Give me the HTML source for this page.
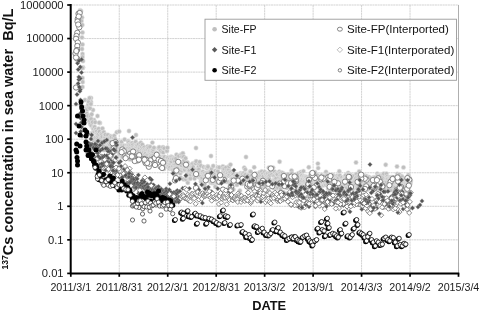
<!DOCTYPE html>
<html><head><meta charset="utf-8"><title>137Cs concentration in sea water</title>
<style>
html,body{margin:0;padding:0;background:#fff;}
svg{display:block;font-family:"Liberation Sans",sans-serif;}
</style></head><body>
<svg width="480" height="312" viewBox="0 0 480 312">
<rect width="480" height="312" fill="#fff"/>
<g stroke="#cbcbcb" stroke-width="0.85" stroke-dasharray="2.1 0.5" fill="none">
<line x1="70.8" y1="5.00" x2="458.5" y2="5.00"/>
<line x1="70.8" y1="38.55" x2="458.5" y2="38.55"/>
<line x1="70.8" y1="72.10" x2="458.5" y2="72.10"/>
<line x1="70.8" y1="105.65" x2="458.5" y2="105.65"/>
<line x1="70.8" y1="139.20" x2="458.5" y2="139.20"/>
<line x1="70.8" y1="172.75" x2="458.5" y2="172.75"/>
<line x1="70.8" y1="206.30" x2="458.5" y2="206.30"/>
<line x1="70.8" y1="239.85" x2="458.5" y2="239.85"/>
<line x1="119.26" y1="5.0" x2="119.26" y2="273.4"/>
<line x1="167.72" y1="5.0" x2="167.72" y2="273.4"/>
<line x1="216.19" y1="5.0" x2="216.19" y2="273.4"/>
<line x1="264.65" y1="5.0" x2="264.65" y2="273.4"/>
<line x1="313.11" y1="5.0" x2="313.11" y2="273.4"/>
<line x1="361.57" y1="5.0" x2="361.57" y2="273.4"/>
<line x1="410.04" y1="5.0" x2="410.04" y2="273.4"/>
</g>
<path d="M458.5 5.0V273.4" fill="none" stroke="#a6a6a6" stroke-width="0.9"/>
<g>
<circle cx="80.0" cy="10.4" r="2.2" fill="#bfbfbf" stroke="#e6e6e6" stroke-width="0.6"/>
<circle cx="81.0" cy="11.0" r="2.2" fill="#bfbfbf" stroke="#e6e6e6" stroke-width="0.6"/>
<circle cx="82.0" cy="17.5" r="2.2" fill="#bfbfbf" stroke="#e6e6e6" stroke-width="0.6"/>
<circle cx="81.5" cy="21.0" r="2.2" fill="#bfbfbf" stroke="#e6e6e6" stroke-width="0.6"/>
<circle cx="82.3" cy="25.0" r="2.2" fill="#bfbfbf" stroke="#e6e6e6" stroke-width="0.6"/>
<circle cx="82.5" cy="32.5" r="2.2" fill="#bfbfbf" stroke="#e6e6e6" stroke-width="0.6"/>
<circle cx="82.0" cy="37.5" r="2.2" fill="#bfbfbf" stroke="#e6e6e6" stroke-width="0.6"/>
<circle cx="82.5" cy="44.5" r="2.2" fill="#bfbfbf" stroke="#e6e6e6" stroke-width="0.6"/>
<circle cx="82.0" cy="49.0" r="2.2" fill="#bfbfbf" stroke="#e6e6e6" stroke-width="0.6"/>
<circle cx="82.5" cy="54.0" r="2.2" fill="#bfbfbf" stroke="#e6e6e6" stroke-width="0.6"/>
<circle cx="82.5" cy="57.0" r="2.2" fill="#bfbfbf" stroke="#e6e6e6" stroke-width="0.6"/>
<circle cx="83.0" cy="67.5" r="2.2" fill="#bfbfbf" stroke="#e6e6e6" stroke-width="0.6"/>
<circle cx="82.5" cy="68.0" r="2.2" fill="#bfbfbf" stroke="#e6e6e6" stroke-width="0.6"/>
<circle cx="82.5" cy="78.0" r="2.2" fill="#bfbfbf" stroke="#e6e6e6" stroke-width="0.6"/>
<circle cx="82.7" cy="82.0" r="2.2" fill="#bfbfbf" stroke="#e6e6e6" stroke-width="0.6"/>
<circle cx="82.5" cy="87.0" r="2.2" fill="#bfbfbf" stroke="#e6e6e6" stroke-width="0.6"/>
<circle cx="83.0" cy="61.0" r="2.2" fill="#bfbfbf" stroke="#e6e6e6" stroke-width="0.6"/>
<circle cx="91.0" cy="98.0" r="2.2" fill="#bfbfbf" stroke="#e6e6e6" stroke-width="0.6"/>
<circle cx="85.0" cy="100.0" r="2.2" fill="#bfbfbf" stroke="#e6e6e6" stroke-width="0.6"/>
<circle cx="91.0" cy="102.0" r="2.2" fill="#bfbfbf" stroke="#e6e6e6" stroke-width="0.6"/>
<circle cx="93.0" cy="110.0" r="2.2" fill="#bfbfbf" stroke="#e6e6e6" stroke-width="0.6"/>
<circle cx="97.5" cy="116.0" r="2.2" fill="#bfbfbf" stroke="#e6e6e6" stroke-width="0.6"/>
<circle cx="89.0" cy="116.0" r="2.2" fill="#bfbfbf" stroke="#e6e6e6" stroke-width="0.6"/>
<circle cx="90.0" cy="122.0" r="2.2" fill="#bfbfbf" stroke="#e6e6e6" stroke-width="0.6"/>
<circle cx="94.0" cy="120.0" r="2.2" fill="#bfbfbf" stroke="#e6e6e6" stroke-width="0.6"/>
<circle cx="100.0" cy="123.0" r="2.2" fill="#bfbfbf" stroke="#e6e6e6" stroke-width="0.6"/>
<circle cx="86.0" cy="110.8" r="2.2" fill="#bfbfbf" stroke="#e6e6e6" stroke-width="0.6"/>
<circle cx="86.3" cy="109.1" r="2.2" fill="#bfbfbf" stroke="#e6e6e6" stroke-width="0.6"/>
<circle cx="86.5" cy="108.2" r="2.2" fill="#bfbfbf" stroke="#e6e6e6" stroke-width="0.6"/>
<circle cx="86.8" cy="113.6" r="2.2" fill="#bfbfbf" stroke="#e6e6e6" stroke-width="0.6"/>
<circle cx="87.1" cy="109.4" r="2.2" fill="#bfbfbf" stroke="#e6e6e6" stroke-width="0.6"/>
<circle cx="87.3" cy="119.0" r="2.2" fill="#bfbfbf" stroke="#e6e6e6" stroke-width="0.6"/>
<circle cx="87.6" cy="116.3" r="2.2" fill="#bfbfbf" stroke="#e6e6e6" stroke-width="0.6"/>
<circle cx="87.9" cy="115.8" r="2.2" fill="#bfbfbf" stroke="#e6e6e6" stroke-width="0.6"/>
<circle cx="88.2" cy="104.8" r="2.2" fill="#bfbfbf" stroke="#e6e6e6" stroke-width="0.6"/>
<circle cx="88.4" cy="100.5" r="2.2" fill="#bfbfbf" stroke="#e6e6e6" stroke-width="0.6"/>
<circle cx="88.7" cy="101.8" r="2.2" fill="#bfbfbf" stroke="#e6e6e6" stroke-width="0.6"/>
<circle cx="89.0" cy="107.7" r="2.2" fill="#bfbfbf" stroke="#e6e6e6" stroke-width="0.6"/>
<circle cx="89.2" cy="121.3" r="2.2" fill="#bfbfbf" stroke="#e6e6e6" stroke-width="0.6"/>
<circle cx="89.5" cy="98.0" r="2.2" fill="#bfbfbf" stroke="#e6e6e6" stroke-width="0.6"/>
<circle cx="89.8" cy="120.9" r="2.2" fill="#bfbfbf" stroke="#e6e6e6" stroke-width="0.6"/>
<circle cx="90.0" cy="108.3" r="2.2" fill="#bfbfbf" stroke="#e6e6e6" stroke-width="0.6"/>
<circle cx="90.3" cy="124.0" r="2.2" fill="#bfbfbf" stroke="#e6e6e6" stroke-width="0.6"/>
<circle cx="90.6" cy="115.9" r="2.2" fill="#bfbfbf" stroke="#e6e6e6" stroke-width="0.6"/>
<circle cx="90.9" cy="104.0" r="2.2" fill="#bfbfbf" stroke="#e6e6e6" stroke-width="0.6"/>
<circle cx="91.1" cy="119.0" r="2.2" fill="#bfbfbf" stroke="#e6e6e6" stroke-width="0.6"/>
<circle cx="91.4" cy="125.8" r="2.2" fill="#bfbfbf" stroke="#e6e6e6" stroke-width="0.6"/>
<circle cx="91.7" cy="114.3" r="2.2" fill="#bfbfbf" stroke="#e6e6e6" stroke-width="0.6"/>
<circle cx="91.9" cy="138.1" r="2.2" fill="#bfbfbf" stroke="#e6e6e6" stroke-width="0.6"/>
<circle cx="92.2" cy="132.9" r="2.2" fill="#bfbfbf" stroke="#e6e6e6" stroke-width="0.6"/>
<circle cx="92.5" cy="122.1" r="2.2" fill="#bfbfbf" stroke="#e6e6e6" stroke-width="0.6"/>
<circle cx="92.7" cy="133.2" r="2.2" fill="#bfbfbf" stroke="#e6e6e6" stroke-width="0.6"/>
<circle cx="93.0" cy="128.6" r="2.2" fill="#bfbfbf" stroke="#e6e6e6" stroke-width="0.6"/>
<circle cx="93.3" cy="127.2" r="2.2" fill="#bfbfbf" stroke="#e6e6e6" stroke-width="0.6"/>
<circle cx="93.6" cy="128.6" r="2.2" fill="#bfbfbf" stroke="#e6e6e6" stroke-width="0.6"/>
<circle cx="93.8" cy="140.4" r="2.2" fill="#bfbfbf" stroke="#e6e6e6" stroke-width="0.6"/>
<circle cx="94.1" cy="131.7" r="2.2" fill="#bfbfbf" stroke="#e6e6e6" stroke-width="0.6"/>
<circle cx="94.4" cy="131.7" r="2.2" fill="#bfbfbf" stroke="#e6e6e6" stroke-width="0.6"/>
<circle cx="94.6" cy="126.9" r="2.2" fill="#bfbfbf" stroke="#e6e6e6" stroke-width="0.6"/>
<circle cx="94.9" cy="138.6" r="2.2" fill="#bfbfbf" stroke="#e6e6e6" stroke-width="0.6"/>
<circle cx="95.2" cy="122.3" r="2.2" fill="#bfbfbf" stroke="#e6e6e6" stroke-width="0.6"/>
<circle cx="95.4" cy="137.5" r="2.2" fill="#bfbfbf" stroke="#e6e6e6" stroke-width="0.6"/>
<circle cx="95.7" cy="129.5" r="2.2" fill="#bfbfbf" stroke="#e6e6e6" stroke-width="0.6"/>
<circle cx="96.0" cy="142.8" r="2.2" fill="#bfbfbf" stroke="#e6e6e6" stroke-width="0.6"/>
<circle cx="96.3" cy="131.3" r="2.2" fill="#bfbfbf" stroke="#e6e6e6" stroke-width="0.6"/>
<circle cx="96.5" cy="132.3" r="2.2" fill="#bfbfbf" stroke="#e6e6e6" stroke-width="0.6"/>
<circle cx="96.8" cy="131.3" r="2.2" fill="#bfbfbf" stroke="#e6e6e6" stroke-width="0.6"/>
<circle cx="97.1" cy="137.5" r="2.2" fill="#bfbfbf" stroke="#e6e6e6" stroke-width="0.6"/>
<circle cx="97.3" cy="133.8" r="2.2" fill="#bfbfbf" stroke="#e6e6e6" stroke-width="0.6"/>
<circle cx="97.6" cy="135.6" r="2.2" fill="#bfbfbf" stroke="#e6e6e6" stroke-width="0.6"/>
<circle cx="97.9" cy="144.8" r="2.2" fill="#bfbfbf" stroke="#e6e6e6" stroke-width="0.6"/>
<circle cx="98.1" cy="136.2" r="2.2" fill="#bfbfbf" stroke="#e6e6e6" stroke-width="0.6"/>
<circle cx="98.4" cy="134.2" r="2.2" fill="#bfbfbf" stroke="#e6e6e6" stroke-width="0.6"/>
<circle cx="98.7" cy="128.8" r="2.2" fill="#bfbfbf" stroke="#e6e6e6" stroke-width="0.6"/>
<circle cx="99.0" cy="140.1" r="2.2" fill="#bfbfbf" stroke="#e6e6e6" stroke-width="0.6"/>
<circle cx="99.2" cy="122.7" r="2.2" fill="#bfbfbf" stroke="#e6e6e6" stroke-width="0.6"/>
<circle cx="99.5" cy="131.6" r="2.2" fill="#bfbfbf" stroke="#e6e6e6" stroke-width="0.6"/>
<circle cx="99.8" cy="155.5" r="2.2" fill="#bfbfbf" stroke="#e6e6e6" stroke-width="0.6"/>
<circle cx="100.0" cy="135.3" r="2.2" fill="#bfbfbf" stroke="#e6e6e6" stroke-width="0.6"/>
<circle cx="100.3" cy="142.1" r="2.2" fill="#bfbfbf" stroke="#e6e6e6" stroke-width="0.6"/>
<circle cx="100.6" cy="138.1" r="2.2" fill="#bfbfbf" stroke="#e6e6e6" stroke-width="0.6"/>
<circle cx="100.8" cy="142.6" r="2.2" fill="#bfbfbf" stroke="#e6e6e6" stroke-width="0.6"/>
<circle cx="101.1" cy="139.2" r="2.2" fill="#bfbfbf" stroke="#e6e6e6" stroke-width="0.6"/>
<circle cx="101.4" cy="133.5" r="2.2" fill="#bfbfbf" stroke="#e6e6e6" stroke-width="0.6"/>
<circle cx="101.7" cy="134.8" r="2.2" fill="#bfbfbf" stroke="#e6e6e6" stroke-width="0.6"/>
<circle cx="101.9" cy="141.3" r="2.2" fill="#bfbfbf" stroke="#e6e6e6" stroke-width="0.6"/>
<circle cx="102.2" cy="136.8" r="2.2" fill="#bfbfbf" stroke="#e6e6e6" stroke-width="0.6"/>
<circle cx="102.5" cy="128.5" r="2.2" fill="#bfbfbf" stroke="#e6e6e6" stroke-width="0.6"/>
<circle cx="102.7" cy="142.8" r="2.2" fill="#bfbfbf" stroke="#e6e6e6" stroke-width="0.6"/>
<circle cx="103.0" cy="145.9" r="2.2" fill="#bfbfbf" stroke="#e6e6e6" stroke-width="0.6"/>
<circle cx="103.3" cy="145.5" r="2.2" fill="#bfbfbf" stroke="#e6e6e6" stroke-width="0.6"/>
<circle cx="103.5" cy="145.8" r="2.2" fill="#bfbfbf" stroke="#e6e6e6" stroke-width="0.6"/>
<circle cx="103.8" cy="132.1" r="2.2" fill="#bfbfbf" stroke="#e6e6e6" stroke-width="0.6"/>
<circle cx="104.1" cy="150.1" r="2.2" fill="#bfbfbf" stroke="#e6e6e6" stroke-width="0.6"/>
<circle cx="104.4" cy="140.0" r="2.2" fill="#bfbfbf" stroke="#e6e6e6" stroke-width="0.6"/>
<circle cx="104.6" cy="135.9" r="2.2" fill="#bfbfbf" stroke="#e6e6e6" stroke-width="0.6"/>
<circle cx="104.9" cy="138.7" r="2.2" fill="#bfbfbf" stroke="#e6e6e6" stroke-width="0.6"/>
<circle cx="105.2" cy="137.3" r="2.2" fill="#bfbfbf" stroke="#e6e6e6" stroke-width="0.6"/>
<circle cx="105.4" cy="134.6" r="2.2" fill="#bfbfbf" stroke="#e6e6e6" stroke-width="0.6"/>
<circle cx="105.7" cy="141.5" r="2.2" fill="#bfbfbf" stroke="#e6e6e6" stroke-width="0.6"/>
<circle cx="106.0" cy="142.7" r="2.2" fill="#bfbfbf" stroke="#e6e6e6" stroke-width="0.6"/>
<circle cx="106.2" cy="140.8" r="2.2" fill="#bfbfbf" stroke="#e6e6e6" stroke-width="0.6"/>
<circle cx="106.5" cy="143.0" r="2.2" fill="#bfbfbf" stroke="#e6e6e6" stroke-width="0.6"/>
<circle cx="106.8" cy="141.3" r="2.2" fill="#bfbfbf" stroke="#e6e6e6" stroke-width="0.6"/>
<circle cx="107.1" cy="138.4" r="2.2" fill="#bfbfbf" stroke="#e6e6e6" stroke-width="0.6"/>
<circle cx="107.3" cy="139.4" r="2.2" fill="#bfbfbf" stroke="#e6e6e6" stroke-width="0.6"/>
<circle cx="107.6" cy="145.6" r="2.2" fill="#bfbfbf" stroke="#e6e6e6" stroke-width="0.6"/>
<circle cx="107.9" cy="135.0" r="2.2" fill="#bfbfbf" stroke="#e6e6e6" stroke-width="0.6"/>
<circle cx="108.1" cy="140.1" r="2.2" fill="#bfbfbf" stroke="#e6e6e6" stroke-width="0.6"/>
<circle cx="108.4" cy="148.5" r="2.2" fill="#bfbfbf" stroke="#e6e6e6" stroke-width="0.6"/>
<circle cx="108.7" cy="144.6" r="2.2" fill="#bfbfbf" stroke="#e6e6e6" stroke-width="0.6"/>
<circle cx="108.9" cy="147.1" r="2.2" fill="#bfbfbf" stroke="#e6e6e6" stroke-width="0.6"/>
<circle cx="109.2" cy="143.7" r="2.2" fill="#bfbfbf" stroke="#e6e6e6" stroke-width="0.6"/>
<circle cx="109.5" cy="137.4" r="2.2" fill="#bfbfbf" stroke="#e6e6e6" stroke-width="0.6"/>
<circle cx="109.8" cy="141.8" r="2.2" fill="#bfbfbf" stroke="#e6e6e6" stroke-width="0.6"/>
<circle cx="110.0" cy="144.8" r="2.2" fill="#bfbfbf" stroke="#e6e6e6" stroke-width="0.6"/>
<circle cx="110.3" cy="142.0" r="2.2" fill="#bfbfbf" stroke="#e6e6e6" stroke-width="0.6"/>
<circle cx="110.6" cy="136.1" r="2.2" fill="#bfbfbf" stroke="#e6e6e6" stroke-width="0.6"/>
<circle cx="110.8" cy="152.3" r="2.2" fill="#bfbfbf" stroke="#e6e6e6" stroke-width="0.6"/>
<circle cx="111.1" cy="147.6" r="2.2" fill="#bfbfbf" stroke="#e6e6e6" stroke-width="0.6"/>
<circle cx="111.4" cy="137.1" r="2.2" fill="#bfbfbf" stroke="#e6e6e6" stroke-width="0.6"/>
<circle cx="111.6" cy="143.5" r="2.2" fill="#bfbfbf" stroke="#e6e6e6" stroke-width="0.6"/>
<circle cx="111.9" cy="150.3" r="2.2" fill="#bfbfbf" stroke="#e6e6e6" stroke-width="0.6"/>
<circle cx="112.2" cy="150.3" r="2.2" fill="#bfbfbf" stroke="#e6e6e6" stroke-width="0.6"/>
<circle cx="112.5" cy="153.3" r="2.2" fill="#bfbfbf" stroke="#e6e6e6" stroke-width="0.6"/>
<circle cx="112.7" cy="150.1" r="2.2" fill="#bfbfbf" stroke="#e6e6e6" stroke-width="0.6"/>
<circle cx="113.0" cy="150.3" r="2.2" fill="#bfbfbf" stroke="#e6e6e6" stroke-width="0.6"/>
<circle cx="113.3" cy="153.4" r="2.2" fill="#bfbfbf" stroke="#e6e6e6" stroke-width="0.6"/>
<circle cx="113.5" cy="137.6" r="2.2" fill="#bfbfbf" stroke="#e6e6e6" stroke-width="0.6"/>
<circle cx="113.8" cy="141.1" r="2.2" fill="#bfbfbf" stroke="#e6e6e6" stroke-width="0.6"/>
<circle cx="114.1" cy="150.4" r="2.2" fill="#bfbfbf" stroke="#e6e6e6" stroke-width="0.6"/>
<circle cx="114.3" cy="135.8" r="2.2" fill="#bfbfbf" stroke="#e6e6e6" stroke-width="0.6"/>
<circle cx="114.6" cy="146.6" r="2.2" fill="#bfbfbf" stroke="#e6e6e6" stroke-width="0.6"/>
<circle cx="114.9" cy="146.7" r="2.2" fill="#bfbfbf" stroke="#e6e6e6" stroke-width="0.6"/>
<circle cx="115.2" cy="139.0" r="2.2" fill="#bfbfbf" stroke="#e6e6e6" stroke-width="0.6"/>
<circle cx="115.4" cy="141.8" r="2.2" fill="#bfbfbf" stroke="#e6e6e6" stroke-width="0.6"/>
<circle cx="115.7" cy="149.2" r="2.2" fill="#bfbfbf" stroke="#e6e6e6" stroke-width="0.6"/>
<circle cx="116.0" cy="148.8" r="2.2" fill="#bfbfbf" stroke="#e6e6e6" stroke-width="0.6"/>
<circle cx="116.2" cy="143.6" r="2.2" fill="#bfbfbf" stroke="#e6e6e6" stroke-width="0.6"/>
<circle cx="116.5" cy="142.5" r="2.2" fill="#bfbfbf" stroke="#e6e6e6" stroke-width="0.6"/>
<circle cx="116.8" cy="132.3" r="2.2" fill="#bfbfbf" stroke="#e6e6e6" stroke-width="0.6"/>
<circle cx="117.0" cy="157.2" r="2.2" fill="#bfbfbf" stroke="#e6e6e6" stroke-width="0.6"/>
<circle cx="117.3" cy="151.6" r="2.2" fill="#bfbfbf" stroke="#e6e6e6" stroke-width="0.6"/>
<circle cx="117.6" cy="147.2" r="2.2" fill="#bfbfbf" stroke="#e6e6e6" stroke-width="0.6"/>
<circle cx="117.9" cy="145.1" r="2.2" fill="#bfbfbf" stroke="#e6e6e6" stroke-width="0.6"/>
<circle cx="118.1" cy="147.0" r="2.2" fill="#bfbfbf" stroke="#e6e6e6" stroke-width="0.6"/>
<circle cx="118.4" cy="146.1" r="2.2" fill="#bfbfbf" stroke="#e6e6e6" stroke-width="0.6"/>
<circle cx="118.7" cy="147.5" r="2.2" fill="#bfbfbf" stroke="#e6e6e6" stroke-width="0.6"/>
<circle cx="118.9" cy="144.2" r="2.2" fill="#bfbfbf" stroke="#e6e6e6" stroke-width="0.6"/>
<circle cx="119.2" cy="131.5" r="2.2" fill="#bfbfbf" stroke="#e6e6e6" stroke-width="0.6"/>
<circle cx="119.5" cy="154.5" r="2.2" fill="#bfbfbf" stroke="#e6e6e6" stroke-width="0.6"/>
<circle cx="119.7" cy="142.1" r="2.2" fill="#bfbfbf" stroke="#e6e6e6" stroke-width="0.6"/>
<circle cx="120.0" cy="153.7" r="2.2" fill="#bfbfbf" stroke="#e6e6e6" stroke-width="0.6"/>
<circle cx="120.3" cy="148.3" r="2.2" fill="#bfbfbf" stroke="#e6e6e6" stroke-width="0.6"/>
<circle cx="120.6" cy="148.3" r="2.2" fill="#bfbfbf" stroke="#e6e6e6" stroke-width="0.6"/>
<circle cx="120.8" cy="150.9" r="2.2" fill="#bfbfbf" stroke="#e6e6e6" stroke-width="0.6"/>
<circle cx="121.1" cy="142.9" r="2.2" fill="#bfbfbf" stroke="#e6e6e6" stroke-width="0.6"/>
<circle cx="121.4" cy="144.8" r="2.2" fill="#bfbfbf" stroke="#e6e6e6" stroke-width="0.6"/>
<circle cx="121.6" cy="141.9" r="2.2" fill="#bfbfbf" stroke="#e6e6e6" stroke-width="0.6"/>
<circle cx="121.9" cy="148.2" r="2.2" fill="#bfbfbf" stroke="#e6e6e6" stroke-width="0.6"/>
<circle cx="122.2" cy="156.9" r="2.2" fill="#bfbfbf" stroke="#e6e6e6" stroke-width="0.6"/>
<circle cx="122.4" cy="146.0" r="2.2" fill="#bfbfbf" stroke="#e6e6e6" stroke-width="0.6"/>
<circle cx="122.7" cy="150.3" r="2.2" fill="#bfbfbf" stroke="#e6e6e6" stroke-width="0.6"/>
<circle cx="123.0" cy="149.7" r="2.2" fill="#bfbfbf" stroke="#e6e6e6" stroke-width="0.6"/>
<circle cx="123.3" cy="148.9" r="2.2" fill="#bfbfbf" stroke="#e6e6e6" stroke-width="0.6"/>
<circle cx="123.5" cy="147.1" r="2.2" fill="#bfbfbf" stroke="#e6e6e6" stroke-width="0.6"/>
<circle cx="123.8" cy="154.4" r="2.2" fill="#bfbfbf" stroke="#e6e6e6" stroke-width="0.6"/>
<circle cx="124.1" cy="148.5" r="2.2" fill="#bfbfbf" stroke="#e6e6e6" stroke-width="0.6"/>
<circle cx="124.3" cy="145.8" r="2.2" fill="#bfbfbf" stroke="#e6e6e6" stroke-width="0.6"/>
<circle cx="124.6" cy="139.5" r="2.2" fill="#bfbfbf" stroke="#e6e6e6" stroke-width="0.6"/>
<circle cx="124.9" cy="153.5" r="2.2" fill="#bfbfbf" stroke="#e6e6e6" stroke-width="0.6"/>
<circle cx="125.1" cy="152.0" r="2.2" fill="#bfbfbf" stroke="#e6e6e6" stroke-width="0.6"/>
<circle cx="125.4" cy="149.8" r="2.2" fill="#bfbfbf" stroke="#e6e6e6" stroke-width="0.6"/>
<circle cx="125.7" cy="147.7" r="2.2" fill="#bfbfbf" stroke="#e6e6e6" stroke-width="0.6"/>
<circle cx="126.0" cy="156.4" r="2.2" fill="#bfbfbf" stroke="#e6e6e6" stroke-width="0.6"/>
<circle cx="126.2" cy="148.5" r="2.2" fill="#bfbfbf" stroke="#e6e6e6" stroke-width="0.6"/>
<circle cx="126.5" cy="145.7" r="2.2" fill="#bfbfbf" stroke="#e6e6e6" stroke-width="0.6"/>
<circle cx="126.8" cy="151.4" r="2.2" fill="#bfbfbf" stroke="#e6e6e6" stroke-width="0.6"/>
<circle cx="127.0" cy="147.2" r="2.2" fill="#bfbfbf" stroke="#e6e6e6" stroke-width="0.6"/>
<circle cx="127.3" cy="148.6" r="2.2" fill="#bfbfbf" stroke="#e6e6e6" stroke-width="0.6"/>
<circle cx="127.6" cy="147.0" r="2.2" fill="#bfbfbf" stroke="#e6e6e6" stroke-width="0.6"/>
<circle cx="127.8" cy="147.9" r="2.2" fill="#bfbfbf" stroke="#e6e6e6" stroke-width="0.6"/>
<circle cx="128.1" cy="141.1" r="2.2" fill="#bfbfbf" stroke="#e6e6e6" stroke-width="0.6"/>
<circle cx="128.4" cy="144.8" r="2.2" fill="#bfbfbf" stroke="#e6e6e6" stroke-width="0.6"/>
<circle cx="128.7" cy="145.3" r="2.2" fill="#bfbfbf" stroke="#e6e6e6" stroke-width="0.6"/>
<circle cx="128.9" cy="142.3" r="2.2" fill="#bfbfbf" stroke="#e6e6e6" stroke-width="0.6"/>
<circle cx="129.2" cy="147.7" r="2.2" fill="#bfbfbf" stroke="#e6e6e6" stroke-width="0.6"/>
<circle cx="129.5" cy="150.2" r="2.2" fill="#bfbfbf" stroke="#e6e6e6" stroke-width="0.6"/>
<circle cx="129.7" cy="144.3" r="2.2" fill="#bfbfbf" stroke="#e6e6e6" stroke-width="0.6"/>
<circle cx="130.0" cy="159.4" r="2.2" fill="#bfbfbf" stroke="#e6e6e6" stroke-width="0.6"/>
<circle cx="130.3" cy="148.4" r="2.2" fill="#bfbfbf" stroke="#e6e6e6" stroke-width="0.6"/>
<circle cx="130.5" cy="151.0" r="2.2" fill="#bfbfbf" stroke="#e6e6e6" stroke-width="0.6"/>
<circle cx="130.8" cy="143.9" r="2.2" fill="#bfbfbf" stroke="#e6e6e6" stroke-width="0.6"/>
<circle cx="131.1" cy="145.0" r="2.2" fill="#bfbfbf" stroke="#e6e6e6" stroke-width="0.6"/>
<circle cx="131.4" cy="157.1" r="2.2" fill="#bfbfbf" stroke="#e6e6e6" stroke-width="0.6"/>
<circle cx="131.6" cy="152.3" r="2.2" fill="#bfbfbf" stroke="#e6e6e6" stroke-width="0.6"/>
<circle cx="131.9" cy="148.6" r="2.2" fill="#bfbfbf" stroke="#e6e6e6" stroke-width="0.6"/>
<circle cx="132.2" cy="142.9" r="2.2" fill="#bfbfbf" stroke="#e6e6e6" stroke-width="0.6"/>
<circle cx="132.4" cy="157.1" r="2.2" fill="#bfbfbf" stroke="#e6e6e6" stroke-width="0.6"/>
<circle cx="132.7" cy="145.0" r="2.2" fill="#bfbfbf" stroke="#e6e6e6" stroke-width="0.6"/>
<circle cx="133.0" cy="147.2" r="2.2" fill="#bfbfbf" stroke="#e6e6e6" stroke-width="0.6"/>
<circle cx="133.2" cy="148.7" r="2.2" fill="#bfbfbf" stroke="#e6e6e6" stroke-width="0.6"/>
<circle cx="133.5" cy="151.3" r="2.2" fill="#bfbfbf" stroke="#e6e6e6" stroke-width="0.6"/>
<circle cx="133.8" cy="149.6" r="2.2" fill="#bfbfbf" stroke="#e6e6e6" stroke-width="0.6"/>
<circle cx="134.1" cy="149.5" r="2.2" fill="#bfbfbf" stroke="#e6e6e6" stroke-width="0.6"/>
<circle cx="134.3" cy="159.3" r="2.2" fill="#bfbfbf" stroke="#e6e6e6" stroke-width="0.6"/>
<circle cx="134.6" cy="150.2" r="2.2" fill="#bfbfbf" stroke="#e6e6e6" stroke-width="0.6"/>
<circle cx="134.9" cy="151.9" r="2.2" fill="#bfbfbf" stroke="#e6e6e6" stroke-width="0.6"/>
<circle cx="135.1" cy="143.0" r="2.2" fill="#bfbfbf" stroke="#e6e6e6" stroke-width="0.6"/>
<circle cx="135.4" cy="153.7" r="2.2" fill="#bfbfbf" stroke="#e6e6e6" stroke-width="0.6"/>
<circle cx="135.7" cy="141.7" r="2.2" fill="#bfbfbf" stroke="#e6e6e6" stroke-width="0.6"/>
<circle cx="135.9" cy="147.0" r="2.2" fill="#bfbfbf" stroke="#e6e6e6" stroke-width="0.6"/>
<circle cx="136.2" cy="161.8" r="2.2" fill="#bfbfbf" stroke="#e6e6e6" stroke-width="0.6"/>
<circle cx="136.5" cy="146.7" r="2.2" fill="#bfbfbf" stroke="#e6e6e6" stroke-width="0.6"/>
<circle cx="136.8" cy="150.4" r="2.2" fill="#bfbfbf" stroke="#e6e6e6" stroke-width="0.6"/>
<circle cx="137.0" cy="145.1" r="2.2" fill="#bfbfbf" stroke="#e6e6e6" stroke-width="0.6"/>
<circle cx="137.3" cy="145.2" r="2.2" fill="#bfbfbf" stroke="#e6e6e6" stroke-width="0.6"/>
<circle cx="137.6" cy="156.3" r="2.2" fill="#bfbfbf" stroke="#e6e6e6" stroke-width="0.6"/>
<circle cx="137.8" cy="148.8" r="2.2" fill="#bfbfbf" stroke="#e6e6e6" stroke-width="0.6"/>
<circle cx="138.1" cy="150.6" r="2.2" fill="#bfbfbf" stroke="#e6e6e6" stroke-width="0.6"/>
<circle cx="138.4" cy="149.7" r="2.2" fill="#bfbfbf" stroke="#e6e6e6" stroke-width="0.6"/>
<circle cx="138.6" cy="144.2" r="2.2" fill="#bfbfbf" stroke="#e6e6e6" stroke-width="0.6"/>
<circle cx="138.9" cy="150.6" r="2.2" fill="#bfbfbf" stroke="#e6e6e6" stroke-width="0.6"/>
<circle cx="139.2" cy="156.7" r="2.2" fill="#bfbfbf" stroke="#e6e6e6" stroke-width="0.6"/>
<circle cx="139.5" cy="147.9" r="2.2" fill="#bfbfbf" stroke="#e6e6e6" stroke-width="0.6"/>
<circle cx="139.7" cy="153.9" r="2.2" fill="#bfbfbf" stroke="#e6e6e6" stroke-width="0.6"/>
<circle cx="140.0" cy="157.1" r="2.2" fill="#bfbfbf" stroke="#e6e6e6" stroke-width="0.6"/>
<circle cx="140.3" cy="146.0" r="2.2" fill="#bfbfbf" stroke="#e6e6e6" stroke-width="0.6"/>
<circle cx="140.5" cy="156.2" r="2.2" fill="#bfbfbf" stroke="#e6e6e6" stroke-width="0.6"/>
<circle cx="140.8" cy="142.8" r="2.2" fill="#bfbfbf" stroke="#e6e6e6" stroke-width="0.6"/>
<circle cx="141.1" cy="155.4" r="2.2" fill="#bfbfbf" stroke="#e6e6e6" stroke-width="0.6"/>
<circle cx="141.3" cy="150.6" r="2.2" fill="#bfbfbf" stroke="#e6e6e6" stroke-width="0.6"/>
<circle cx="141.6" cy="147.0" r="2.2" fill="#bfbfbf" stroke="#e6e6e6" stroke-width="0.6"/>
<circle cx="141.9" cy="151.9" r="2.2" fill="#bfbfbf" stroke="#e6e6e6" stroke-width="0.6"/>
<circle cx="142.2" cy="149.6" r="2.2" fill="#bfbfbf" stroke="#e6e6e6" stroke-width="0.6"/>
<circle cx="142.4" cy="144.6" r="2.2" fill="#bfbfbf" stroke="#e6e6e6" stroke-width="0.6"/>
<circle cx="142.7" cy="158.0" r="2.2" fill="#bfbfbf" stroke="#e6e6e6" stroke-width="0.6"/>
<circle cx="143.0" cy="158.5" r="2.2" fill="#bfbfbf" stroke="#e6e6e6" stroke-width="0.6"/>
<circle cx="143.2" cy="148.1" r="2.2" fill="#bfbfbf" stroke="#e6e6e6" stroke-width="0.6"/>
<circle cx="143.5" cy="151.1" r="2.2" fill="#bfbfbf" stroke="#e6e6e6" stroke-width="0.6"/>
<circle cx="143.8" cy="150.8" r="2.2" fill="#bfbfbf" stroke="#e6e6e6" stroke-width="0.6"/>
<circle cx="144.0" cy="152.1" r="2.2" fill="#bfbfbf" stroke="#e6e6e6" stroke-width="0.6"/>
<circle cx="144.3" cy="147.3" r="2.2" fill="#bfbfbf" stroke="#e6e6e6" stroke-width="0.6"/>
<circle cx="144.6" cy="158.3" r="2.2" fill="#bfbfbf" stroke="#e6e6e6" stroke-width="0.6"/>
<circle cx="144.9" cy="154.0" r="2.2" fill="#bfbfbf" stroke="#e6e6e6" stroke-width="0.6"/>
<circle cx="145.1" cy="149.2" r="2.2" fill="#bfbfbf" stroke="#e6e6e6" stroke-width="0.6"/>
<circle cx="145.4" cy="151.6" r="2.2" fill="#bfbfbf" stroke="#e6e6e6" stroke-width="0.6"/>
<circle cx="145.7" cy="150.4" r="2.2" fill="#bfbfbf" stroke="#e6e6e6" stroke-width="0.6"/>
<circle cx="145.9" cy="153.2" r="2.2" fill="#bfbfbf" stroke="#e6e6e6" stroke-width="0.6"/>
<circle cx="146.2" cy="157.4" r="2.2" fill="#bfbfbf" stroke="#e6e6e6" stroke-width="0.6"/>
<circle cx="146.5" cy="157.6" r="2.2" fill="#bfbfbf" stroke="#e6e6e6" stroke-width="0.6"/>
<circle cx="146.8" cy="149.3" r="2.2" fill="#bfbfbf" stroke="#e6e6e6" stroke-width="0.6"/>
<circle cx="147.0" cy="155.1" r="2.2" fill="#bfbfbf" stroke="#e6e6e6" stroke-width="0.6"/>
<circle cx="147.3" cy="150.4" r="2.2" fill="#bfbfbf" stroke="#e6e6e6" stroke-width="0.6"/>
<circle cx="147.6" cy="146.4" r="2.2" fill="#bfbfbf" stroke="#e6e6e6" stroke-width="0.6"/>
<circle cx="147.8" cy="149.7" r="2.2" fill="#bfbfbf" stroke="#e6e6e6" stroke-width="0.6"/>
<circle cx="148.1" cy="154.9" r="2.2" fill="#bfbfbf" stroke="#e6e6e6" stroke-width="0.6"/>
<circle cx="148.4" cy="147.7" r="2.2" fill="#bfbfbf" stroke="#e6e6e6" stroke-width="0.6"/>
<circle cx="148.6" cy="151.7" r="2.2" fill="#bfbfbf" stroke="#e6e6e6" stroke-width="0.6"/>
<circle cx="148.9" cy="157.5" r="2.2" fill="#bfbfbf" stroke="#e6e6e6" stroke-width="0.6"/>
<circle cx="149.2" cy="152.1" r="2.2" fill="#bfbfbf" stroke="#e6e6e6" stroke-width="0.6"/>
<circle cx="149.5" cy="152.0" r="2.2" fill="#bfbfbf" stroke="#e6e6e6" stroke-width="0.6"/>
<circle cx="149.7" cy="151.0" r="2.2" fill="#bfbfbf" stroke="#e6e6e6" stroke-width="0.6"/>
<circle cx="150.0" cy="146.8" r="2.2" fill="#bfbfbf" stroke="#e6e6e6" stroke-width="0.6"/>
<circle cx="150.3" cy="154.5" r="2.2" fill="#bfbfbf" stroke="#e6e6e6" stroke-width="0.6"/>
<circle cx="150.5" cy="156.0" r="2.2" fill="#bfbfbf" stroke="#e6e6e6" stroke-width="0.6"/>
<circle cx="150.8" cy="156.5" r="2.2" fill="#bfbfbf" stroke="#e6e6e6" stroke-width="0.6"/>
<circle cx="151.1" cy="151.1" r="2.2" fill="#bfbfbf" stroke="#e6e6e6" stroke-width="0.6"/>
<circle cx="151.3" cy="151.3" r="2.2" fill="#bfbfbf" stroke="#e6e6e6" stroke-width="0.6"/>
<circle cx="151.6" cy="160.2" r="2.2" fill="#bfbfbf" stroke="#e6e6e6" stroke-width="0.6"/>
<circle cx="151.9" cy="151.8" r="2.2" fill="#bfbfbf" stroke="#e6e6e6" stroke-width="0.6"/>
<circle cx="152.2" cy="154.9" r="2.2" fill="#bfbfbf" stroke="#e6e6e6" stroke-width="0.6"/>
<circle cx="152.4" cy="142.6" r="2.2" fill="#bfbfbf" stroke="#e6e6e6" stroke-width="0.6"/>
<circle cx="152.7" cy="151.4" r="2.2" fill="#bfbfbf" stroke="#e6e6e6" stroke-width="0.6"/>
<circle cx="153.0" cy="151.5" r="2.2" fill="#bfbfbf" stroke="#e6e6e6" stroke-width="0.6"/>
<circle cx="153.2" cy="149.4" r="2.2" fill="#bfbfbf" stroke="#e6e6e6" stroke-width="0.6"/>
<circle cx="153.5" cy="164.0" r="2.2" fill="#bfbfbf" stroke="#e6e6e6" stroke-width="0.6"/>
<circle cx="153.8" cy="155.1" r="2.2" fill="#bfbfbf" stroke="#e6e6e6" stroke-width="0.6"/>
<circle cx="154.0" cy="147.7" r="2.2" fill="#bfbfbf" stroke="#e6e6e6" stroke-width="0.6"/>
<circle cx="154.3" cy="157.1" r="2.2" fill="#bfbfbf" stroke="#e6e6e6" stroke-width="0.6"/>
<circle cx="154.6" cy="156.9" r="2.2" fill="#bfbfbf" stroke="#e6e6e6" stroke-width="0.6"/>
<circle cx="154.9" cy="157.1" r="2.2" fill="#bfbfbf" stroke="#e6e6e6" stroke-width="0.6"/>
<circle cx="155.1" cy="164.0" r="2.2" fill="#bfbfbf" stroke="#e6e6e6" stroke-width="0.6"/>
<circle cx="155.4" cy="156.9" r="2.2" fill="#bfbfbf" stroke="#e6e6e6" stroke-width="0.6"/>
<circle cx="155.7" cy="157.4" r="2.2" fill="#bfbfbf" stroke="#e6e6e6" stroke-width="0.6"/>
<circle cx="155.9" cy="154.1" r="2.2" fill="#bfbfbf" stroke="#e6e6e6" stroke-width="0.6"/>
<circle cx="156.2" cy="152.6" r="2.2" fill="#bfbfbf" stroke="#e6e6e6" stroke-width="0.6"/>
<circle cx="156.5" cy="157.4" r="2.2" fill="#bfbfbf" stroke="#e6e6e6" stroke-width="0.6"/>
<circle cx="156.7" cy="157.1" r="2.2" fill="#bfbfbf" stroke="#e6e6e6" stroke-width="0.6"/>
<circle cx="157.0" cy="153.4" r="2.2" fill="#bfbfbf" stroke="#e6e6e6" stroke-width="0.6"/>
<circle cx="157.3" cy="155.4" r="2.2" fill="#bfbfbf" stroke="#e6e6e6" stroke-width="0.6"/>
<circle cx="157.6" cy="158.2" r="2.2" fill="#bfbfbf" stroke="#e6e6e6" stroke-width="0.6"/>
<circle cx="157.8" cy="158.7" r="2.2" fill="#bfbfbf" stroke="#e6e6e6" stroke-width="0.6"/>
<circle cx="158.1" cy="155.3" r="2.2" fill="#bfbfbf" stroke="#e6e6e6" stroke-width="0.6"/>
<circle cx="158.4" cy="148.1" r="2.2" fill="#bfbfbf" stroke="#e6e6e6" stroke-width="0.6"/>
<circle cx="158.6" cy="159.3" r="2.2" fill="#bfbfbf" stroke="#e6e6e6" stroke-width="0.6"/>
<circle cx="158.9" cy="156.5" r="2.2" fill="#bfbfbf" stroke="#e6e6e6" stroke-width="0.6"/>
<circle cx="159.2" cy="147.2" r="2.2" fill="#bfbfbf" stroke="#e6e6e6" stroke-width="0.6"/>
<circle cx="159.4" cy="159.3" r="2.2" fill="#bfbfbf" stroke="#e6e6e6" stroke-width="0.6"/>
<circle cx="159.7" cy="160.1" r="2.2" fill="#bfbfbf" stroke="#e6e6e6" stroke-width="0.6"/>
<circle cx="160.0" cy="161.1" r="2.2" fill="#bfbfbf" stroke="#e6e6e6" stroke-width="0.6"/>
<circle cx="160.3" cy="156.9" r="2.2" fill="#bfbfbf" stroke="#e6e6e6" stroke-width="0.6"/>
<circle cx="160.5" cy="150.8" r="2.2" fill="#bfbfbf" stroke="#e6e6e6" stroke-width="0.6"/>
<circle cx="160.8" cy="160.5" r="2.2" fill="#bfbfbf" stroke="#e6e6e6" stroke-width="0.6"/>
<circle cx="161.1" cy="161.2" r="2.2" fill="#bfbfbf" stroke="#e6e6e6" stroke-width="0.6"/>
<circle cx="161.3" cy="158.1" r="2.2" fill="#bfbfbf" stroke="#e6e6e6" stroke-width="0.6"/>
<circle cx="161.6" cy="161.6" r="2.2" fill="#bfbfbf" stroke="#e6e6e6" stroke-width="0.6"/>
<circle cx="161.9" cy="152.0" r="2.2" fill="#bfbfbf" stroke="#e6e6e6" stroke-width="0.6"/>
<circle cx="162.1" cy="165.5" r="2.2" fill="#bfbfbf" stroke="#e6e6e6" stroke-width="0.6"/>
<circle cx="162.4" cy="160.9" r="2.2" fill="#bfbfbf" stroke="#e6e6e6" stroke-width="0.6"/>
<circle cx="162.7" cy="164.5" r="2.2" fill="#bfbfbf" stroke="#e6e6e6" stroke-width="0.6"/>
<circle cx="163.0" cy="147.2" r="2.2" fill="#bfbfbf" stroke="#e6e6e6" stroke-width="0.6"/>
<circle cx="163.2" cy="152.5" r="2.2" fill="#bfbfbf" stroke="#e6e6e6" stroke-width="0.6"/>
<circle cx="163.5" cy="156.9" r="2.2" fill="#bfbfbf" stroke="#e6e6e6" stroke-width="0.6"/>
<circle cx="163.8" cy="158.3" r="2.2" fill="#bfbfbf" stroke="#e6e6e6" stroke-width="0.6"/>
<circle cx="164.0" cy="168.9" r="2.2" fill="#bfbfbf" stroke="#e6e6e6" stroke-width="0.6"/>
<circle cx="164.3" cy="148.3" r="2.2" fill="#bfbfbf" stroke="#e6e6e6" stroke-width="0.6"/>
<circle cx="164.6" cy="156.9" r="2.2" fill="#bfbfbf" stroke="#e6e6e6" stroke-width="0.6"/>
<circle cx="164.8" cy="162.4" r="2.2" fill="#bfbfbf" stroke="#e6e6e6" stroke-width="0.6"/>
<circle cx="165.1" cy="166.5" r="2.2" fill="#bfbfbf" stroke="#e6e6e6" stroke-width="0.6"/>
<circle cx="165.4" cy="160.3" r="2.2" fill="#bfbfbf" stroke="#e6e6e6" stroke-width="0.6"/>
<circle cx="165.7" cy="164.2" r="2.2" fill="#bfbfbf" stroke="#e6e6e6" stroke-width="0.6"/>
<circle cx="165.9" cy="163.2" r="2.2" fill="#bfbfbf" stroke="#e6e6e6" stroke-width="0.6"/>
<circle cx="166.2" cy="163.0" r="2.2" fill="#bfbfbf" stroke="#e6e6e6" stroke-width="0.6"/>
<circle cx="166.5" cy="151.1" r="2.2" fill="#bfbfbf" stroke="#e6e6e6" stroke-width="0.6"/>
<circle cx="166.7" cy="160.7" r="2.2" fill="#bfbfbf" stroke="#e6e6e6" stroke-width="0.6"/>
<circle cx="167.0" cy="150.9" r="2.2" fill="#bfbfbf" stroke="#e6e6e6" stroke-width="0.6"/>
<circle cx="167.3" cy="157.6" r="2.2" fill="#bfbfbf" stroke="#e6e6e6" stroke-width="0.6"/>
<circle cx="167.5" cy="147.7" r="2.2" fill="#bfbfbf" stroke="#e6e6e6" stroke-width="0.6"/>
<circle cx="167.8" cy="166.7" r="2.2" fill="#bfbfbf" stroke="#e6e6e6" stroke-width="0.6"/>
<circle cx="168.1" cy="157.8" r="2.2" fill="#bfbfbf" stroke="#e6e6e6" stroke-width="0.6"/>
<circle cx="168.4" cy="166.0" r="2.2" fill="#bfbfbf" stroke="#e6e6e6" stroke-width="0.6"/>
<circle cx="168.6" cy="160.8" r="2.2" fill="#bfbfbf" stroke="#e6e6e6" stroke-width="0.6"/>
<circle cx="168.9" cy="165.8" r="2.2" fill="#bfbfbf" stroke="#e6e6e6" stroke-width="0.6"/>
<circle cx="169.2" cy="168.6" r="2.2" fill="#bfbfbf" stroke="#e6e6e6" stroke-width="0.6"/>
<circle cx="169.4" cy="163.6" r="2.2" fill="#bfbfbf" stroke="#e6e6e6" stroke-width="0.6"/>
<circle cx="169.7" cy="158.7" r="2.2" fill="#bfbfbf" stroke="#e6e6e6" stroke-width="0.6"/>
<circle cx="170.0" cy="167.4" r="2.2" fill="#bfbfbf" stroke="#e6e6e6" stroke-width="0.6"/>
<circle cx="170.2" cy="161.1" r="2.2" fill="#bfbfbf" stroke="#e6e6e6" stroke-width="0.6"/>
<circle cx="170.5" cy="163.4" r="2.2" fill="#bfbfbf" stroke="#e6e6e6" stroke-width="0.6"/>
<circle cx="170.8" cy="162.1" r="2.2" fill="#bfbfbf" stroke="#e6e6e6" stroke-width="0.6"/>
<circle cx="171.1" cy="156.6" r="2.2" fill="#bfbfbf" stroke="#e6e6e6" stroke-width="0.6"/>
<circle cx="171.3" cy="161.3" r="2.2" fill="#bfbfbf" stroke="#e6e6e6" stroke-width="0.6"/>
<circle cx="171.6" cy="168.9" r="2.2" fill="#bfbfbf" stroke="#e6e6e6" stroke-width="0.6"/>
<circle cx="171.9" cy="157.3" r="2.2" fill="#bfbfbf" stroke="#e6e6e6" stroke-width="0.6"/>
<circle cx="172.1" cy="158.9" r="2.2" fill="#bfbfbf" stroke="#e6e6e6" stroke-width="0.6"/>
<circle cx="172.4" cy="169.2" r="2.2" fill="#bfbfbf" stroke="#e6e6e6" stroke-width="0.6"/>
<circle cx="172.7" cy="166.0" r="2.2" fill="#bfbfbf" stroke="#e6e6e6" stroke-width="0.6"/>
<circle cx="172.9" cy="169.3" r="2.2" fill="#bfbfbf" stroke="#e6e6e6" stroke-width="0.6"/>
<circle cx="173.2" cy="169.9" r="2.2" fill="#bfbfbf" stroke="#e6e6e6" stroke-width="0.6"/>
<circle cx="173.5" cy="158.3" r="2.2" fill="#bfbfbf" stroke="#e6e6e6" stroke-width="0.6"/>
<circle cx="173.8" cy="159.3" r="2.2" fill="#bfbfbf" stroke="#e6e6e6" stroke-width="0.6"/>
<circle cx="174.0" cy="165.2" r="2.2" fill="#bfbfbf" stroke="#e6e6e6" stroke-width="0.6"/>
<circle cx="174.3" cy="164.2" r="2.2" fill="#bfbfbf" stroke="#e6e6e6" stroke-width="0.6"/>
<circle cx="174.6" cy="169.3" r="2.2" fill="#bfbfbf" stroke="#e6e6e6" stroke-width="0.6"/>
<circle cx="174.8" cy="161.3" r="2.2" fill="#bfbfbf" stroke="#e6e6e6" stroke-width="0.6"/>
<circle cx="175.1" cy="177.5" r="2.2" fill="#bfbfbf" stroke="#e6e6e6" stroke-width="0.6"/>
<circle cx="175.4" cy="164.5" r="2.2" fill="#bfbfbf" stroke="#e6e6e6" stroke-width="0.6"/>
<circle cx="175.6" cy="173.5" r="2.2" fill="#bfbfbf" stroke="#e6e6e6" stroke-width="0.6"/>
<circle cx="175.9" cy="158.5" r="2.2" fill="#bfbfbf" stroke="#e6e6e6" stroke-width="0.6"/>
<circle cx="176.2" cy="167.2" r="2.2" fill="#bfbfbf" stroke="#e6e6e6" stroke-width="0.6"/>
<circle cx="176.5" cy="154.7" r="2.2" fill="#bfbfbf" stroke="#e6e6e6" stroke-width="0.6"/>
<circle cx="176.7" cy="168.7" r="2.2" fill="#bfbfbf" stroke="#e6e6e6" stroke-width="0.6"/>
<circle cx="177.0" cy="163.9" r="2.2" fill="#bfbfbf" stroke="#e6e6e6" stroke-width="0.6"/>
<circle cx="177.3" cy="168.6" r="2.2" fill="#bfbfbf" stroke="#e6e6e6" stroke-width="0.6"/>
<circle cx="177.5" cy="168.0" r="2.2" fill="#bfbfbf" stroke="#e6e6e6" stroke-width="0.6"/>
<circle cx="177.8" cy="162.9" r="2.2" fill="#bfbfbf" stroke="#e6e6e6" stroke-width="0.6"/>
<circle cx="178.1" cy="172.0" r="2.2" fill="#bfbfbf" stroke="#e6e6e6" stroke-width="0.6"/>
<circle cx="178.3" cy="160.9" r="2.2" fill="#bfbfbf" stroke="#e6e6e6" stroke-width="0.6"/>
<circle cx="178.6" cy="164.1" r="2.2" fill="#bfbfbf" stroke="#e6e6e6" stroke-width="0.6"/>
<circle cx="178.9" cy="156.0" r="2.2" fill="#bfbfbf" stroke="#e6e6e6" stroke-width="0.6"/>
<circle cx="179.2" cy="163.4" r="2.2" fill="#bfbfbf" stroke="#e6e6e6" stroke-width="0.6"/>
<circle cx="179.4" cy="171.5" r="2.2" fill="#bfbfbf" stroke="#e6e6e6" stroke-width="0.6"/>
<circle cx="179.7" cy="170.1" r="2.2" fill="#bfbfbf" stroke="#e6e6e6" stroke-width="0.6"/>
<circle cx="180.0" cy="164.6" r="2.2" fill="#bfbfbf" stroke="#e6e6e6" stroke-width="0.6"/>
<circle cx="180.2" cy="173.4" r="2.2" fill="#bfbfbf" stroke="#e6e6e6" stroke-width="0.6"/>
<circle cx="180.5" cy="170.2" r="2.2" fill="#bfbfbf" stroke="#e6e6e6" stroke-width="0.6"/>
<circle cx="180.8" cy="177.9" r="2.2" fill="#bfbfbf" stroke="#e6e6e6" stroke-width="0.6"/>
<circle cx="181.0" cy="169.8" r="2.2" fill="#bfbfbf" stroke="#e6e6e6" stroke-width="0.6"/>
<circle cx="181.3" cy="154.4" r="2.2" fill="#bfbfbf" stroke="#e6e6e6" stroke-width="0.6"/>
<circle cx="181.6" cy="165.5" r="2.2" fill="#bfbfbf" stroke="#e6e6e6" stroke-width="0.6"/>
<circle cx="181.9" cy="170.8" r="2.2" fill="#bfbfbf" stroke="#e6e6e6" stroke-width="0.6"/>
<circle cx="182.1" cy="156.7" r="2.2" fill="#bfbfbf" stroke="#e6e6e6" stroke-width="0.6"/>
<circle cx="182.4" cy="162.5" r="2.2" fill="#bfbfbf" stroke="#e6e6e6" stroke-width="0.6"/>
<circle cx="182.7" cy="163.4" r="2.2" fill="#bfbfbf" stroke="#e6e6e6" stroke-width="0.6"/>
<circle cx="182.9" cy="153.3" r="2.2" fill="#bfbfbf" stroke="#e6e6e6" stroke-width="0.6"/>
<circle cx="183.2" cy="168.8" r="2.2" fill="#bfbfbf" stroke="#e6e6e6" stroke-width="0.6"/>
<circle cx="183.5" cy="179.3" r="2.2" fill="#bfbfbf" stroke="#e6e6e6" stroke-width="0.6"/>
<circle cx="183.7" cy="156.7" r="2.2" fill="#bfbfbf" stroke="#e6e6e6" stroke-width="0.6"/>
<circle cx="184.0" cy="160.4" r="2.2" fill="#bfbfbf" stroke="#e6e6e6" stroke-width="0.6"/>
<circle cx="184.3" cy="168.2" r="2.2" fill="#bfbfbf" stroke="#e6e6e6" stroke-width="0.6"/>
<circle cx="184.6" cy="169.9" r="2.2" fill="#bfbfbf" stroke="#e6e6e6" stroke-width="0.6"/>
<circle cx="184.8" cy="169.7" r="2.2" fill="#bfbfbf" stroke="#e6e6e6" stroke-width="0.6"/>
<circle cx="185.1" cy="166.2" r="2.2" fill="#bfbfbf" stroke="#e6e6e6" stroke-width="0.6"/>
<circle cx="185.4" cy="164.9" r="2.2" fill="#bfbfbf" stroke="#e6e6e6" stroke-width="0.6"/>
<circle cx="185.6" cy="158.2" r="2.2" fill="#bfbfbf" stroke="#e6e6e6" stroke-width="0.6"/>
<circle cx="185.9" cy="179.4" r="2.2" fill="#bfbfbf" stroke="#e6e6e6" stroke-width="0.6"/>
<circle cx="186.2" cy="176.4" r="2.2" fill="#bfbfbf" stroke="#e6e6e6" stroke-width="0.6"/>
<circle cx="186.4" cy="164.5" r="2.2" fill="#bfbfbf" stroke="#e6e6e6" stroke-width="0.6"/>
<circle cx="186.7" cy="168.3" r="2.2" fill="#bfbfbf" stroke="#e6e6e6" stroke-width="0.6"/>
<circle cx="187.0" cy="167.0" r="2.2" fill="#bfbfbf" stroke="#e6e6e6" stroke-width="0.6"/>
<circle cx="187.3" cy="166.3" r="2.2" fill="#bfbfbf" stroke="#e6e6e6" stroke-width="0.6"/>
<circle cx="187.5" cy="162.5" r="2.2" fill="#bfbfbf" stroke="#e6e6e6" stroke-width="0.6"/>
<circle cx="187.8" cy="182.8" r="2.2" fill="#bfbfbf" stroke="#e6e6e6" stroke-width="0.6"/>
<circle cx="188.1" cy="167.8" r="2.2" fill="#bfbfbf" stroke="#e6e6e6" stroke-width="0.6"/>
<circle cx="188.3" cy="173.6" r="2.2" fill="#bfbfbf" stroke="#e6e6e6" stroke-width="0.6"/>
<circle cx="188.6" cy="168.2" r="2.2" fill="#bfbfbf" stroke="#e6e6e6" stroke-width="0.6"/>
<circle cx="188.9" cy="171.2" r="2.2" fill="#bfbfbf" stroke="#e6e6e6" stroke-width="0.6"/>
<circle cx="189.1" cy="179.0" r="2.2" fill="#bfbfbf" stroke="#e6e6e6" stroke-width="0.6"/>
<circle cx="189.4" cy="170.3" r="2.2" fill="#bfbfbf" stroke="#e6e6e6" stroke-width="0.6"/>
<circle cx="189.7" cy="178.8" r="2.2" fill="#bfbfbf" stroke="#e6e6e6" stroke-width="0.6"/>
<circle cx="190.0" cy="166.0" r="2.2" fill="#bfbfbf" stroke="#e6e6e6" stroke-width="0.6"/>
<circle cx="190.2" cy="174.0" r="2.2" fill="#bfbfbf" stroke="#e6e6e6" stroke-width="0.6"/>
<circle cx="190.5" cy="178.5" r="2.2" fill="#bfbfbf" stroke="#e6e6e6" stroke-width="0.6"/>
<circle cx="190.8" cy="174.7" r="2.2" fill="#bfbfbf" stroke="#e6e6e6" stroke-width="0.6"/>
<circle cx="191.0" cy="166.3" r="2.2" fill="#bfbfbf" stroke="#e6e6e6" stroke-width="0.6"/>
<circle cx="191.3" cy="164.8" r="2.2" fill="#bfbfbf" stroke="#e6e6e6" stroke-width="0.6"/>
<circle cx="191.6" cy="168.2" r="2.2" fill="#bfbfbf" stroke="#e6e6e6" stroke-width="0.6"/>
<circle cx="191.8" cy="166.6" r="2.2" fill="#bfbfbf" stroke="#e6e6e6" stroke-width="0.6"/>
<circle cx="192.1" cy="172.4" r="2.2" fill="#bfbfbf" stroke="#e6e6e6" stroke-width="0.6"/>
<circle cx="192.4" cy="169.4" r="2.2" fill="#bfbfbf" stroke="#e6e6e6" stroke-width="0.6"/>
<circle cx="192.7" cy="166.2" r="2.2" fill="#bfbfbf" stroke="#e6e6e6" stroke-width="0.6"/>
<circle cx="192.9" cy="163.5" r="2.2" fill="#bfbfbf" stroke="#e6e6e6" stroke-width="0.6"/>
<circle cx="193.2" cy="167.0" r="2.2" fill="#bfbfbf" stroke="#e6e6e6" stroke-width="0.6"/>
<circle cx="193.5" cy="170.6" r="2.2" fill="#bfbfbf" stroke="#e6e6e6" stroke-width="0.6"/>
<circle cx="193.7" cy="175.2" r="2.2" fill="#bfbfbf" stroke="#e6e6e6" stroke-width="0.6"/>
<circle cx="194.0" cy="173.2" r="2.2" fill="#bfbfbf" stroke="#e6e6e6" stroke-width="0.6"/>
<circle cx="194.3" cy="174.9" r="2.2" fill="#bfbfbf" stroke="#e6e6e6" stroke-width="0.6"/>
<circle cx="194.5" cy="178.6" r="2.2" fill="#bfbfbf" stroke="#e6e6e6" stroke-width="0.6"/>
<circle cx="194.8" cy="173.6" r="2.2" fill="#bfbfbf" stroke="#e6e6e6" stroke-width="0.6"/>
<circle cx="195.1" cy="162.6" r="2.2" fill="#bfbfbf" stroke="#e6e6e6" stroke-width="0.6"/>
<circle cx="195.4" cy="169.8" r="2.2" fill="#bfbfbf" stroke="#e6e6e6" stroke-width="0.6"/>
<circle cx="195.6" cy="163.3" r="2.2" fill="#bfbfbf" stroke="#e6e6e6" stroke-width="0.6"/>
<circle cx="195.9" cy="172.2" r="2.2" fill="#bfbfbf" stroke="#e6e6e6" stroke-width="0.6"/>
<circle cx="196.2" cy="161.3" r="2.2" fill="#bfbfbf" stroke="#e6e6e6" stroke-width="0.6"/>
<circle cx="196.4" cy="171.1" r="2.2" fill="#bfbfbf" stroke="#e6e6e6" stroke-width="0.6"/>
<circle cx="196.7" cy="172.3" r="2.2" fill="#bfbfbf" stroke="#e6e6e6" stroke-width="0.6"/>
<circle cx="197.0" cy="175.1" r="2.2" fill="#bfbfbf" stroke="#e6e6e6" stroke-width="0.6"/>
<circle cx="197.2" cy="171.7" r="2.2" fill="#bfbfbf" stroke="#e6e6e6" stroke-width="0.6"/>
<circle cx="197.5" cy="187.4" r="2.2" fill="#bfbfbf" stroke="#e6e6e6" stroke-width="0.6"/>
<circle cx="197.8" cy="169.2" r="2.2" fill="#bfbfbf" stroke="#e6e6e6" stroke-width="0.6"/>
<circle cx="198.1" cy="176.8" r="2.2" fill="#bfbfbf" stroke="#e6e6e6" stroke-width="0.6"/>
<circle cx="198.3" cy="169.3" r="2.2" fill="#bfbfbf" stroke="#e6e6e6" stroke-width="0.6"/>
<circle cx="198.6" cy="166.4" r="2.2" fill="#bfbfbf" stroke="#e6e6e6" stroke-width="0.6"/>
<circle cx="198.9" cy="169.4" r="2.2" fill="#bfbfbf" stroke="#e6e6e6" stroke-width="0.6"/>
<circle cx="199.1" cy="163.7" r="2.2" fill="#bfbfbf" stroke="#e6e6e6" stroke-width="0.6"/>
<circle cx="199.4" cy="173.3" r="2.2" fill="#bfbfbf" stroke="#e6e6e6" stroke-width="0.6"/>
<circle cx="199.7" cy="161.9" r="2.2" fill="#bfbfbf" stroke="#e6e6e6" stroke-width="0.6"/>
<circle cx="199.9" cy="177.4" r="2.2" fill="#bfbfbf" stroke="#e6e6e6" stroke-width="0.6"/>
<circle cx="200.2" cy="172.2" r="2.2" fill="#bfbfbf" stroke="#e6e6e6" stroke-width="0.6"/>
<circle cx="200.5" cy="176.5" r="2.2" fill="#bfbfbf" stroke="#e6e6e6" stroke-width="0.6"/>
<circle cx="200.8" cy="165.8" r="2.2" fill="#bfbfbf" stroke="#e6e6e6" stroke-width="0.6"/>
<circle cx="201.0" cy="181.6" r="2.2" fill="#bfbfbf" stroke="#e6e6e6" stroke-width="0.6"/>
<circle cx="201.3" cy="179.9" r="2.2" fill="#bfbfbf" stroke="#e6e6e6" stroke-width="0.6"/>
<circle cx="201.6" cy="178.6" r="2.2" fill="#bfbfbf" stroke="#e6e6e6" stroke-width="0.6"/>
<circle cx="201.8" cy="172.1" r="2.2" fill="#bfbfbf" stroke="#e6e6e6" stroke-width="0.6"/>
<circle cx="202.1" cy="177.7" r="2.2" fill="#bfbfbf" stroke="#e6e6e6" stroke-width="0.6"/>
<circle cx="202.4" cy="172.7" r="2.2" fill="#bfbfbf" stroke="#e6e6e6" stroke-width="0.6"/>
<circle cx="202.6" cy="173.6" r="2.2" fill="#bfbfbf" stroke="#e6e6e6" stroke-width="0.6"/>
<circle cx="202.9" cy="171.7" r="2.2" fill="#bfbfbf" stroke="#e6e6e6" stroke-width="0.6"/>
<circle cx="203.2" cy="174.1" r="2.2" fill="#bfbfbf" stroke="#e6e6e6" stroke-width="0.6"/>
<circle cx="203.5" cy="175.4" r="2.2" fill="#bfbfbf" stroke="#e6e6e6" stroke-width="0.6"/>
<circle cx="203.7" cy="167.0" r="2.2" fill="#bfbfbf" stroke="#e6e6e6" stroke-width="0.6"/>
<circle cx="204.0" cy="186.2" r="2.2" fill="#bfbfbf" stroke="#e6e6e6" stroke-width="0.6"/>
<circle cx="204.3" cy="175.2" r="2.2" fill="#bfbfbf" stroke="#e6e6e6" stroke-width="0.6"/>
<circle cx="204.5" cy="184.5" r="2.2" fill="#bfbfbf" stroke="#e6e6e6" stroke-width="0.6"/>
<circle cx="204.8" cy="173.2" r="2.2" fill="#bfbfbf" stroke="#e6e6e6" stroke-width="0.6"/>
<circle cx="205.1" cy="178.4" r="2.2" fill="#bfbfbf" stroke="#e6e6e6" stroke-width="0.6"/>
<circle cx="205.3" cy="175.8" r="2.2" fill="#bfbfbf" stroke="#e6e6e6" stroke-width="0.6"/>
<circle cx="205.6" cy="174.8" r="2.2" fill="#bfbfbf" stroke="#e6e6e6" stroke-width="0.6"/>
<circle cx="205.9" cy="167.3" r="2.2" fill="#bfbfbf" stroke="#e6e6e6" stroke-width="0.6"/>
<circle cx="206.2" cy="179.5" r="2.2" fill="#bfbfbf" stroke="#e6e6e6" stroke-width="0.6"/>
<circle cx="206.4" cy="172.8" r="2.2" fill="#bfbfbf" stroke="#e6e6e6" stroke-width="0.6"/>
<circle cx="206.7" cy="167.9" r="2.2" fill="#bfbfbf" stroke="#e6e6e6" stroke-width="0.6"/>
<circle cx="207.0" cy="168.0" r="2.2" fill="#bfbfbf" stroke="#e6e6e6" stroke-width="0.6"/>
<circle cx="207.2" cy="188.4" r="2.2" fill="#bfbfbf" stroke="#e6e6e6" stroke-width="0.6"/>
<circle cx="207.5" cy="173.2" r="2.2" fill="#bfbfbf" stroke="#e6e6e6" stroke-width="0.6"/>
<circle cx="207.8" cy="166.4" r="2.2" fill="#bfbfbf" stroke="#e6e6e6" stroke-width="0.6"/>
<circle cx="208.0" cy="166.8" r="2.2" fill="#bfbfbf" stroke="#e6e6e6" stroke-width="0.6"/>
<circle cx="208.3" cy="174.5" r="2.2" fill="#bfbfbf" stroke="#e6e6e6" stroke-width="0.6"/>
<circle cx="208.6" cy="176.0" r="2.2" fill="#bfbfbf" stroke="#e6e6e6" stroke-width="0.6"/>
<circle cx="208.9" cy="176.6" r="2.2" fill="#bfbfbf" stroke="#e6e6e6" stroke-width="0.6"/>
<circle cx="209.1" cy="175.2" r="2.2" fill="#bfbfbf" stroke="#e6e6e6" stroke-width="0.6"/>
<circle cx="209.4" cy="171.9" r="2.2" fill="#bfbfbf" stroke="#e6e6e6" stroke-width="0.6"/>
<circle cx="209.7" cy="180.5" r="2.2" fill="#bfbfbf" stroke="#e6e6e6" stroke-width="0.6"/>
<circle cx="209.9" cy="176.1" r="2.2" fill="#bfbfbf" stroke="#e6e6e6" stroke-width="0.6"/>
<circle cx="210.2" cy="181.5" r="2.2" fill="#bfbfbf" stroke="#e6e6e6" stroke-width="0.6"/>
<circle cx="210.5" cy="171.1" r="2.2" fill="#bfbfbf" stroke="#e6e6e6" stroke-width="0.6"/>
<circle cx="210.7" cy="177.2" r="2.2" fill="#bfbfbf" stroke="#e6e6e6" stroke-width="0.6"/>
<circle cx="211.0" cy="182.6" r="2.2" fill="#bfbfbf" stroke="#e6e6e6" stroke-width="0.6"/>
<circle cx="211.3" cy="182.7" r="2.2" fill="#bfbfbf" stroke="#e6e6e6" stroke-width="0.6"/>
<circle cx="211.6" cy="169.0" r="2.2" fill="#bfbfbf" stroke="#e6e6e6" stroke-width="0.6"/>
<circle cx="211.8" cy="175.1" r="2.2" fill="#bfbfbf" stroke="#e6e6e6" stroke-width="0.6"/>
<circle cx="212.1" cy="173.6" r="2.2" fill="#bfbfbf" stroke="#e6e6e6" stroke-width="0.6"/>
<circle cx="212.4" cy="183.0" r="2.2" fill="#bfbfbf" stroke="#e6e6e6" stroke-width="0.6"/>
<circle cx="212.6" cy="178.3" r="2.2" fill="#bfbfbf" stroke="#e6e6e6" stroke-width="0.6"/>
<circle cx="212.9" cy="172.1" r="2.2" fill="#bfbfbf" stroke="#e6e6e6" stroke-width="0.6"/>
<circle cx="213.2" cy="166.0" r="2.2" fill="#bfbfbf" stroke="#e6e6e6" stroke-width="0.6"/>
<circle cx="213.4" cy="176.5" r="2.2" fill="#bfbfbf" stroke="#e6e6e6" stroke-width="0.6"/>
<circle cx="213.7" cy="172.8" r="2.2" fill="#bfbfbf" stroke="#e6e6e6" stroke-width="0.6"/>
<circle cx="214.0" cy="182.9" r="2.2" fill="#bfbfbf" stroke="#e6e6e6" stroke-width="0.6"/>
<circle cx="214.3" cy="181.6" r="2.2" fill="#bfbfbf" stroke="#e6e6e6" stroke-width="0.6"/>
<circle cx="214.5" cy="179.9" r="2.2" fill="#bfbfbf" stroke="#e6e6e6" stroke-width="0.6"/>
<circle cx="214.8" cy="171.5" r="2.2" fill="#bfbfbf" stroke="#e6e6e6" stroke-width="0.6"/>
<circle cx="215.1" cy="174.6" r="2.2" fill="#bfbfbf" stroke="#e6e6e6" stroke-width="0.6"/>
<circle cx="215.3" cy="186.7" r="2.2" fill="#bfbfbf" stroke="#e6e6e6" stroke-width="0.6"/>
<circle cx="215.6" cy="170.7" r="2.2" fill="#bfbfbf" stroke="#e6e6e6" stroke-width="0.6"/>
<circle cx="215.9" cy="181.3" r="2.2" fill="#bfbfbf" stroke="#e6e6e6" stroke-width="0.6"/>
<circle cx="216.1" cy="176.2" r="2.2" fill="#bfbfbf" stroke="#e6e6e6" stroke-width="0.6"/>
<circle cx="216.4" cy="180.5" r="2.2" fill="#bfbfbf" stroke="#e6e6e6" stroke-width="0.6"/>
<circle cx="216.7" cy="182.8" r="2.2" fill="#bfbfbf" stroke="#e6e6e6" stroke-width="0.6"/>
<circle cx="217.0" cy="180.5" r="2.2" fill="#bfbfbf" stroke="#e6e6e6" stroke-width="0.6"/>
<circle cx="217.2" cy="182.4" r="2.2" fill="#bfbfbf" stroke="#e6e6e6" stroke-width="0.6"/>
<circle cx="217.5" cy="171.4" r="2.2" fill="#bfbfbf" stroke="#e6e6e6" stroke-width="0.6"/>
<circle cx="217.8" cy="171.2" r="2.2" fill="#bfbfbf" stroke="#e6e6e6" stroke-width="0.6"/>
<circle cx="218.0" cy="167.3" r="2.2" fill="#bfbfbf" stroke="#e6e6e6" stroke-width="0.6"/>
<circle cx="218.3" cy="179.7" r="2.2" fill="#bfbfbf" stroke="#e6e6e6" stroke-width="0.6"/>
<circle cx="218.6" cy="175.9" r="2.2" fill="#bfbfbf" stroke="#e6e6e6" stroke-width="0.6"/>
<circle cx="218.8" cy="176.9" r="2.2" fill="#bfbfbf" stroke="#e6e6e6" stroke-width="0.6"/>
<circle cx="219.1" cy="180.3" r="2.2" fill="#bfbfbf" stroke="#e6e6e6" stroke-width="0.6"/>
<circle cx="219.4" cy="167.4" r="2.2" fill="#bfbfbf" stroke="#e6e6e6" stroke-width="0.6"/>
<circle cx="219.7" cy="177.4" r="2.2" fill="#bfbfbf" stroke="#e6e6e6" stroke-width="0.6"/>
<circle cx="219.9" cy="183.1" r="2.2" fill="#bfbfbf" stroke="#e6e6e6" stroke-width="0.6"/>
<circle cx="220.2" cy="179.7" r="2.2" fill="#bfbfbf" stroke="#e6e6e6" stroke-width="0.6"/>
<circle cx="220.5" cy="179.1" r="2.2" fill="#bfbfbf" stroke="#e6e6e6" stroke-width="0.6"/>
<circle cx="220.7" cy="174.4" r="2.2" fill="#bfbfbf" stroke="#e6e6e6" stroke-width="0.6"/>
<circle cx="221.0" cy="179.2" r="2.2" fill="#bfbfbf" stroke="#e6e6e6" stroke-width="0.6"/>
<circle cx="221.3" cy="182.7" r="2.2" fill="#bfbfbf" stroke="#e6e6e6" stroke-width="0.6"/>
<circle cx="221.5" cy="174.7" r="2.2" fill="#bfbfbf" stroke="#e6e6e6" stroke-width="0.6"/>
<circle cx="221.8" cy="177.4" r="2.2" fill="#bfbfbf" stroke="#e6e6e6" stroke-width="0.6"/>
<circle cx="222.1" cy="175.3" r="2.2" fill="#bfbfbf" stroke="#e6e6e6" stroke-width="0.6"/>
<circle cx="222.4" cy="175.7" r="2.2" fill="#bfbfbf" stroke="#e6e6e6" stroke-width="0.6"/>
<circle cx="222.6" cy="179.3" r="2.2" fill="#bfbfbf" stroke="#e6e6e6" stroke-width="0.6"/>
<circle cx="222.9" cy="166.4" r="2.2" fill="#bfbfbf" stroke="#e6e6e6" stroke-width="0.6"/>
<circle cx="223.2" cy="168.5" r="2.2" fill="#bfbfbf" stroke="#e6e6e6" stroke-width="0.6"/>
<circle cx="223.4" cy="170.8" r="2.2" fill="#bfbfbf" stroke="#e6e6e6" stroke-width="0.6"/>
<circle cx="223.7" cy="171.4" r="2.2" fill="#bfbfbf" stroke="#e6e6e6" stroke-width="0.6"/>
<circle cx="224.0" cy="170.9" r="2.2" fill="#bfbfbf" stroke="#e6e6e6" stroke-width="0.6"/>
<circle cx="224.2" cy="169.0" r="2.2" fill="#bfbfbf" stroke="#e6e6e6" stroke-width="0.6"/>
<circle cx="224.5" cy="175.3" r="2.2" fill="#bfbfbf" stroke="#e6e6e6" stroke-width="0.6"/>
<circle cx="224.8" cy="180.7" r="2.2" fill="#bfbfbf" stroke="#e6e6e6" stroke-width="0.6"/>
<circle cx="225.1" cy="178.3" r="2.2" fill="#bfbfbf" stroke="#e6e6e6" stroke-width="0.6"/>
<circle cx="225.3" cy="172.4" r="2.2" fill="#bfbfbf" stroke="#e6e6e6" stroke-width="0.6"/>
<circle cx="225.6" cy="176.1" r="2.2" fill="#bfbfbf" stroke="#e6e6e6" stroke-width="0.6"/>
<circle cx="225.9" cy="177.1" r="2.2" fill="#bfbfbf" stroke="#e6e6e6" stroke-width="0.6"/>
<circle cx="226.1" cy="167.5" r="2.2" fill="#bfbfbf" stroke="#e6e6e6" stroke-width="0.6"/>
<circle cx="226.4" cy="181.8" r="2.2" fill="#bfbfbf" stroke="#e6e6e6" stroke-width="0.6"/>
<circle cx="226.7" cy="173.4" r="2.2" fill="#bfbfbf" stroke="#e6e6e6" stroke-width="0.6"/>
<circle cx="226.9" cy="170.5" r="2.2" fill="#bfbfbf" stroke="#e6e6e6" stroke-width="0.6"/>
<circle cx="227.2" cy="189.7" r="2.2" fill="#bfbfbf" stroke="#e6e6e6" stroke-width="0.6"/>
<circle cx="227.5" cy="171.9" r="2.2" fill="#bfbfbf" stroke="#e6e6e6" stroke-width="0.6"/>
<circle cx="227.8" cy="175.5" r="2.2" fill="#bfbfbf" stroke="#e6e6e6" stroke-width="0.6"/>
<circle cx="228.0" cy="173.4" r="2.2" fill="#bfbfbf" stroke="#e6e6e6" stroke-width="0.6"/>
<circle cx="228.3" cy="182.0" r="2.2" fill="#bfbfbf" stroke="#e6e6e6" stroke-width="0.6"/>
<circle cx="228.6" cy="175.7" r="2.2" fill="#bfbfbf" stroke="#e6e6e6" stroke-width="0.6"/>
<circle cx="228.8" cy="169.8" r="2.2" fill="#bfbfbf" stroke="#e6e6e6" stroke-width="0.6"/>
<circle cx="229.1" cy="166.4" r="2.2" fill="#bfbfbf" stroke="#e6e6e6" stroke-width="0.6"/>
<circle cx="229.4" cy="174.5" r="2.2" fill="#bfbfbf" stroke="#e6e6e6" stroke-width="0.6"/>
<circle cx="229.6" cy="187.0" r="2.2" fill="#bfbfbf" stroke="#e6e6e6" stroke-width="0.6"/>
<circle cx="229.9" cy="171.9" r="2.2" fill="#bfbfbf" stroke="#e6e6e6" stroke-width="0.6"/>
<circle cx="230.2" cy="183.5" r="2.2" fill="#bfbfbf" stroke="#e6e6e6" stroke-width="0.6"/>
<circle cx="230.5" cy="164.6" r="2.2" fill="#bfbfbf" stroke="#e6e6e6" stroke-width="0.6"/>
<circle cx="230.7" cy="185.1" r="2.2" fill="#bfbfbf" stroke="#e6e6e6" stroke-width="0.6"/>
<circle cx="231.0" cy="172.2" r="2.2" fill="#bfbfbf" stroke="#e6e6e6" stroke-width="0.6"/>
<circle cx="231.3" cy="176.6" r="2.2" fill="#bfbfbf" stroke="#e6e6e6" stroke-width="0.6"/>
<circle cx="231.5" cy="179.1" r="2.2" fill="#bfbfbf" stroke="#e6e6e6" stroke-width="0.6"/>
<circle cx="231.8" cy="183.5" r="2.2" fill="#bfbfbf" stroke="#e6e6e6" stroke-width="0.6"/>
<circle cx="232.1" cy="177.8" r="2.2" fill="#bfbfbf" stroke="#e6e6e6" stroke-width="0.6"/>
<circle cx="232.3" cy="178.5" r="2.2" fill="#bfbfbf" stroke="#e6e6e6" stroke-width="0.6"/>
<circle cx="232.6" cy="173.3" r="2.2" fill="#bfbfbf" stroke="#e6e6e6" stroke-width="0.6"/>
<circle cx="232.9" cy="181.9" r="2.2" fill="#bfbfbf" stroke="#e6e6e6" stroke-width="0.6"/>
<circle cx="233.2" cy="174.5" r="2.2" fill="#bfbfbf" stroke="#e6e6e6" stroke-width="0.6"/>
<circle cx="233.4" cy="189.5" r="2.2" fill="#bfbfbf" stroke="#e6e6e6" stroke-width="0.6"/>
<circle cx="233.7" cy="179.5" r="2.2" fill="#bfbfbf" stroke="#e6e6e6" stroke-width="0.6"/>
<circle cx="234.0" cy="181.9" r="2.2" fill="#bfbfbf" stroke="#e6e6e6" stroke-width="0.6"/>
<circle cx="234.2" cy="177.0" r="2.2" fill="#bfbfbf" stroke="#e6e6e6" stroke-width="0.6"/>
<circle cx="234.5" cy="177.0" r="2.2" fill="#bfbfbf" stroke="#e6e6e6" stroke-width="0.6"/>
<circle cx="234.8" cy="181.8" r="2.2" fill="#bfbfbf" stroke="#e6e6e6" stroke-width="0.6"/>
<circle cx="235.0" cy="175.9" r="2.2" fill="#bfbfbf" stroke="#e6e6e6" stroke-width="0.6"/>
<circle cx="235.3" cy="177.8" r="2.2" fill="#bfbfbf" stroke="#e6e6e6" stroke-width="0.6"/>
<circle cx="235.6" cy="177.2" r="2.2" fill="#bfbfbf" stroke="#e6e6e6" stroke-width="0.6"/>
<circle cx="235.9" cy="180.0" r="2.2" fill="#bfbfbf" stroke="#e6e6e6" stroke-width="0.6"/>
<circle cx="236.1" cy="179.9" r="2.2" fill="#bfbfbf" stroke="#e6e6e6" stroke-width="0.6"/>
<circle cx="236.4" cy="177.5" r="2.2" fill="#bfbfbf" stroke="#e6e6e6" stroke-width="0.6"/>
<circle cx="236.7" cy="182.0" r="2.2" fill="#bfbfbf" stroke="#e6e6e6" stroke-width="0.6"/>
<circle cx="236.9" cy="184.9" r="2.2" fill="#bfbfbf" stroke="#e6e6e6" stroke-width="0.6"/>
<circle cx="237.2" cy="174.5" r="2.2" fill="#bfbfbf" stroke="#e6e6e6" stroke-width="0.6"/>
<circle cx="237.5" cy="174.9" r="2.2" fill="#bfbfbf" stroke="#e6e6e6" stroke-width="0.6"/>
<circle cx="237.7" cy="174.7" r="2.2" fill="#bfbfbf" stroke="#e6e6e6" stroke-width="0.6"/>
<circle cx="238.0" cy="174.4" r="2.2" fill="#bfbfbf" stroke="#e6e6e6" stroke-width="0.6"/>
<circle cx="238.3" cy="174.7" r="2.2" fill="#bfbfbf" stroke="#e6e6e6" stroke-width="0.6"/>
<circle cx="238.6" cy="178.1" r="2.2" fill="#bfbfbf" stroke="#e6e6e6" stroke-width="0.6"/>
<circle cx="238.8" cy="181.6" r="2.2" fill="#bfbfbf" stroke="#e6e6e6" stroke-width="0.6"/>
<circle cx="239.1" cy="174.6" r="2.2" fill="#bfbfbf" stroke="#e6e6e6" stroke-width="0.6"/>
<circle cx="239.4" cy="180.0" r="2.2" fill="#bfbfbf" stroke="#e6e6e6" stroke-width="0.6"/>
<circle cx="239.6" cy="175.9" r="2.2" fill="#bfbfbf" stroke="#e6e6e6" stroke-width="0.6"/>
<circle cx="239.9" cy="190.7" r="2.2" fill="#bfbfbf" stroke="#e6e6e6" stroke-width="0.6"/>
<circle cx="240.2" cy="179.2" r="2.2" fill="#bfbfbf" stroke="#e6e6e6" stroke-width="0.6"/>
<circle cx="240.4" cy="181.6" r="2.2" fill="#bfbfbf" stroke="#e6e6e6" stroke-width="0.6"/>
<circle cx="240.7" cy="173.2" r="2.2" fill="#bfbfbf" stroke="#e6e6e6" stroke-width="0.6"/>
<circle cx="241.0" cy="173.8" r="2.2" fill="#bfbfbf" stroke="#e6e6e6" stroke-width="0.6"/>
<circle cx="241.3" cy="179.0" r="2.2" fill="#bfbfbf" stroke="#e6e6e6" stroke-width="0.6"/>
<circle cx="241.5" cy="174.3" r="2.2" fill="#bfbfbf" stroke="#e6e6e6" stroke-width="0.6"/>
<circle cx="241.8" cy="177.8" r="2.2" fill="#bfbfbf" stroke="#e6e6e6" stroke-width="0.6"/>
<circle cx="242.1" cy="183.8" r="2.2" fill="#bfbfbf" stroke="#e6e6e6" stroke-width="0.6"/>
<circle cx="242.3" cy="174.5" r="2.2" fill="#bfbfbf" stroke="#e6e6e6" stroke-width="0.6"/>
<circle cx="242.6" cy="174.0" r="2.2" fill="#bfbfbf" stroke="#e6e6e6" stroke-width="0.6"/>
<circle cx="242.9" cy="178.9" r="2.2" fill="#bfbfbf" stroke="#e6e6e6" stroke-width="0.6"/>
<circle cx="243.1" cy="176.8" r="2.2" fill="#bfbfbf" stroke="#e6e6e6" stroke-width="0.6"/>
<circle cx="243.4" cy="181.2" r="2.2" fill="#bfbfbf" stroke="#e6e6e6" stroke-width="0.6"/>
<circle cx="243.7" cy="177.5" r="2.2" fill="#bfbfbf" stroke="#e6e6e6" stroke-width="0.6"/>
<circle cx="244.0" cy="173.0" r="2.2" fill="#bfbfbf" stroke="#e6e6e6" stroke-width="0.6"/>
<circle cx="244.2" cy="167.8" r="2.2" fill="#bfbfbf" stroke="#e6e6e6" stroke-width="0.6"/>
<circle cx="244.5" cy="179.9" r="2.2" fill="#bfbfbf" stroke="#e6e6e6" stroke-width="0.6"/>
<circle cx="244.8" cy="174.8" r="2.2" fill="#bfbfbf" stroke="#e6e6e6" stroke-width="0.6"/>
<circle cx="245.0" cy="178.8" r="2.2" fill="#bfbfbf" stroke="#e6e6e6" stroke-width="0.6"/>
<circle cx="245.3" cy="169.5" r="2.2" fill="#bfbfbf" stroke="#e6e6e6" stroke-width="0.6"/>
<circle cx="245.6" cy="174.6" r="2.2" fill="#bfbfbf" stroke="#e6e6e6" stroke-width="0.6"/>
<circle cx="245.8" cy="180.0" r="2.2" fill="#bfbfbf" stroke="#e6e6e6" stroke-width="0.6"/>
<circle cx="246.1" cy="183.4" r="2.2" fill="#bfbfbf" stroke="#e6e6e6" stroke-width="0.6"/>
<circle cx="246.4" cy="183.6" r="2.2" fill="#bfbfbf" stroke="#e6e6e6" stroke-width="0.6"/>
<circle cx="246.7" cy="184.6" r="2.2" fill="#bfbfbf" stroke="#e6e6e6" stroke-width="0.6"/>
<circle cx="246.9" cy="178.3" r="2.2" fill="#bfbfbf" stroke="#e6e6e6" stroke-width="0.6"/>
<circle cx="247.2" cy="183.1" r="2.2" fill="#bfbfbf" stroke="#e6e6e6" stroke-width="0.6"/>
<circle cx="247.5" cy="180.1" r="2.2" fill="#bfbfbf" stroke="#e6e6e6" stroke-width="0.6"/>
<circle cx="247.7" cy="177.2" r="2.2" fill="#bfbfbf" stroke="#e6e6e6" stroke-width="0.6"/>
<circle cx="248.0" cy="176.2" r="2.2" fill="#bfbfbf" stroke="#e6e6e6" stroke-width="0.6"/>
<circle cx="248.3" cy="174.6" r="2.2" fill="#bfbfbf" stroke="#e6e6e6" stroke-width="0.6"/>
<circle cx="248.5" cy="183.6" r="2.2" fill="#bfbfbf" stroke="#e6e6e6" stroke-width="0.6"/>
<circle cx="248.8" cy="178.7" r="2.2" fill="#bfbfbf" stroke="#e6e6e6" stroke-width="0.6"/>
<circle cx="249.1" cy="175.0" r="2.2" fill="#bfbfbf" stroke="#e6e6e6" stroke-width="0.6"/>
<circle cx="249.4" cy="177.9" r="2.2" fill="#bfbfbf" stroke="#e6e6e6" stroke-width="0.6"/>
<circle cx="249.6" cy="188.0" r="2.2" fill="#bfbfbf" stroke="#e6e6e6" stroke-width="0.6"/>
<circle cx="249.9" cy="171.7" r="2.2" fill="#bfbfbf" stroke="#e6e6e6" stroke-width="0.6"/>
<circle cx="250.2" cy="171.9" r="2.2" fill="#bfbfbf" stroke="#e6e6e6" stroke-width="0.6"/>
<circle cx="250.4" cy="185.8" r="2.2" fill="#bfbfbf" stroke="#e6e6e6" stroke-width="0.6"/>
<circle cx="250.7" cy="171.7" r="2.2" fill="#bfbfbf" stroke="#e6e6e6" stroke-width="0.6"/>
<circle cx="251.0" cy="185.6" r="2.2" fill="#bfbfbf" stroke="#e6e6e6" stroke-width="0.6"/>
<circle cx="251.2" cy="175.9" r="2.2" fill="#bfbfbf" stroke="#e6e6e6" stroke-width="0.6"/>
<circle cx="251.5" cy="180.8" r="2.2" fill="#bfbfbf" stroke="#e6e6e6" stroke-width="0.6"/>
<circle cx="251.8" cy="185.3" r="2.2" fill="#bfbfbf" stroke="#e6e6e6" stroke-width="0.6"/>
<circle cx="252.1" cy="185.3" r="2.2" fill="#bfbfbf" stroke="#e6e6e6" stroke-width="0.6"/>
<circle cx="252.3" cy="182.7" r="2.2" fill="#bfbfbf" stroke="#e6e6e6" stroke-width="0.6"/>
<circle cx="252.6" cy="178.8" r="2.2" fill="#bfbfbf" stroke="#e6e6e6" stroke-width="0.6"/>
<circle cx="252.9" cy="177.5" r="2.2" fill="#bfbfbf" stroke="#e6e6e6" stroke-width="0.6"/>
<circle cx="253.1" cy="177.7" r="2.2" fill="#bfbfbf" stroke="#e6e6e6" stroke-width="0.6"/>
<circle cx="253.4" cy="186.7" r="2.2" fill="#bfbfbf" stroke="#e6e6e6" stroke-width="0.6"/>
<circle cx="253.7" cy="180.6" r="2.2" fill="#bfbfbf" stroke="#e6e6e6" stroke-width="0.6"/>
<circle cx="253.9" cy="184.8" r="2.2" fill="#bfbfbf" stroke="#e6e6e6" stroke-width="0.6"/>
<circle cx="254.2" cy="167.3" r="2.2" fill="#bfbfbf" stroke="#e6e6e6" stroke-width="0.6"/>
<circle cx="254.5" cy="177.3" r="2.2" fill="#bfbfbf" stroke="#e6e6e6" stroke-width="0.6"/>
<circle cx="254.8" cy="180.6" r="2.2" fill="#bfbfbf" stroke="#e6e6e6" stroke-width="0.6"/>
<circle cx="255.0" cy="177.2" r="2.2" fill="#bfbfbf" stroke="#e6e6e6" stroke-width="0.6"/>
<circle cx="255.3" cy="189.8" r="2.2" fill="#bfbfbf" stroke="#e6e6e6" stroke-width="0.6"/>
<circle cx="255.6" cy="173.5" r="2.2" fill="#bfbfbf" stroke="#e6e6e6" stroke-width="0.6"/>
<circle cx="255.8" cy="181.8" r="2.2" fill="#bfbfbf" stroke="#e6e6e6" stroke-width="0.6"/>
<circle cx="256.1" cy="183.6" r="2.2" fill="#bfbfbf" stroke="#e6e6e6" stroke-width="0.6"/>
<circle cx="256.4" cy="175.1" r="2.2" fill="#bfbfbf" stroke="#e6e6e6" stroke-width="0.6"/>
<circle cx="256.6" cy="183.6" r="2.2" fill="#bfbfbf" stroke="#e6e6e6" stroke-width="0.6"/>
<circle cx="256.9" cy="181.4" r="2.2" fill="#bfbfbf" stroke="#e6e6e6" stroke-width="0.6"/>
<circle cx="257.2" cy="193.9" r="2.2" fill="#bfbfbf" stroke="#e6e6e6" stroke-width="0.6"/>
<circle cx="257.5" cy="186.7" r="2.2" fill="#bfbfbf" stroke="#e6e6e6" stroke-width="0.6"/>
<circle cx="257.7" cy="179.2" r="2.2" fill="#bfbfbf" stroke="#e6e6e6" stroke-width="0.6"/>
<circle cx="258.0" cy="184.3" r="2.2" fill="#bfbfbf" stroke="#e6e6e6" stroke-width="0.6"/>
<circle cx="258.3" cy="181.5" r="2.2" fill="#bfbfbf" stroke="#e6e6e6" stroke-width="0.6"/>
<circle cx="258.5" cy="177.2" r="2.2" fill="#bfbfbf" stroke="#e6e6e6" stroke-width="0.6"/>
<circle cx="258.8" cy="182.8" r="2.2" fill="#bfbfbf" stroke="#e6e6e6" stroke-width="0.6"/>
<circle cx="259.1" cy="182.0" r="2.2" fill="#bfbfbf" stroke="#e6e6e6" stroke-width="0.6"/>
<circle cx="259.3" cy="187.5" r="2.2" fill="#bfbfbf" stroke="#e6e6e6" stroke-width="0.6"/>
<circle cx="259.6" cy="172.5" r="2.2" fill="#bfbfbf" stroke="#e6e6e6" stroke-width="0.6"/>
<circle cx="259.9" cy="172.8" r="2.2" fill="#bfbfbf" stroke="#e6e6e6" stroke-width="0.6"/>
<circle cx="260.2" cy="175.8" r="2.2" fill="#bfbfbf" stroke="#e6e6e6" stroke-width="0.6"/>
<circle cx="260.4" cy="182.9" r="2.2" fill="#bfbfbf" stroke="#e6e6e6" stroke-width="0.6"/>
<circle cx="260.7" cy="185.0" r="2.2" fill="#bfbfbf" stroke="#e6e6e6" stroke-width="0.6"/>
<circle cx="261.0" cy="179.0" r="2.2" fill="#bfbfbf" stroke="#e6e6e6" stroke-width="0.6"/>
<circle cx="261.2" cy="180.9" r="2.2" fill="#bfbfbf" stroke="#e6e6e6" stroke-width="0.6"/>
<circle cx="261.5" cy="179.9" r="2.2" fill="#bfbfbf" stroke="#e6e6e6" stroke-width="0.6"/>
<circle cx="261.8" cy="171.5" r="2.2" fill="#bfbfbf" stroke="#e6e6e6" stroke-width="0.6"/>
<circle cx="262.0" cy="175.5" r="2.2" fill="#bfbfbf" stroke="#e6e6e6" stroke-width="0.6"/>
<circle cx="262.3" cy="184.2" r="2.2" fill="#bfbfbf" stroke="#e6e6e6" stroke-width="0.6"/>
<circle cx="262.6" cy="183.9" r="2.2" fill="#bfbfbf" stroke="#e6e6e6" stroke-width="0.6"/>
<circle cx="262.9" cy="185.6" r="2.2" fill="#bfbfbf" stroke="#e6e6e6" stroke-width="0.6"/>
<circle cx="263.1" cy="173.7" r="2.2" fill="#bfbfbf" stroke="#e6e6e6" stroke-width="0.6"/>
<circle cx="263.4" cy="176.3" r="2.2" fill="#bfbfbf" stroke="#e6e6e6" stroke-width="0.6"/>
<circle cx="263.7" cy="187.8" r="2.2" fill="#bfbfbf" stroke="#e6e6e6" stroke-width="0.6"/>
<circle cx="263.9" cy="181.3" r="2.2" fill="#bfbfbf" stroke="#e6e6e6" stroke-width="0.6"/>
<circle cx="264.2" cy="187.2" r="2.2" fill="#bfbfbf" stroke="#e6e6e6" stroke-width="0.6"/>
<circle cx="264.5" cy="180.2" r="2.2" fill="#bfbfbf" stroke="#e6e6e6" stroke-width="0.6"/>
<circle cx="264.7" cy="172.0" r="2.2" fill="#bfbfbf" stroke="#e6e6e6" stroke-width="0.6"/>
<circle cx="265.0" cy="193.6" r="2.2" fill="#bfbfbf" stroke="#e6e6e6" stroke-width="0.6"/>
<circle cx="265.3" cy="186.4" r="2.2" fill="#bfbfbf" stroke="#e6e6e6" stroke-width="0.6"/>
<circle cx="265.6" cy="175.2" r="2.2" fill="#bfbfbf" stroke="#e6e6e6" stroke-width="0.6"/>
<circle cx="265.8" cy="173.9" r="2.2" fill="#bfbfbf" stroke="#e6e6e6" stroke-width="0.6"/>
<circle cx="266.1" cy="181.5" r="2.2" fill="#bfbfbf" stroke="#e6e6e6" stroke-width="0.6"/>
<circle cx="266.4" cy="182.2" r="2.2" fill="#bfbfbf" stroke="#e6e6e6" stroke-width="0.6"/>
<circle cx="266.6" cy="176.3" r="2.2" fill="#bfbfbf" stroke="#e6e6e6" stroke-width="0.6"/>
<circle cx="266.9" cy="180.4" r="2.2" fill="#bfbfbf" stroke="#e6e6e6" stroke-width="0.6"/>
<circle cx="267.2" cy="173.6" r="2.2" fill="#bfbfbf" stroke="#e6e6e6" stroke-width="0.6"/>
<circle cx="267.4" cy="177.7" r="2.2" fill="#bfbfbf" stroke="#e6e6e6" stroke-width="0.6"/>
<circle cx="267.7" cy="173.4" r="2.2" fill="#bfbfbf" stroke="#e6e6e6" stroke-width="0.6"/>
<circle cx="268.0" cy="181.0" r="2.2" fill="#bfbfbf" stroke="#e6e6e6" stroke-width="0.6"/>
<circle cx="268.3" cy="190.2" r="2.2" fill="#bfbfbf" stroke="#e6e6e6" stroke-width="0.6"/>
<circle cx="268.5" cy="176.7" r="2.2" fill="#bfbfbf" stroke="#e6e6e6" stroke-width="0.6"/>
<circle cx="268.8" cy="167.8" r="2.2" fill="#bfbfbf" stroke="#e6e6e6" stroke-width="0.6"/>
<circle cx="269.1" cy="178.4" r="2.2" fill="#bfbfbf" stroke="#e6e6e6" stroke-width="0.6"/>
<circle cx="269.3" cy="173.5" r="2.2" fill="#bfbfbf" stroke="#e6e6e6" stroke-width="0.6"/>
<circle cx="269.6" cy="181.7" r="2.2" fill="#bfbfbf" stroke="#e6e6e6" stroke-width="0.6"/>
<circle cx="269.9" cy="175.2" r="2.2" fill="#bfbfbf" stroke="#e6e6e6" stroke-width="0.6"/>
<circle cx="270.1" cy="183.0" r="2.2" fill="#bfbfbf" stroke="#e6e6e6" stroke-width="0.6"/>
<circle cx="270.4" cy="183.3" r="2.2" fill="#bfbfbf" stroke="#e6e6e6" stroke-width="0.6"/>
<circle cx="270.7" cy="171.2" r="2.2" fill="#bfbfbf" stroke="#e6e6e6" stroke-width="0.6"/>
<circle cx="271.0" cy="182.2" r="2.2" fill="#bfbfbf" stroke="#e6e6e6" stroke-width="0.6"/>
<circle cx="271.2" cy="169.5" r="2.2" fill="#bfbfbf" stroke="#e6e6e6" stroke-width="0.6"/>
<circle cx="271.5" cy="183.9" r="2.2" fill="#bfbfbf" stroke="#e6e6e6" stroke-width="0.6"/>
<circle cx="271.8" cy="169.2" r="2.2" fill="#bfbfbf" stroke="#e6e6e6" stroke-width="0.6"/>
<circle cx="272.0" cy="174.5" r="2.2" fill="#bfbfbf" stroke="#e6e6e6" stroke-width="0.6"/>
<circle cx="272.3" cy="186.3" r="2.2" fill="#bfbfbf" stroke="#e6e6e6" stroke-width="0.6"/>
<circle cx="272.6" cy="180.9" r="2.2" fill="#bfbfbf" stroke="#e6e6e6" stroke-width="0.6"/>
<circle cx="272.8" cy="183.3" r="2.2" fill="#bfbfbf" stroke="#e6e6e6" stroke-width="0.6"/>
<circle cx="273.1" cy="167.6" r="2.2" fill="#bfbfbf" stroke="#e6e6e6" stroke-width="0.6"/>
<circle cx="273.4" cy="183.7" r="2.2" fill="#bfbfbf" stroke="#e6e6e6" stroke-width="0.6"/>
<circle cx="273.7" cy="175.6" r="2.2" fill="#bfbfbf" stroke="#e6e6e6" stroke-width="0.6"/>
<circle cx="273.9" cy="188.1" r="2.2" fill="#bfbfbf" stroke="#e6e6e6" stroke-width="0.6"/>
<circle cx="274.2" cy="180.1" r="2.2" fill="#bfbfbf" stroke="#e6e6e6" stroke-width="0.6"/>
<circle cx="274.5" cy="179.3" r="2.2" fill="#bfbfbf" stroke="#e6e6e6" stroke-width="0.6"/>
<circle cx="274.7" cy="171.7" r="2.2" fill="#bfbfbf" stroke="#e6e6e6" stroke-width="0.6"/>
<circle cx="275.0" cy="175.3" r="2.2" fill="#bfbfbf" stroke="#e6e6e6" stroke-width="0.6"/>
<circle cx="275.3" cy="179.7" r="2.2" fill="#bfbfbf" stroke="#e6e6e6" stroke-width="0.6"/>
<circle cx="275.5" cy="186.7" r="2.2" fill="#bfbfbf" stroke="#e6e6e6" stroke-width="0.6"/>
<circle cx="275.8" cy="186.3" r="2.2" fill="#bfbfbf" stroke="#e6e6e6" stroke-width="0.6"/>
<circle cx="276.1" cy="178.5" r="2.2" fill="#bfbfbf" stroke="#e6e6e6" stroke-width="0.6"/>
<circle cx="276.4" cy="174.0" r="2.2" fill="#bfbfbf" stroke="#e6e6e6" stroke-width="0.6"/>
<circle cx="276.6" cy="173.6" r="2.2" fill="#bfbfbf" stroke="#e6e6e6" stroke-width="0.6"/>
<circle cx="276.9" cy="188.4" r="2.2" fill="#bfbfbf" stroke="#e6e6e6" stroke-width="0.6"/>
<circle cx="277.2" cy="181.4" r="2.2" fill="#bfbfbf" stroke="#e6e6e6" stroke-width="0.6"/>
<circle cx="277.4" cy="174.5" r="2.2" fill="#bfbfbf" stroke="#e6e6e6" stroke-width="0.6"/>
<circle cx="277.7" cy="187.5" r="2.2" fill="#bfbfbf" stroke="#e6e6e6" stroke-width="0.6"/>
<circle cx="278.0" cy="182.7" r="2.2" fill="#bfbfbf" stroke="#e6e6e6" stroke-width="0.6"/>
<circle cx="278.2" cy="183.8" r="2.2" fill="#bfbfbf" stroke="#e6e6e6" stroke-width="0.6"/>
<circle cx="278.5" cy="184.3" r="2.2" fill="#bfbfbf" stroke="#e6e6e6" stroke-width="0.6"/>
<circle cx="278.8" cy="181.7" r="2.2" fill="#bfbfbf" stroke="#e6e6e6" stroke-width="0.6"/>
<circle cx="279.1" cy="177.4" r="2.2" fill="#bfbfbf" stroke="#e6e6e6" stroke-width="0.6"/>
<circle cx="279.3" cy="171.7" r="2.2" fill="#bfbfbf" stroke="#e6e6e6" stroke-width="0.6"/>
<circle cx="279.6" cy="161.7" r="2.2" fill="#bfbfbf" stroke="#e6e6e6" stroke-width="0.6"/>
<circle cx="279.9" cy="180.8" r="2.2" fill="#bfbfbf" stroke="#e6e6e6" stroke-width="0.6"/>
<circle cx="280.1" cy="173.2" r="2.2" fill="#bfbfbf" stroke="#e6e6e6" stroke-width="0.6"/>
<circle cx="280.4" cy="175.6" r="2.2" fill="#bfbfbf" stroke="#e6e6e6" stroke-width="0.6"/>
<circle cx="280.7" cy="188.8" r="2.2" fill="#bfbfbf" stroke="#e6e6e6" stroke-width="0.6"/>
<circle cx="280.9" cy="178.6" r="2.2" fill="#bfbfbf" stroke="#e6e6e6" stroke-width="0.6"/>
<circle cx="281.2" cy="172.7" r="2.2" fill="#bfbfbf" stroke="#e6e6e6" stroke-width="0.6"/>
<circle cx="281.5" cy="177.0" r="2.2" fill="#bfbfbf" stroke="#e6e6e6" stroke-width="0.6"/>
<circle cx="281.8" cy="193.6" r="2.2" fill="#bfbfbf" stroke="#e6e6e6" stroke-width="0.6"/>
<circle cx="282.0" cy="175.2" r="2.2" fill="#bfbfbf" stroke="#e6e6e6" stroke-width="0.6"/>
<circle cx="282.3" cy="179.2" r="2.2" fill="#bfbfbf" stroke="#e6e6e6" stroke-width="0.6"/>
<circle cx="282.6" cy="172.9" r="2.2" fill="#bfbfbf" stroke="#e6e6e6" stroke-width="0.6"/>
<circle cx="282.8" cy="182.7" r="2.2" fill="#bfbfbf" stroke="#e6e6e6" stroke-width="0.6"/>
<circle cx="283.1" cy="186.3" r="2.2" fill="#bfbfbf" stroke="#e6e6e6" stroke-width="0.6"/>
<circle cx="283.4" cy="192.1" r="2.2" fill="#bfbfbf" stroke="#e6e6e6" stroke-width="0.6"/>
<circle cx="283.6" cy="181.6" r="2.2" fill="#bfbfbf" stroke="#e6e6e6" stroke-width="0.6"/>
<circle cx="283.9" cy="174.1" r="2.2" fill="#bfbfbf" stroke="#e6e6e6" stroke-width="0.6"/>
<circle cx="284.2" cy="175.6" r="2.2" fill="#bfbfbf" stroke="#e6e6e6" stroke-width="0.6"/>
<circle cx="284.5" cy="180.0" r="2.2" fill="#bfbfbf" stroke="#e6e6e6" stroke-width="0.6"/>
<circle cx="284.7" cy="178.6" r="2.2" fill="#bfbfbf" stroke="#e6e6e6" stroke-width="0.6"/>
<circle cx="285.0" cy="177.9" r="2.2" fill="#bfbfbf" stroke="#e6e6e6" stroke-width="0.6"/>
<circle cx="285.3" cy="183.6" r="2.2" fill="#bfbfbf" stroke="#e6e6e6" stroke-width="0.6"/>
<circle cx="285.5" cy="175.8" r="2.2" fill="#bfbfbf" stroke="#e6e6e6" stroke-width="0.6"/>
<circle cx="285.8" cy="179.9" r="2.2" fill="#bfbfbf" stroke="#e6e6e6" stroke-width="0.6"/>
<circle cx="286.1" cy="193.6" r="2.2" fill="#bfbfbf" stroke="#e6e6e6" stroke-width="0.6"/>
<circle cx="286.3" cy="180.2" r="2.2" fill="#bfbfbf" stroke="#e6e6e6" stroke-width="0.6"/>
<circle cx="286.6" cy="176.1" r="2.2" fill="#bfbfbf" stroke="#e6e6e6" stroke-width="0.6"/>
<circle cx="286.9" cy="187.9" r="2.2" fill="#bfbfbf" stroke="#e6e6e6" stroke-width="0.6"/>
<circle cx="287.2" cy="175.4" r="2.2" fill="#bfbfbf" stroke="#e6e6e6" stroke-width="0.6"/>
<circle cx="287.4" cy="178.3" r="2.2" fill="#bfbfbf" stroke="#e6e6e6" stroke-width="0.6"/>
<circle cx="287.7" cy="178.4" r="2.2" fill="#bfbfbf" stroke="#e6e6e6" stroke-width="0.6"/>
<circle cx="288.0" cy="174.3" r="2.2" fill="#bfbfbf" stroke="#e6e6e6" stroke-width="0.6"/>
<circle cx="288.2" cy="182.9" r="2.2" fill="#bfbfbf" stroke="#e6e6e6" stroke-width="0.6"/>
<circle cx="288.5" cy="184.4" r="2.2" fill="#bfbfbf" stroke="#e6e6e6" stroke-width="0.6"/>
<circle cx="288.8" cy="179.2" r="2.2" fill="#bfbfbf" stroke="#e6e6e6" stroke-width="0.6"/>
<circle cx="289.0" cy="193.9" r="2.2" fill="#bfbfbf" stroke="#e6e6e6" stroke-width="0.6"/>
<circle cx="289.3" cy="186.3" r="2.2" fill="#bfbfbf" stroke="#e6e6e6" stroke-width="0.6"/>
<circle cx="289.6" cy="182.5" r="2.2" fill="#bfbfbf" stroke="#e6e6e6" stroke-width="0.6"/>
<circle cx="289.9" cy="186.8" r="2.2" fill="#bfbfbf" stroke="#e6e6e6" stroke-width="0.6"/>
<circle cx="290.1" cy="182.2" r="2.2" fill="#bfbfbf" stroke="#e6e6e6" stroke-width="0.6"/>
<circle cx="290.4" cy="177.5" r="2.2" fill="#bfbfbf" stroke="#e6e6e6" stroke-width="0.6"/>
<circle cx="290.7" cy="179.8" r="2.2" fill="#bfbfbf" stroke="#e6e6e6" stroke-width="0.6"/>
<circle cx="290.9" cy="182.4" r="2.2" fill="#bfbfbf" stroke="#e6e6e6" stroke-width="0.6"/>
<circle cx="291.2" cy="189.0" r="2.2" fill="#bfbfbf" stroke="#e6e6e6" stroke-width="0.6"/>
<circle cx="291.5" cy="170.6" r="2.2" fill="#bfbfbf" stroke="#e6e6e6" stroke-width="0.6"/>
<circle cx="291.7" cy="182.8" r="2.2" fill="#bfbfbf" stroke="#e6e6e6" stroke-width="0.6"/>
<circle cx="292.0" cy="173.2" r="2.2" fill="#bfbfbf" stroke="#e6e6e6" stroke-width="0.6"/>
<circle cx="292.3" cy="193.0" r="2.2" fill="#bfbfbf" stroke="#e6e6e6" stroke-width="0.6"/>
<circle cx="292.6" cy="184.7" r="2.2" fill="#bfbfbf" stroke="#e6e6e6" stroke-width="0.6"/>
<circle cx="292.8" cy="180.0" r="2.2" fill="#bfbfbf" stroke="#e6e6e6" stroke-width="0.6"/>
<circle cx="293.1" cy="175.4" r="2.2" fill="#bfbfbf" stroke="#e6e6e6" stroke-width="0.6"/>
<circle cx="293.4" cy="186.8" r="2.2" fill="#bfbfbf" stroke="#e6e6e6" stroke-width="0.6"/>
<circle cx="293.6" cy="178.7" r="2.2" fill="#bfbfbf" stroke="#e6e6e6" stroke-width="0.6"/>
<circle cx="293.9" cy="178.6" r="2.2" fill="#bfbfbf" stroke="#e6e6e6" stroke-width="0.6"/>
<circle cx="294.2" cy="176.6" r="2.2" fill="#bfbfbf" stroke="#e6e6e6" stroke-width="0.6"/>
<circle cx="294.4" cy="175.1" r="2.2" fill="#bfbfbf" stroke="#e6e6e6" stroke-width="0.6"/>
<circle cx="294.7" cy="180.0" r="2.2" fill="#bfbfbf" stroke="#e6e6e6" stroke-width="0.6"/>
<circle cx="295.0" cy="180.5" r="2.2" fill="#bfbfbf" stroke="#e6e6e6" stroke-width="0.6"/>
<circle cx="295.3" cy="178.6" r="2.2" fill="#bfbfbf" stroke="#e6e6e6" stroke-width="0.6"/>
<circle cx="295.5" cy="175.7" r="2.2" fill="#bfbfbf" stroke="#e6e6e6" stroke-width="0.6"/>
<circle cx="295.8" cy="179.7" r="2.2" fill="#bfbfbf" stroke="#e6e6e6" stroke-width="0.6"/>
<circle cx="296.1" cy="181.9" r="2.2" fill="#bfbfbf" stroke="#e6e6e6" stroke-width="0.6"/>
<circle cx="296.3" cy="180.2" r="2.2" fill="#bfbfbf" stroke="#e6e6e6" stroke-width="0.6"/>
<circle cx="296.6" cy="184.6" r="2.2" fill="#bfbfbf" stroke="#e6e6e6" stroke-width="0.6"/>
<circle cx="296.9" cy="180.7" r="2.2" fill="#bfbfbf" stroke="#e6e6e6" stroke-width="0.6"/>
<circle cx="297.1" cy="178.0" r="2.2" fill="#bfbfbf" stroke="#e6e6e6" stroke-width="0.6"/>
<circle cx="297.4" cy="180.6" r="2.2" fill="#bfbfbf" stroke="#e6e6e6" stroke-width="0.6"/>
<circle cx="297.7" cy="178.5" r="2.2" fill="#bfbfbf" stroke="#e6e6e6" stroke-width="0.6"/>
<circle cx="298.0" cy="183.3" r="2.2" fill="#bfbfbf" stroke="#e6e6e6" stroke-width="0.6"/>
<circle cx="298.2" cy="177.7" r="2.2" fill="#bfbfbf" stroke="#e6e6e6" stroke-width="0.6"/>
<circle cx="298.5" cy="173.3" r="2.2" fill="#bfbfbf" stroke="#e6e6e6" stroke-width="0.6"/>
<circle cx="298.8" cy="184.0" r="2.2" fill="#bfbfbf" stroke="#e6e6e6" stroke-width="0.6"/>
<circle cx="299.0" cy="182.2" r="2.2" fill="#bfbfbf" stroke="#e6e6e6" stroke-width="0.6"/>
<circle cx="299.3" cy="183.4" r="2.2" fill="#bfbfbf" stroke="#e6e6e6" stroke-width="0.6"/>
<circle cx="299.6" cy="189.8" r="2.2" fill="#bfbfbf" stroke="#e6e6e6" stroke-width="0.6"/>
<circle cx="299.8" cy="179.0" r="2.2" fill="#bfbfbf" stroke="#e6e6e6" stroke-width="0.6"/>
<circle cx="300.1" cy="182.3" r="2.2" fill="#bfbfbf" stroke="#e6e6e6" stroke-width="0.6"/>
<circle cx="300.4" cy="180.9" r="2.2" fill="#bfbfbf" stroke="#e6e6e6" stroke-width="0.6"/>
<circle cx="300.7" cy="172.1" r="2.2" fill="#bfbfbf" stroke="#e6e6e6" stroke-width="0.6"/>
<circle cx="300.9" cy="179.4" r="2.2" fill="#bfbfbf" stroke="#e6e6e6" stroke-width="0.6"/>
<circle cx="301.2" cy="173.5" r="2.2" fill="#bfbfbf" stroke="#e6e6e6" stroke-width="0.6"/>
<circle cx="301.5" cy="180.4" r="2.2" fill="#bfbfbf" stroke="#e6e6e6" stroke-width="0.6"/>
<circle cx="301.7" cy="175.7" r="2.2" fill="#bfbfbf" stroke="#e6e6e6" stroke-width="0.6"/>
<circle cx="302.0" cy="175.4" r="2.2" fill="#bfbfbf" stroke="#e6e6e6" stroke-width="0.6"/>
<circle cx="302.3" cy="186.2" r="2.2" fill="#bfbfbf" stroke="#e6e6e6" stroke-width="0.6"/>
<circle cx="302.5" cy="178.4" r="2.2" fill="#bfbfbf" stroke="#e6e6e6" stroke-width="0.6"/>
<circle cx="302.8" cy="179.0" r="2.2" fill="#bfbfbf" stroke="#e6e6e6" stroke-width="0.6"/>
<circle cx="303.1" cy="181.6" r="2.2" fill="#bfbfbf" stroke="#e6e6e6" stroke-width="0.6"/>
<circle cx="303.4" cy="171.1" r="2.2" fill="#bfbfbf" stroke="#e6e6e6" stroke-width="0.6"/>
<circle cx="303.6" cy="176.3" r="2.2" fill="#bfbfbf" stroke="#e6e6e6" stroke-width="0.6"/>
<circle cx="303.9" cy="176.9" r="2.2" fill="#bfbfbf" stroke="#e6e6e6" stroke-width="0.6"/>
<circle cx="304.2" cy="181.9" r="2.2" fill="#bfbfbf" stroke="#e6e6e6" stroke-width="0.6"/>
<circle cx="304.4" cy="181.2" r="2.2" fill="#bfbfbf" stroke="#e6e6e6" stroke-width="0.6"/>
<circle cx="304.7" cy="177.5" r="2.2" fill="#bfbfbf" stroke="#e6e6e6" stroke-width="0.6"/>
<circle cx="305.0" cy="187.7" r="2.2" fill="#bfbfbf" stroke="#e6e6e6" stroke-width="0.6"/>
<circle cx="305.2" cy="177.9" r="2.2" fill="#bfbfbf" stroke="#e6e6e6" stroke-width="0.6"/>
<circle cx="305.5" cy="176.8" r="2.2" fill="#bfbfbf" stroke="#e6e6e6" stroke-width="0.6"/>
<circle cx="305.8" cy="181.8" r="2.2" fill="#bfbfbf" stroke="#e6e6e6" stroke-width="0.6"/>
<circle cx="306.1" cy="177.1" r="2.2" fill="#bfbfbf" stroke="#e6e6e6" stroke-width="0.6"/>
<circle cx="306.3" cy="185.4" r="2.2" fill="#bfbfbf" stroke="#e6e6e6" stroke-width="0.6"/>
<circle cx="306.6" cy="181.5" r="2.2" fill="#bfbfbf" stroke="#e6e6e6" stroke-width="0.6"/>
<circle cx="306.9" cy="177.2" r="2.2" fill="#bfbfbf" stroke="#e6e6e6" stroke-width="0.6"/>
<circle cx="307.1" cy="189.8" r="2.2" fill="#bfbfbf" stroke="#e6e6e6" stroke-width="0.6"/>
<circle cx="307.4" cy="178.5" r="2.2" fill="#bfbfbf" stroke="#e6e6e6" stroke-width="0.6"/>
<circle cx="307.7" cy="180.0" r="2.2" fill="#bfbfbf" stroke="#e6e6e6" stroke-width="0.6"/>
<circle cx="307.9" cy="181.5" r="2.2" fill="#bfbfbf" stroke="#e6e6e6" stroke-width="0.6"/>
<circle cx="308.2" cy="181.6" r="2.2" fill="#bfbfbf" stroke="#e6e6e6" stroke-width="0.6"/>
<circle cx="308.5" cy="181.9" r="2.2" fill="#bfbfbf" stroke="#e6e6e6" stroke-width="0.6"/>
<circle cx="308.8" cy="167.2" r="2.2" fill="#bfbfbf" stroke="#e6e6e6" stroke-width="0.6"/>
<circle cx="309.0" cy="179.7" r="2.2" fill="#bfbfbf" stroke="#e6e6e6" stroke-width="0.6"/>
<circle cx="309.3" cy="184.4" r="2.2" fill="#bfbfbf" stroke="#e6e6e6" stroke-width="0.6"/>
<circle cx="309.6" cy="178.9" r="2.2" fill="#bfbfbf" stroke="#e6e6e6" stroke-width="0.6"/>
<circle cx="309.8" cy="179.8" r="2.2" fill="#bfbfbf" stroke="#e6e6e6" stroke-width="0.6"/>
<circle cx="310.1" cy="175.4" r="2.2" fill="#bfbfbf" stroke="#e6e6e6" stroke-width="0.6"/>
<circle cx="310.4" cy="181.9" r="2.2" fill="#bfbfbf" stroke="#e6e6e6" stroke-width="0.6"/>
<circle cx="310.6" cy="179.1" r="2.2" fill="#bfbfbf" stroke="#e6e6e6" stroke-width="0.6"/>
<circle cx="310.9" cy="177.2" r="2.2" fill="#bfbfbf" stroke="#e6e6e6" stroke-width="0.6"/>
<circle cx="311.2" cy="185.7" r="2.2" fill="#bfbfbf" stroke="#e6e6e6" stroke-width="0.6"/>
<circle cx="311.5" cy="187.1" r="2.2" fill="#bfbfbf" stroke="#e6e6e6" stroke-width="0.6"/>
<circle cx="311.7" cy="178.8" r="2.2" fill="#bfbfbf" stroke="#e6e6e6" stroke-width="0.6"/>
<circle cx="312.0" cy="174.6" r="2.2" fill="#bfbfbf" stroke="#e6e6e6" stroke-width="0.6"/>
<circle cx="312.3" cy="175.3" r="2.2" fill="#bfbfbf" stroke="#e6e6e6" stroke-width="0.6"/>
<circle cx="312.5" cy="179.4" r="2.2" fill="#bfbfbf" stroke="#e6e6e6" stroke-width="0.6"/>
<circle cx="312.8" cy="181.2" r="2.2" fill="#bfbfbf" stroke="#e6e6e6" stroke-width="0.6"/>
<circle cx="313.1" cy="182.8" r="2.2" fill="#bfbfbf" stroke="#e6e6e6" stroke-width="0.6"/>
<circle cx="313.3" cy="178.0" r="2.2" fill="#bfbfbf" stroke="#e6e6e6" stroke-width="0.6"/>
<circle cx="313.6" cy="175.9" r="2.2" fill="#bfbfbf" stroke="#e6e6e6" stroke-width="0.6"/>
<circle cx="313.9" cy="176.5" r="2.2" fill="#bfbfbf" stroke="#e6e6e6" stroke-width="0.6"/>
<circle cx="314.2" cy="183.3" r="2.2" fill="#bfbfbf" stroke="#e6e6e6" stroke-width="0.6"/>
<circle cx="314.4" cy="176.6" r="2.2" fill="#bfbfbf" stroke="#e6e6e6" stroke-width="0.6"/>
<circle cx="314.7" cy="176.9" r="2.2" fill="#bfbfbf" stroke="#e6e6e6" stroke-width="0.6"/>
<circle cx="315.0" cy="172.2" r="2.2" fill="#bfbfbf" stroke="#e6e6e6" stroke-width="0.6"/>
<circle cx="315.2" cy="178.8" r="2.2" fill="#bfbfbf" stroke="#e6e6e6" stroke-width="0.6"/>
<circle cx="315.5" cy="182.2" r="2.2" fill="#bfbfbf" stroke="#e6e6e6" stroke-width="0.6"/>
<circle cx="315.8" cy="182.2" r="2.2" fill="#bfbfbf" stroke="#e6e6e6" stroke-width="0.6"/>
<circle cx="316.0" cy="181.4" r="2.2" fill="#bfbfbf" stroke="#e6e6e6" stroke-width="0.6"/>
<circle cx="316.3" cy="186.0" r="2.2" fill="#bfbfbf" stroke="#e6e6e6" stroke-width="0.6"/>
<circle cx="316.6" cy="186.9" r="2.2" fill="#bfbfbf" stroke="#e6e6e6" stroke-width="0.6"/>
<circle cx="316.9" cy="181.2" r="2.2" fill="#bfbfbf" stroke="#e6e6e6" stroke-width="0.6"/>
<circle cx="317.1" cy="179.6" r="2.2" fill="#bfbfbf" stroke="#e6e6e6" stroke-width="0.6"/>
<circle cx="317.4" cy="175.3" r="2.2" fill="#bfbfbf" stroke="#e6e6e6" stroke-width="0.6"/>
<circle cx="317.7" cy="182.3" r="2.2" fill="#bfbfbf" stroke="#e6e6e6" stroke-width="0.6"/>
<circle cx="317.9" cy="163.6" r="2.2" fill="#bfbfbf" stroke="#e6e6e6" stroke-width="0.6"/>
<circle cx="318.2" cy="168.1" r="2.2" fill="#bfbfbf" stroke="#e6e6e6" stroke-width="0.6"/>
<circle cx="318.5" cy="183.7" r="2.2" fill="#bfbfbf" stroke="#e6e6e6" stroke-width="0.6"/>
<circle cx="318.7" cy="184.5" r="2.2" fill="#bfbfbf" stroke="#e6e6e6" stroke-width="0.6"/>
<circle cx="319.0" cy="183.8" r="2.2" fill="#bfbfbf" stroke="#e6e6e6" stroke-width="0.6"/>
<circle cx="319.3" cy="184.2" r="2.2" fill="#bfbfbf" stroke="#e6e6e6" stroke-width="0.6"/>
<circle cx="319.5" cy="178.3" r="2.2" fill="#bfbfbf" stroke="#e6e6e6" stroke-width="0.6"/>
<circle cx="319.8" cy="177.4" r="2.2" fill="#bfbfbf" stroke="#e6e6e6" stroke-width="0.6"/>
<circle cx="320.1" cy="179.7" r="2.2" fill="#bfbfbf" stroke="#e6e6e6" stroke-width="0.6"/>
<circle cx="320.4" cy="185.9" r="2.2" fill="#bfbfbf" stroke="#e6e6e6" stroke-width="0.6"/>
<circle cx="320.6" cy="177.9" r="2.2" fill="#bfbfbf" stroke="#e6e6e6" stroke-width="0.6"/>
<circle cx="320.9" cy="185.8" r="2.2" fill="#bfbfbf" stroke="#e6e6e6" stroke-width="0.6"/>
<circle cx="321.2" cy="184.3" r="2.2" fill="#bfbfbf" stroke="#e6e6e6" stroke-width="0.6"/>
<circle cx="321.4" cy="177.2" r="2.2" fill="#bfbfbf" stroke="#e6e6e6" stroke-width="0.6"/>
<circle cx="321.7" cy="175.1" r="2.2" fill="#bfbfbf" stroke="#e6e6e6" stroke-width="0.6"/>
<circle cx="322.0" cy="185.0" r="2.2" fill="#bfbfbf" stroke="#e6e6e6" stroke-width="0.6"/>
<circle cx="322.2" cy="182.8" r="2.2" fill="#bfbfbf" stroke="#e6e6e6" stroke-width="0.6"/>
<circle cx="322.5" cy="184.2" r="2.2" fill="#bfbfbf" stroke="#e6e6e6" stroke-width="0.6"/>
<circle cx="322.8" cy="182.9" r="2.2" fill="#bfbfbf" stroke="#e6e6e6" stroke-width="0.6"/>
<circle cx="323.1" cy="182.5" r="2.2" fill="#bfbfbf" stroke="#e6e6e6" stroke-width="0.6"/>
<circle cx="323.3" cy="178.8" r="2.2" fill="#bfbfbf" stroke="#e6e6e6" stroke-width="0.6"/>
<circle cx="323.6" cy="185.2" r="2.2" fill="#bfbfbf" stroke="#e6e6e6" stroke-width="0.6"/>
<circle cx="323.9" cy="176.3" r="2.2" fill="#bfbfbf" stroke="#e6e6e6" stroke-width="0.6"/>
<circle cx="324.1" cy="177.7" r="2.2" fill="#bfbfbf" stroke="#e6e6e6" stroke-width="0.6"/>
<circle cx="324.4" cy="181.4" r="2.2" fill="#bfbfbf" stroke="#e6e6e6" stroke-width="0.6"/>
<circle cx="324.7" cy="183.9" r="2.2" fill="#bfbfbf" stroke="#e6e6e6" stroke-width="0.6"/>
<circle cx="324.9" cy="182.6" r="2.2" fill="#bfbfbf" stroke="#e6e6e6" stroke-width="0.6"/>
<circle cx="325.2" cy="182.8" r="2.2" fill="#bfbfbf" stroke="#e6e6e6" stroke-width="0.6"/>
<circle cx="325.5" cy="178.6" r="2.2" fill="#bfbfbf" stroke="#e6e6e6" stroke-width="0.6"/>
<circle cx="325.8" cy="184.8" r="2.2" fill="#bfbfbf" stroke="#e6e6e6" stroke-width="0.6"/>
<circle cx="326.0" cy="171.9" r="2.2" fill="#bfbfbf" stroke="#e6e6e6" stroke-width="0.6"/>
<circle cx="326.3" cy="177.9" r="2.2" fill="#bfbfbf" stroke="#e6e6e6" stroke-width="0.6"/>
<circle cx="326.6" cy="175.1" r="2.2" fill="#bfbfbf" stroke="#e6e6e6" stroke-width="0.6"/>
<circle cx="326.8" cy="176.1" r="2.2" fill="#bfbfbf" stroke="#e6e6e6" stroke-width="0.6"/>
<circle cx="327.1" cy="182.5" r="2.2" fill="#bfbfbf" stroke="#e6e6e6" stroke-width="0.6"/>
<circle cx="327.4" cy="184.1" r="2.2" fill="#bfbfbf" stroke="#e6e6e6" stroke-width="0.6"/>
<circle cx="327.6" cy="176.5" r="2.2" fill="#bfbfbf" stroke="#e6e6e6" stroke-width="0.6"/>
<circle cx="327.9" cy="180.7" r="2.2" fill="#bfbfbf" stroke="#e6e6e6" stroke-width="0.6"/>
<circle cx="328.2" cy="188.7" r="2.2" fill="#bfbfbf" stroke="#e6e6e6" stroke-width="0.6"/>
<circle cx="328.5" cy="182.0" r="2.2" fill="#bfbfbf" stroke="#e6e6e6" stroke-width="0.6"/>
<circle cx="328.7" cy="186.9" r="2.2" fill="#bfbfbf" stroke="#e6e6e6" stroke-width="0.6"/>
<circle cx="329.0" cy="185.2" r="2.2" fill="#bfbfbf" stroke="#e6e6e6" stroke-width="0.6"/>
<circle cx="329.3" cy="185.7" r="2.2" fill="#bfbfbf" stroke="#e6e6e6" stroke-width="0.6"/>
<circle cx="329.5" cy="179.5" r="2.2" fill="#bfbfbf" stroke="#e6e6e6" stroke-width="0.6"/>
<circle cx="329.8" cy="182.3" r="2.2" fill="#bfbfbf" stroke="#e6e6e6" stroke-width="0.6"/>
<circle cx="330.1" cy="190.4" r="2.2" fill="#bfbfbf" stroke="#e6e6e6" stroke-width="0.6"/>
<circle cx="330.3" cy="177.6" r="2.2" fill="#bfbfbf" stroke="#e6e6e6" stroke-width="0.6"/>
<circle cx="330.6" cy="176.0" r="2.2" fill="#bfbfbf" stroke="#e6e6e6" stroke-width="0.6"/>
<circle cx="330.9" cy="186.1" r="2.2" fill="#bfbfbf" stroke="#e6e6e6" stroke-width="0.6"/>
<circle cx="331.2" cy="178.4" r="2.2" fill="#bfbfbf" stroke="#e6e6e6" stroke-width="0.6"/>
<circle cx="331.4" cy="181.1" r="2.2" fill="#bfbfbf" stroke="#e6e6e6" stroke-width="0.6"/>
<circle cx="331.7" cy="183.4" r="2.2" fill="#bfbfbf" stroke="#e6e6e6" stroke-width="0.6"/>
<circle cx="332.0" cy="179.2" r="2.2" fill="#bfbfbf" stroke="#e6e6e6" stroke-width="0.6"/>
<circle cx="332.2" cy="179.9" r="2.2" fill="#bfbfbf" stroke="#e6e6e6" stroke-width="0.6"/>
<circle cx="332.5" cy="175.9" r="2.2" fill="#bfbfbf" stroke="#e6e6e6" stroke-width="0.6"/>
<circle cx="332.8" cy="180.3" r="2.2" fill="#bfbfbf" stroke="#e6e6e6" stroke-width="0.6"/>
<circle cx="333.0" cy="175.3" r="2.2" fill="#bfbfbf" stroke="#e6e6e6" stroke-width="0.6"/>
<circle cx="333.3" cy="182.6" r="2.2" fill="#bfbfbf" stroke="#e6e6e6" stroke-width="0.6"/>
<circle cx="333.6" cy="181.3" r="2.2" fill="#bfbfbf" stroke="#e6e6e6" stroke-width="0.6"/>
<circle cx="333.9" cy="185.4" r="2.2" fill="#bfbfbf" stroke="#e6e6e6" stroke-width="0.6"/>
<circle cx="334.1" cy="179.8" r="2.2" fill="#bfbfbf" stroke="#e6e6e6" stroke-width="0.6"/>
<circle cx="334.4" cy="185.3" r="2.2" fill="#bfbfbf" stroke="#e6e6e6" stroke-width="0.6"/>
<circle cx="334.7" cy="185.8" r="2.2" fill="#bfbfbf" stroke="#e6e6e6" stroke-width="0.6"/>
<circle cx="334.9" cy="186.1" r="2.2" fill="#bfbfbf" stroke="#e6e6e6" stroke-width="0.6"/>
<circle cx="335.2" cy="184.1" r="2.2" fill="#bfbfbf" stroke="#e6e6e6" stroke-width="0.6"/>
<circle cx="335.5" cy="182.7" r="2.2" fill="#bfbfbf" stroke="#e6e6e6" stroke-width="0.6"/>
<circle cx="335.7" cy="182.0" r="2.2" fill="#bfbfbf" stroke="#e6e6e6" stroke-width="0.6"/>
<circle cx="336.0" cy="178.9" r="2.2" fill="#bfbfbf" stroke="#e6e6e6" stroke-width="0.6"/>
<circle cx="336.3" cy="180.6" r="2.2" fill="#bfbfbf" stroke="#e6e6e6" stroke-width="0.6"/>
<circle cx="336.6" cy="180.7" r="2.2" fill="#bfbfbf" stroke="#e6e6e6" stroke-width="0.6"/>
<circle cx="336.8" cy="189.6" r="2.2" fill="#bfbfbf" stroke="#e6e6e6" stroke-width="0.6"/>
<circle cx="337.1" cy="175.7" r="2.2" fill="#bfbfbf" stroke="#e6e6e6" stroke-width="0.6"/>
<circle cx="337.4" cy="179.8" r="2.2" fill="#bfbfbf" stroke="#e6e6e6" stroke-width="0.6"/>
<circle cx="337.6" cy="182.0" r="2.2" fill="#bfbfbf" stroke="#e6e6e6" stroke-width="0.6"/>
<circle cx="337.9" cy="176.9" r="2.2" fill="#bfbfbf" stroke="#e6e6e6" stroke-width="0.6"/>
<circle cx="338.2" cy="183.9" r="2.2" fill="#bfbfbf" stroke="#e6e6e6" stroke-width="0.6"/>
<circle cx="338.4" cy="178.2" r="2.2" fill="#bfbfbf" stroke="#e6e6e6" stroke-width="0.6"/>
<circle cx="338.7" cy="182.4" r="2.2" fill="#bfbfbf" stroke="#e6e6e6" stroke-width="0.6"/>
<circle cx="339.0" cy="181.0" r="2.2" fill="#bfbfbf" stroke="#e6e6e6" stroke-width="0.6"/>
<circle cx="339.3" cy="171.3" r="2.2" fill="#bfbfbf" stroke="#e6e6e6" stroke-width="0.6"/>
<circle cx="339.5" cy="183.4" r="2.2" fill="#bfbfbf" stroke="#e6e6e6" stroke-width="0.6"/>
<circle cx="339.8" cy="175.5" r="2.2" fill="#bfbfbf" stroke="#e6e6e6" stroke-width="0.6"/>
<circle cx="340.1" cy="182.2" r="2.2" fill="#bfbfbf" stroke="#e6e6e6" stroke-width="0.6"/>
<circle cx="340.3" cy="187.1" r="2.2" fill="#bfbfbf" stroke="#e6e6e6" stroke-width="0.6"/>
<circle cx="340.6" cy="184.5" r="2.2" fill="#bfbfbf" stroke="#e6e6e6" stroke-width="0.6"/>
<circle cx="340.9" cy="180.9" r="2.2" fill="#bfbfbf" stroke="#e6e6e6" stroke-width="0.6"/>
<circle cx="341.1" cy="181.1" r="2.2" fill="#bfbfbf" stroke="#e6e6e6" stroke-width="0.6"/>
<circle cx="341.4" cy="181.7" r="2.2" fill="#bfbfbf" stroke="#e6e6e6" stroke-width="0.6"/>
<circle cx="341.7" cy="180.0" r="2.2" fill="#bfbfbf" stroke="#e6e6e6" stroke-width="0.6"/>
<circle cx="342.0" cy="177.4" r="2.2" fill="#bfbfbf" stroke="#e6e6e6" stroke-width="0.6"/>
<circle cx="342.2" cy="180.9" r="2.2" fill="#bfbfbf" stroke="#e6e6e6" stroke-width="0.6"/>
<circle cx="342.5" cy="180.7" r="2.2" fill="#bfbfbf" stroke="#e6e6e6" stroke-width="0.6"/>
<circle cx="342.8" cy="189.6" r="2.2" fill="#bfbfbf" stroke="#e6e6e6" stroke-width="0.6"/>
<circle cx="343.0" cy="183.1" r="2.2" fill="#bfbfbf" stroke="#e6e6e6" stroke-width="0.6"/>
<circle cx="343.3" cy="190.4" r="2.2" fill="#bfbfbf" stroke="#e6e6e6" stroke-width="0.6"/>
<circle cx="343.6" cy="180.8" r="2.2" fill="#bfbfbf" stroke="#e6e6e6" stroke-width="0.6"/>
<circle cx="343.8" cy="182.5" r="2.2" fill="#bfbfbf" stroke="#e6e6e6" stroke-width="0.6"/>
<circle cx="344.1" cy="181.1" r="2.2" fill="#bfbfbf" stroke="#e6e6e6" stroke-width="0.6"/>
<circle cx="344.4" cy="177.5" r="2.2" fill="#bfbfbf" stroke="#e6e6e6" stroke-width="0.6"/>
<circle cx="344.7" cy="177.0" r="2.2" fill="#bfbfbf" stroke="#e6e6e6" stroke-width="0.6"/>
<circle cx="344.9" cy="179.8" r="2.2" fill="#bfbfbf" stroke="#e6e6e6" stroke-width="0.6"/>
<circle cx="345.2" cy="185.1" r="2.2" fill="#bfbfbf" stroke="#e6e6e6" stroke-width="0.6"/>
<circle cx="345.5" cy="176.5" r="2.2" fill="#bfbfbf" stroke="#e6e6e6" stroke-width="0.6"/>
<circle cx="345.7" cy="175.3" r="2.2" fill="#bfbfbf" stroke="#e6e6e6" stroke-width="0.6"/>
<circle cx="346.0" cy="180.8" r="2.2" fill="#bfbfbf" stroke="#e6e6e6" stroke-width="0.6"/>
<circle cx="346.3" cy="178.3" r="2.2" fill="#bfbfbf" stroke="#e6e6e6" stroke-width="0.6"/>
<circle cx="346.5" cy="178.1" r="2.2" fill="#bfbfbf" stroke="#e6e6e6" stroke-width="0.6"/>
<circle cx="346.8" cy="187.6" r="2.2" fill="#bfbfbf" stroke="#e6e6e6" stroke-width="0.6"/>
<circle cx="347.1" cy="180.7" r="2.2" fill="#bfbfbf" stroke="#e6e6e6" stroke-width="0.6"/>
<circle cx="347.4" cy="183.3" r="2.2" fill="#bfbfbf" stroke="#e6e6e6" stroke-width="0.6"/>
<circle cx="347.6" cy="180.6" r="2.2" fill="#bfbfbf" stroke="#e6e6e6" stroke-width="0.6"/>
<circle cx="347.9" cy="184.1" r="2.2" fill="#bfbfbf" stroke="#e6e6e6" stroke-width="0.6"/>
<circle cx="348.2" cy="172.9" r="2.2" fill="#bfbfbf" stroke="#e6e6e6" stroke-width="0.6"/>
<circle cx="348.4" cy="174.7" r="2.2" fill="#bfbfbf" stroke="#e6e6e6" stroke-width="0.6"/>
<circle cx="348.7" cy="182.4" r="2.2" fill="#bfbfbf" stroke="#e6e6e6" stroke-width="0.6"/>
<circle cx="349.0" cy="185.4" r="2.2" fill="#bfbfbf" stroke="#e6e6e6" stroke-width="0.6"/>
<circle cx="349.2" cy="176.7" r="2.2" fill="#bfbfbf" stroke="#e6e6e6" stroke-width="0.6"/>
<circle cx="349.5" cy="187.7" r="2.2" fill="#bfbfbf" stroke="#e6e6e6" stroke-width="0.6"/>
<circle cx="349.8" cy="178.1" r="2.2" fill="#bfbfbf" stroke="#e6e6e6" stroke-width="0.6"/>
<circle cx="350.1" cy="178.6" r="2.2" fill="#bfbfbf" stroke="#e6e6e6" stroke-width="0.6"/>
<circle cx="350.3" cy="174.6" r="2.2" fill="#bfbfbf" stroke="#e6e6e6" stroke-width="0.6"/>
<circle cx="350.6" cy="175.9" r="2.2" fill="#bfbfbf" stroke="#e6e6e6" stroke-width="0.6"/>
<circle cx="350.9" cy="185.1" r="2.2" fill="#bfbfbf" stroke="#e6e6e6" stroke-width="0.6"/>
<circle cx="351.1" cy="181.0" r="2.2" fill="#bfbfbf" stroke="#e6e6e6" stroke-width="0.6"/>
<circle cx="351.4" cy="184.7" r="2.2" fill="#bfbfbf" stroke="#e6e6e6" stroke-width="0.6"/>
<circle cx="351.7" cy="181.5" r="2.2" fill="#bfbfbf" stroke="#e6e6e6" stroke-width="0.6"/>
<circle cx="351.9" cy="188.6" r="2.2" fill="#bfbfbf" stroke="#e6e6e6" stroke-width="0.6"/>
<circle cx="352.2" cy="176.6" r="2.2" fill="#bfbfbf" stroke="#e6e6e6" stroke-width="0.6"/>
<circle cx="352.5" cy="184.3" r="2.2" fill="#bfbfbf" stroke="#e6e6e6" stroke-width="0.6"/>
<circle cx="352.8" cy="189.0" r="2.2" fill="#bfbfbf" stroke="#e6e6e6" stroke-width="0.6"/>
<circle cx="353.0" cy="179.0" r="2.2" fill="#bfbfbf" stroke="#e6e6e6" stroke-width="0.6"/>
<circle cx="353.3" cy="175.9" r="2.2" fill="#bfbfbf" stroke="#e6e6e6" stroke-width="0.6"/>
<circle cx="353.6" cy="181.9" r="2.2" fill="#bfbfbf" stroke="#e6e6e6" stroke-width="0.6"/>
<circle cx="353.8" cy="181.7" r="2.2" fill="#bfbfbf" stroke="#e6e6e6" stroke-width="0.6"/>
<circle cx="354.1" cy="178.5" r="2.2" fill="#bfbfbf" stroke="#e6e6e6" stroke-width="0.6"/>
<circle cx="354.4" cy="176.0" r="2.2" fill="#bfbfbf" stroke="#e6e6e6" stroke-width="0.6"/>
<circle cx="354.6" cy="179.8" r="2.2" fill="#bfbfbf" stroke="#e6e6e6" stroke-width="0.6"/>
<circle cx="354.9" cy="180.6" r="2.2" fill="#bfbfbf" stroke="#e6e6e6" stroke-width="0.6"/>
<circle cx="355.2" cy="184.6" r="2.2" fill="#bfbfbf" stroke="#e6e6e6" stroke-width="0.6"/>
<circle cx="355.5" cy="179.2" r="2.2" fill="#bfbfbf" stroke="#e6e6e6" stroke-width="0.6"/>
<circle cx="355.7" cy="178.0" r="2.2" fill="#bfbfbf" stroke="#e6e6e6" stroke-width="0.6"/>
<circle cx="356.0" cy="162.5" r="2.2" fill="#bfbfbf" stroke="#e6e6e6" stroke-width="0.6"/>
<circle cx="356.3" cy="174.1" r="2.2" fill="#bfbfbf" stroke="#e6e6e6" stroke-width="0.6"/>
<circle cx="356.5" cy="186.8" r="2.2" fill="#bfbfbf" stroke="#e6e6e6" stroke-width="0.6"/>
<circle cx="356.8" cy="182.3" r="2.2" fill="#bfbfbf" stroke="#e6e6e6" stroke-width="0.6"/>
<circle cx="357.1" cy="176.9" r="2.2" fill="#bfbfbf" stroke="#e6e6e6" stroke-width="0.6"/>
<circle cx="357.3" cy="188.5" r="2.2" fill="#bfbfbf" stroke="#e6e6e6" stroke-width="0.6"/>
<circle cx="357.6" cy="186.6" r="2.2" fill="#bfbfbf" stroke="#e6e6e6" stroke-width="0.6"/>
<circle cx="357.9" cy="180.5" r="2.2" fill="#bfbfbf" stroke="#e6e6e6" stroke-width="0.6"/>
<circle cx="358.2" cy="183.1" r="2.2" fill="#bfbfbf" stroke="#e6e6e6" stroke-width="0.6"/>
<circle cx="358.4" cy="185.3" r="2.2" fill="#bfbfbf" stroke="#e6e6e6" stroke-width="0.6"/>
<circle cx="358.7" cy="176.5" r="2.2" fill="#bfbfbf" stroke="#e6e6e6" stroke-width="0.6"/>
<circle cx="359.0" cy="182.8" r="2.2" fill="#bfbfbf" stroke="#e6e6e6" stroke-width="0.6"/>
<circle cx="359.2" cy="171.4" r="2.2" fill="#bfbfbf" stroke="#e6e6e6" stroke-width="0.6"/>
<circle cx="359.5" cy="182.0" r="2.2" fill="#bfbfbf" stroke="#e6e6e6" stroke-width="0.6"/>
<circle cx="359.8" cy="190.2" r="2.2" fill="#bfbfbf" stroke="#e6e6e6" stroke-width="0.6"/>
<circle cx="360.0" cy="178.2" r="2.2" fill="#bfbfbf" stroke="#e6e6e6" stroke-width="0.6"/>
<circle cx="360.3" cy="177.0" r="2.2" fill="#bfbfbf" stroke="#e6e6e6" stroke-width="0.6"/>
<circle cx="360.6" cy="183.0" r="2.2" fill="#bfbfbf" stroke="#e6e6e6" stroke-width="0.6"/>
<circle cx="360.9" cy="179.5" r="2.2" fill="#bfbfbf" stroke="#e6e6e6" stroke-width="0.6"/>
<circle cx="361.1" cy="185.0" r="2.2" fill="#bfbfbf" stroke="#e6e6e6" stroke-width="0.6"/>
<circle cx="361.4" cy="183.6" r="2.2" fill="#bfbfbf" stroke="#e6e6e6" stroke-width="0.6"/>
<circle cx="361.7" cy="187.5" r="2.2" fill="#bfbfbf" stroke="#e6e6e6" stroke-width="0.6"/>
<circle cx="361.9" cy="189.2" r="2.2" fill="#bfbfbf" stroke="#e6e6e6" stroke-width="0.6"/>
<circle cx="362.2" cy="180.3" r="2.2" fill="#bfbfbf" stroke="#e6e6e6" stroke-width="0.6"/>
<circle cx="362.5" cy="180.0" r="2.2" fill="#bfbfbf" stroke="#e6e6e6" stroke-width="0.6"/>
<circle cx="362.7" cy="187.5" r="2.2" fill="#bfbfbf" stroke="#e6e6e6" stroke-width="0.6"/>
<circle cx="363.0" cy="181.4" r="2.2" fill="#bfbfbf" stroke="#e6e6e6" stroke-width="0.6"/>
<circle cx="363.3" cy="178.3" r="2.2" fill="#bfbfbf" stroke="#e6e6e6" stroke-width="0.6"/>
<circle cx="363.6" cy="181.7" r="2.2" fill="#bfbfbf" stroke="#e6e6e6" stroke-width="0.6"/>
<circle cx="363.8" cy="181.9" r="2.2" fill="#bfbfbf" stroke="#e6e6e6" stroke-width="0.6"/>
<circle cx="364.1" cy="178.7" r="2.2" fill="#bfbfbf" stroke="#e6e6e6" stroke-width="0.6"/>
<circle cx="364.4" cy="175.6" r="2.2" fill="#bfbfbf" stroke="#e6e6e6" stroke-width="0.6"/>
<circle cx="364.6" cy="175.8" r="2.2" fill="#bfbfbf" stroke="#e6e6e6" stroke-width="0.6"/>
<circle cx="364.9" cy="184.0" r="2.2" fill="#bfbfbf" stroke="#e6e6e6" stroke-width="0.6"/>
<circle cx="365.2" cy="176.6" r="2.2" fill="#bfbfbf" stroke="#e6e6e6" stroke-width="0.6"/>
<circle cx="365.4" cy="188.7" r="2.2" fill="#bfbfbf" stroke="#e6e6e6" stroke-width="0.6"/>
<circle cx="365.7" cy="180.2" r="2.2" fill="#bfbfbf" stroke="#e6e6e6" stroke-width="0.6"/>
<circle cx="366.0" cy="182.9" r="2.2" fill="#bfbfbf" stroke="#e6e6e6" stroke-width="0.6"/>
<circle cx="366.3" cy="179.1" r="2.2" fill="#bfbfbf" stroke="#e6e6e6" stroke-width="0.6"/>
<circle cx="366.5" cy="176.2" r="2.2" fill="#bfbfbf" stroke="#e6e6e6" stroke-width="0.6"/>
<circle cx="366.8" cy="184.8" r="2.2" fill="#bfbfbf" stroke="#e6e6e6" stroke-width="0.6"/>
<circle cx="367.1" cy="178.4" r="2.2" fill="#bfbfbf" stroke="#e6e6e6" stroke-width="0.6"/>
<circle cx="367.3" cy="180.9" r="2.2" fill="#bfbfbf" stroke="#e6e6e6" stroke-width="0.6"/>
<circle cx="367.6" cy="189.5" r="2.2" fill="#bfbfbf" stroke="#e6e6e6" stroke-width="0.6"/>
<circle cx="367.9" cy="181.4" r="2.2" fill="#bfbfbf" stroke="#e6e6e6" stroke-width="0.6"/>
<circle cx="368.1" cy="188.1" r="2.2" fill="#bfbfbf" stroke="#e6e6e6" stroke-width="0.6"/>
<circle cx="368.4" cy="185.8" r="2.2" fill="#bfbfbf" stroke="#e6e6e6" stroke-width="0.6"/>
<circle cx="368.7" cy="180.2" r="2.2" fill="#bfbfbf" stroke="#e6e6e6" stroke-width="0.6"/>
<circle cx="369.0" cy="181.6" r="2.2" fill="#bfbfbf" stroke="#e6e6e6" stroke-width="0.6"/>
<circle cx="369.2" cy="177.1" r="2.2" fill="#bfbfbf" stroke="#e6e6e6" stroke-width="0.6"/>
<circle cx="369.5" cy="186.6" r="2.2" fill="#bfbfbf" stroke="#e6e6e6" stroke-width="0.6"/>
<circle cx="369.8" cy="186.4" r="2.2" fill="#bfbfbf" stroke="#e6e6e6" stroke-width="0.6"/>
<circle cx="370.0" cy="181.1" r="2.2" fill="#bfbfbf" stroke="#e6e6e6" stroke-width="0.6"/>
<circle cx="370.3" cy="180.5" r="2.2" fill="#bfbfbf" stroke="#e6e6e6" stroke-width="0.6"/>
<circle cx="370.6" cy="184.6" r="2.2" fill="#bfbfbf" stroke="#e6e6e6" stroke-width="0.6"/>
<circle cx="370.8" cy="185.7" r="2.2" fill="#bfbfbf" stroke="#e6e6e6" stroke-width="0.6"/>
<circle cx="371.1" cy="178.1" r="2.2" fill="#bfbfbf" stroke="#e6e6e6" stroke-width="0.6"/>
<circle cx="371.4" cy="182.5" r="2.2" fill="#bfbfbf" stroke="#e6e6e6" stroke-width="0.6"/>
<circle cx="371.7" cy="184.7" r="2.2" fill="#bfbfbf" stroke="#e6e6e6" stroke-width="0.6"/>
<circle cx="371.9" cy="179.8" r="2.2" fill="#bfbfbf" stroke="#e6e6e6" stroke-width="0.6"/>
<circle cx="372.2" cy="184.4" r="2.2" fill="#bfbfbf" stroke="#e6e6e6" stroke-width="0.6"/>
<circle cx="372.5" cy="181.7" r="2.2" fill="#bfbfbf" stroke="#e6e6e6" stroke-width="0.6"/>
<circle cx="372.7" cy="186.0" r="2.2" fill="#bfbfbf" stroke="#e6e6e6" stroke-width="0.6"/>
<circle cx="373.0" cy="179.4" r="2.2" fill="#bfbfbf" stroke="#e6e6e6" stroke-width="0.6"/>
<circle cx="373.3" cy="180.5" r="2.2" fill="#bfbfbf" stroke="#e6e6e6" stroke-width="0.6"/>
<circle cx="373.5" cy="184.2" r="2.2" fill="#bfbfbf" stroke="#e6e6e6" stroke-width="0.6"/>
<circle cx="373.8" cy="177.4" r="2.2" fill="#bfbfbf" stroke="#e6e6e6" stroke-width="0.6"/>
<circle cx="374.1" cy="177.6" r="2.2" fill="#bfbfbf" stroke="#e6e6e6" stroke-width="0.6"/>
<circle cx="374.4" cy="186.4" r="2.2" fill="#bfbfbf" stroke="#e6e6e6" stroke-width="0.6"/>
<circle cx="374.6" cy="177.6" r="2.2" fill="#bfbfbf" stroke="#e6e6e6" stroke-width="0.6"/>
<circle cx="374.9" cy="179.6" r="2.2" fill="#bfbfbf" stroke="#e6e6e6" stroke-width="0.6"/>
<circle cx="375.2" cy="186.4" r="2.2" fill="#bfbfbf" stroke="#e6e6e6" stroke-width="0.6"/>
<circle cx="375.4" cy="183.5" r="2.2" fill="#bfbfbf" stroke="#e6e6e6" stroke-width="0.6"/>
<circle cx="375.7" cy="183.9" r="2.2" fill="#bfbfbf" stroke="#e6e6e6" stroke-width="0.6"/>
<circle cx="376.0" cy="187.9" r="2.2" fill="#bfbfbf" stroke="#e6e6e6" stroke-width="0.6"/>
<circle cx="376.2" cy="185.2" r="2.2" fill="#bfbfbf" stroke="#e6e6e6" stroke-width="0.6"/>
<circle cx="376.5" cy="189.1" r="2.2" fill="#bfbfbf" stroke="#e6e6e6" stroke-width="0.6"/>
<circle cx="376.8" cy="187.0" r="2.2" fill="#bfbfbf" stroke="#e6e6e6" stroke-width="0.6"/>
<circle cx="377.1" cy="180.4" r="2.2" fill="#bfbfbf" stroke="#e6e6e6" stroke-width="0.6"/>
<circle cx="377.3" cy="173.7" r="2.2" fill="#bfbfbf" stroke="#e6e6e6" stroke-width="0.6"/>
<circle cx="377.6" cy="178.7" r="2.2" fill="#bfbfbf" stroke="#e6e6e6" stroke-width="0.6"/>
<circle cx="377.9" cy="175.4" r="2.2" fill="#bfbfbf" stroke="#e6e6e6" stroke-width="0.6"/>
<circle cx="378.1" cy="182.7" r="2.2" fill="#bfbfbf" stroke="#e6e6e6" stroke-width="0.6"/>
<circle cx="378.4" cy="178.6" r="2.2" fill="#bfbfbf" stroke="#e6e6e6" stroke-width="0.6"/>
<circle cx="378.7" cy="176.9" r="2.2" fill="#bfbfbf" stroke="#e6e6e6" stroke-width="0.6"/>
<circle cx="378.9" cy="181.6" r="2.2" fill="#bfbfbf" stroke="#e6e6e6" stroke-width="0.6"/>
<circle cx="379.2" cy="175.7" r="2.2" fill="#bfbfbf" stroke="#e6e6e6" stroke-width="0.6"/>
<circle cx="379.5" cy="177.9" r="2.2" fill="#bfbfbf" stroke="#e6e6e6" stroke-width="0.6"/>
<circle cx="379.8" cy="189.4" r="2.2" fill="#bfbfbf" stroke="#e6e6e6" stroke-width="0.6"/>
<circle cx="380.0" cy="180.3" r="2.2" fill="#bfbfbf" stroke="#e6e6e6" stroke-width="0.6"/>
<circle cx="380.3" cy="175.7" r="2.2" fill="#bfbfbf" stroke="#e6e6e6" stroke-width="0.6"/>
<circle cx="380.6" cy="184.7" r="2.2" fill="#bfbfbf" stroke="#e6e6e6" stroke-width="0.6"/>
<circle cx="380.8" cy="181.9" r="2.2" fill="#bfbfbf" stroke="#e6e6e6" stroke-width="0.6"/>
<circle cx="381.1" cy="182.0" r="2.2" fill="#bfbfbf" stroke="#e6e6e6" stroke-width="0.6"/>
<circle cx="381.4" cy="178.8" r="2.2" fill="#bfbfbf" stroke="#e6e6e6" stroke-width="0.6"/>
<circle cx="381.6" cy="178.3" r="2.2" fill="#bfbfbf" stroke="#e6e6e6" stroke-width="0.6"/>
<circle cx="381.9" cy="177.3" r="2.2" fill="#bfbfbf" stroke="#e6e6e6" stroke-width="0.6"/>
<circle cx="382.2" cy="175.8" r="2.2" fill="#bfbfbf" stroke="#e6e6e6" stroke-width="0.6"/>
<circle cx="382.5" cy="183.6" r="2.2" fill="#bfbfbf" stroke="#e6e6e6" stroke-width="0.6"/>
<circle cx="382.7" cy="177.5" r="2.2" fill="#bfbfbf" stroke="#e6e6e6" stroke-width="0.6"/>
<circle cx="383.0" cy="182.7" r="2.2" fill="#bfbfbf" stroke="#e6e6e6" stroke-width="0.6"/>
<circle cx="383.3" cy="180.5" r="2.2" fill="#bfbfbf" stroke="#e6e6e6" stroke-width="0.6"/>
<circle cx="383.5" cy="178.8" r="2.2" fill="#bfbfbf" stroke="#e6e6e6" stroke-width="0.6"/>
<circle cx="383.8" cy="173.7" r="2.2" fill="#bfbfbf" stroke="#e6e6e6" stroke-width="0.6"/>
<circle cx="384.1" cy="183.1" r="2.2" fill="#bfbfbf" stroke="#e6e6e6" stroke-width="0.6"/>
<circle cx="384.3" cy="182.3" r="2.2" fill="#bfbfbf" stroke="#e6e6e6" stroke-width="0.6"/>
<circle cx="384.6" cy="182.3" r="2.2" fill="#bfbfbf" stroke="#e6e6e6" stroke-width="0.6"/>
<circle cx="384.9" cy="184.6" r="2.2" fill="#bfbfbf" stroke="#e6e6e6" stroke-width="0.6"/>
<circle cx="385.2" cy="187.9" r="2.2" fill="#bfbfbf" stroke="#e6e6e6" stroke-width="0.6"/>
<circle cx="385.4" cy="185.8" r="2.2" fill="#bfbfbf" stroke="#e6e6e6" stroke-width="0.6"/>
<circle cx="385.7" cy="164.8" r="2.2" fill="#bfbfbf" stroke="#e6e6e6" stroke-width="0.6"/>
<circle cx="386.0" cy="179.2" r="2.2" fill="#bfbfbf" stroke="#e6e6e6" stroke-width="0.6"/>
<circle cx="386.2" cy="178.3" r="2.2" fill="#bfbfbf" stroke="#e6e6e6" stroke-width="0.6"/>
<circle cx="386.5" cy="173.7" r="2.2" fill="#bfbfbf" stroke="#e6e6e6" stroke-width="0.6"/>
<circle cx="386.8" cy="182.1" r="2.2" fill="#bfbfbf" stroke="#e6e6e6" stroke-width="0.6"/>
<circle cx="387.0" cy="178.7" r="2.2" fill="#bfbfbf" stroke="#e6e6e6" stroke-width="0.6"/>
<circle cx="387.3" cy="176.6" r="2.2" fill="#bfbfbf" stroke="#e6e6e6" stroke-width="0.6"/>
<circle cx="387.6" cy="178.3" r="2.2" fill="#bfbfbf" stroke="#e6e6e6" stroke-width="0.6"/>
<circle cx="387.9" cy="190.5" r="2.2" fill="#bfbfbf" stroke="#e6e6e6" stroke-width="0.6"/>
<circle cx="388.1" cy="178.7" r="2.2" fill="#bfbfbf" stroke="#e6e6e6" stroke-width="0.6"/>
<circle cx="388.4" cy="186.2" r="2.2" fill="#bfbfbf" stroke="#e6e6e6" stroke-width="0.6"/>
<circle cx="388.7" cy="187.8" r="2.2" fill="#bfbfbf" stroke="#e6e6e6" stroke-width="0.6"/>
<circle cx="388.9" cy="182.0" r="2.2" fill="#bfbfbf" stroke="#e6e6e6" stroke-width="0.6"/>
<circle cx="389.2" cy="184.9" r="2.2" fill="#bfbfbf" stroke="#e6e6e6" stroke-width="0.6"/>
<circle cx="389.5" cy="177.3" r="2.2" fill="#bfbfbf" stroke="#e6e6e6" stroke-width="0.6"/>
<circle cx="389.7" cy="180.2" r="2.2" fill="#bfbfbf" stroke="#e6e6e6" stroke-width="0.6"/>
<circle cx="390.0" cy="182.2" r="2.2" fill="#bfbfbf" stroke="#e6e6e6" stroke-width="0.6"/>
<circle cx="390.3" cy="177.6" r="2.2" fill="#bfbfbf" stroke="#e6e6e6" stroke-width="0.6"/>
<circle cx="390.6" cy="177.8" r="2.2" fill="#bfbfbf" stroke="#e6e6e6" stroke-width="0.6"/>
<circle cx="390.8" cy="190.0" r="2.2" fill="#bfbfbf" stroke="#e6e6e6" stroke-width="0.6"/>
<circle cx="391.1" cy="186.7" r="2.2" fill="#bfbfbf" stroke="#e6e6e6" stroke-width="0.6"/>
<circle cx="391.4" cy="181.4" r="2.2" fill="#bfbfbf" stroke="#e6e6e6" stroke-width="0.6"/>
<circle cx="391.6" cy="177.2" r="2.2" fill="#bfbfbf" stroke="#e6e6e6" stroke-width="0.6"/>
<circle cx="391.9" cy="182.2" r="2.2" fill="#bfbfbf" stroke="#e6e6e6" stroke-width="0.6"/>
<circle cx="392.2" cy="177.3" r="2.2" fill="#bfbfbf" stroke="#e6e6e6" stroke-width="0.6"/>
<circle cx="392.4" cy="180.7" r="2.2" fill="#bfbfbf" stroke="#e6e6e6" stroke-width="0.6"/>
<circle cx="392.7" cy="181.8" r="2.2" fill="#bfbfbf" stroke="#e6e6e6" stroke-width="0.6"/>
<circle cx="393.0" cy="182.3" r="2.2" fill="#bfbfbf" stroke="#e6e6e6" stroke-width="0.6"/>
<circle cx="393.3" cy="179.0" r="2.2" fill="#bfbfbf" stroke="#e6e6e6" stroke-width="0.6"/>
<circle cx="393.5" cy="184.9" r="2.2" fill="#bfbfbf" stroke="#e6e6e6" stroke-width="0.6"/>
<circle cx="393.8" cy="187.2" r="2.2" fill="#bfbfbf" stroke="#e6e6e6" stroke-width="0.6"/>
<circle cx="394.1" cy="180.1" r="2.2" fill="#bfbfbf" stroke="#e6e6e6" stroke-width="0.6"/>
<circle cx="394.3" cy="182.5" r="2.2" fill="#bfbfbf" stroke="#e6e6e6" stroke-width="0.6"/>
<circle cx="394.6" cy="179.6" r="2.2" fill="#bfbfbf" stroke="#e6e6e6" stroke-width="0.6"/>
<circle cx="394.9" cy="182.5" r="2.2" fill="#bfbfbf" stroke="#e6e6e6" stroke-width="0.6"/>
<circle cx="395.1" cy="187.4" r="2.2" fill="#bfbfbf" stroke="#e6e6e6" stroke-width="0.6"/>
<circle cx="395.4" cy="179.4" r="2.2" fill="#bfbfbf" stroke="#e6e6e6" stroke-width="0.6"/>
<circle cx="395.7" cy="178.7" r="2.2" fill="#bfbfbf" stroke="#e6e6e6" stroke-width="0.6"/>
<circle cx="396.0" cy="180.9" r="2.2" fill="#bfbfbf" stroke="#e6e6e6" stroke-width="0.6"/>
<circle cx="396.2" cy="180.3" r="2.2" fill="#bfbfbf" stroke="#e6e6e6" stroke-width="0.6"/>
<circle cx="396.5" cy="182.6" r="2.2" fill="#bfbfbf" stroke="#e6e6e6" stroke-width="0.6"/>
<circle cx="396.8" cy="182.0" r="2.2" fill="#bfbfbf" stroke="#e6e6e6" stroke-width="0.6"/>
<circle cx="397.0" cy="166.5" r="2.2" fill="#bfbfbf" stroke="#e6e6e6" stroke-width="0.6"/>
<circle cx="397.3" cy="173.9" r="2.2" fill="#bfbfbf" stroke="#e6e6e6" stroke-width="0.6"/>
<circle cx="397.6" cy="186.6" r="2.2" fill="#bfbfbf" stroke="#e6e6e6" stroke-width="0.6"/>
<circle cx="397.8" cy="180.2" r="2.2" fill="#bfbfbf" stroke="#e6e6e6" stroke-width="0.6"/>
<circle cx="398.1" cy="181.3" r="2.2" fill="#bfbfbf" stroke="#e6e6e6" stroke-width="0.6"/>
<circle cx="398.4" cy="179.4" r="2.2" fill="#bfbfbf" stroke="#e6e6e6" stroke-width="0.6"/>
<circle cx="398.7" cy="186.8" r="2.2" fill="#bfbfbf" stroke="#e6e6e6" stroke-width="0.6"/>
<circle cx="398.9" cy="185.9" r="2.2" fill="#bfbfbf" stroke="#e6e6e6" stroke-width="0.6"/>
<circle cx="399.2" cy="174.5" r="2.2" fill="#bfbfbf" stroke="#e6e6e6" stroke-width="0.6"/>
<circle cx="399.5" cy="185.3" r="2.2" fill="#bfbfbf" stroke="#e6e6e6" stroke-width="0.6"/>
<circle cx="399.7" cy="179.0" r="2.2" fill="#bfbfbf" stroke="#e6e6e6" stroke-width="0.6"/>
<circle cx="400.0" cy="188.8" r="2.2" fill="#bfbfbf" stroke="#e6e6e6" stroke-width="0.6"/>
<circle cx="400.3" cy="180.6" r="2.2" fill="#bfbfbf" stroke="#e6e6e6" stroke-width="0.6"/>
<circle cx="400.5" cy="186.4" r="2.2" fill="#bfbfbf" stroke="#e6e6e6" stroke-width="0.6"/>
<circle cx="400.8" cy="180.2" r="2.2" fill="#bfbfbf" stroke="#e6e6e6" stroke-width="0.6"/>
<circle cx="401.1" cy="183.5" r="2.2" fill="#bfbfbf" stroke="#e6e6e6" stroke-width="0.6"/>
<circle cx="401.4" cy="181.2" r="2.2" fill="#bfbfbf" stroke="#e6e6e6" stroke-width="0.6"/>
<circle cx="401.6" cy="176.3" r="2.2" fill="#bfbfbf" stroke="#e6e6e6" stroke-width="0.6"/>
<circle cx="401.9" cy="183.5" r="2.2" fill="#bfbfbf" stroke="#e6e6e6" stroke-width="0.6"/>
<circle cx="402.2" cy="177.0" r="2.2" fill="#bfbfbf" stroke="#e6e6e6" stroke-width="0.6"/>
<circle cx="402.4" cy="180.5" r="2.2" fill="#bfbfbf" stroke="#e6e6e6" stroke-width="0.6"/>
<circle cx="402.7" cy="185.7" r="2.2" fill="#bfbfbf" stroke="#e6e6e6" stroke-width="0.6"/>
<circle cx="403.0" cy="193.8" r="2.2" fill="#bfbfbf" stroke="#e6e6e6" stroke-width="0.6"/>
<circle cx="403.2" cy="179.4" r="2.2" fill="#bfbfbf" stroke="#e6e6e6" stroke-width="0.6"/>
<circle cx="403.5" cy="167.4" r="2.2" fill="#bfbfbf" stroke="#e6e6e6" stroke-width="0.6"/>
<circle cx="403.8" cy="181.2" r="2.2" fill="#bfbfbf" stroke="#e6e6e6" stroke-width="0.6"/>
<circle cx="404.1" cy="184.5" r="2.2" fill="#bfbfbf" stroke="#e6e6e6" stroke-width="0.6"/>
<circle cx="404.3" cy="182.8" r="2.2" fill="#bfbfbf" stroke="#e6e6e6" stroke-width="0.6"/>
<circle cx="404.6" cy="188.0" r="2.2" fill="#bfbfbf" stroke="#e6e6e6" stroke-width="0.6"/>
<circle cx="404.9" cy="180.0" r="2.2" fill="#bfbfbf" stroke="#e6e6e6" stroke-width="0.6"/>
<circle cx="405.1" cy="188.7" r="2.2" fill="#bfbfbf" stroke="#e6e6e6" stroke-width="0.6"/>
<circle cx="405.4" cy="185.1" r="2.2" fill="#bfbfbf" stroke="#e6e6e6" stroke-width="0.6"/>
<circle cx="405.7" cy="182.7" r="2.2" fill="#bfbfbf" stroke="#e6e6e6" stroke-width="0.6"/>
<circle cx="405.9" cy="182.3" r="2.2" fill="#bfbfbf" stroke="#e6e6e6" stroke-width="0.6"/>
<circle cx="406.2" cy="184.1" r="2.2" fill="#bfbfbf" stroke="#e6e6e6" stroke-width="0.6"/>
<circle cx="406.5" cy="185.5" r="2.2" fill="#bfbfbf" stroke="#e6e6e6" stroke-width="0.6"/>
<circle cx="406.8" cy="180.7" r="2.2" fill="#bfbfbf" stroke="#e6e6e6" stroke-width="0.6"/>
<circle cx="407.0" cy="180.1" r="2.2" fill="#bfbfbf" stroke="#e6e6e6" stroke-width="0.6"/>
<circle cx="407.3" cy="180.8" r="2.2" fill="#bfbfbf" stroke="#e6e6e6" stroke-width="0.6"/>
<circle cx="407.6" cy="180.3" r="2.2" fill="#bfbfbf" stroke="#e6e6e6" stroke-width="0.6"/>
<circle cx="407.8" cy="185.8" r="2.2" fill="#bfbfbf" stroke="#e6e6e6" stroke-width="0.6"/>
<circle cx="408.1" cy="184.8" r="2.2" fill="#bfbfbf" stroke="#e6e6e6" stroke-width="0.6"/>
<circle cx="408.4" cy="175.0" r="2.2" fill="#bfbfbf" stroke="#e6e6e6" stroke-width="0.6"/>
<circle cx="408.6" cy="179.8" r="2.2" fill="#bfbfbf" stroke="#e6e6e6" stroke-width="0.6"/>
<circle cx="408.9" cy="177.0" r="2.2" fill="#bfbfbf" stroke="#e6e6e6" stroke-width="0.6"/>
<circle cx="409.2" cy="181.0" r="2.2" fill="#bfbfbf" stroke="#e6e6e6" stroke-width="0.6"/>
<circle cx="409.5" cy="180.2" r="2.2" fill="#bfbfbf" stroke="#e6e6e6" stroke-width="0.6"/>
<circle cx="409.7" cy="178.8" r="2.2" fill="#bfbfbf" stroke="#e6e6e6" stroke-width="0.6"/>
<circle cx="410.0" cy="184.4" r="2.2" fill="#bfbfbf" stroke="#e6e6e6" stroke-width="0.6"/>
<circle cx="410.3" cy="180.1" r="2.2" fill="#bfbfbf" stroke="#e6e6e6" stroke-width="0.6"/>
<circle cx="410.5" cy="182.7" r="2.2" fill="#bfbfbf" stroke="#e6e6e6" stroke-width="0.6"/>
<circle cx="410.8" cy="180.9" r="2.2" fill="#bfbfbf" stroke="#e6e6e6" stroke-width="0.6"/>
<circle cx="196.0" cy="148.0" r="2.2" fill="#bfbfbf" stroke="#e6e6e6" stroke-width="0.6"/>
<circle cx="211.0" cy="156.0" r="2.2" fill="#bfbfbf" stroke="#e6e6e6" stroke-width="0.6"/>
<circle cx="246.0" cy="157.0" r="2.2" fill="#bfbfbf" stroke="#e6e6e6" stroke-width="0.6"/>
<circle cx="129.0" cy="131.0" r="2.2" fill="#bfbfbf" stroke="#e6e6e6" stroke-width="0.6"/>
<circle cx="136.0" cy="135.0" r="2.2" fill="#bfbfbf" stroke="#e6e6e6" stroke-width="0.6"/>
<circle cx="78.5" cy="13.7" r="2.65" fill="#fff" stroke="#707070" stroke-width="0.85"/>
<circle cx="79.7" cy="13.0" r="2.65" fill="#fff" stroke="#707070" stroke-width="0.85"/>
<circle cx="77.7" cy="19.0" r="2.65" fill="#fff" stroke="#707070" stroke-width="0.85"/>
<circle cx="78.7" cy="16.5" r="2.65" fill="#fff" stroke="#707070" stroke-width="0.85"/>
<circle cx="77.5" cy="21.5" r="2.65" fill="#fff" stroke="#707070" stroke-width="0.85"/>
<circle cx="79.3" cy="27.3" r="2.65" fill="#fff" stroke="#707070" stroke-width="0.85"/>
<circle cx="78.2" cy="24.5" r="2.65" fill="#fff" stroke="#707070" stroke-width="0.85"/>
<circle cx="77.3" cy="32.8" r="2.65" fill="#fff" stroke="#707070" stroke-width="0.85"/>
<circle cx="76.5" cy="36.0" r="2.65" fill="#fff" stroke="#707070" stroke-width="0.85"/>
<circle cx="76.0" cy="38.8" r="2.65" fill="#fff" stroke="#707070" stroke-width="0.85"/>
<circle cx="77.8" cy="42.5" r="2.65" fill="#fff" stroke="#707070" stroke-width="0.85"/>
<circle cx="77.3" cy="46.0" r="2.65" fill="#fff" stroke="#707070" stroke-width="0.85"/>
<circle cx="77.0" cy="50.0" r="2.65" fill="#fff" stroke="#707070" stroke-width="0.85"/>
<circle cx="75.5" cy="53.5" r="2.65" fill="#fff" stroke="#707070" stroke-width="0.85"/>
<circle cx="76.3" cy="51.0" r="2.65" fill="#fff" stroke="#707070" stroke-width="0.85"/>
<circle cx="77.0" cy="58.5" r="2.65" fill="#fff" stroke="#707070" stroke-width="0.85"/>
<circle cx="76.0" cy="57.5" r="2.65" fill="#fff" stroke="#707070" stroke-width="0.85"/>
<circle cx="76.0" cy="87.5" r="2.65" fill="#fff" stroke="#707070" stroke-width="0.85"/>
<circle cx="148.8" cy="166.8" r="2.65" fill="#fff" stroke="#707070" stroke-width="0.85"/>
<circle cx="113.9" cy="143.7" r="2.65" fill="#fff" stroke="#707070" stroke-width="0.85"/>
<circle cx="160.6" cy="166.6" r="2.65" fill="#fff" stroke="#707070" stroke-width="0.85"/>
<circle cx="137.4" cy="159.2" r="2.65" fill="#fff" stroke="#707070" stroke-width="0.85"/>
<circle cx="126.3" cy="155.6" r="2.65" fill="#fff" stroke="#707070" stroke-width="0.85"/>
<circle cx="113.6" cy="151.1" r="2.65" fill="#fff" stroke="#707070" stroke-width="0.85"/>
<circle cx="153.4" cy="158.8" r="2.65" fill="#fff" stroke="#707070" stroke-width="0.85"/>
<circle cx="129.9" cy="153.9" r="2.65" fill="#fff" stroke="#707070" stroke-width="0.85"/>
<circle cx="139.2" cy="155.2" r="2.65" fill="#fff" stroke="#707070" stroke-width="0.85"/>
<circle cx="122.3" cy="149.5" r="2.65" fill="#fff" stroke="#707070" stroke-width="0.85"/>
<circle cx="144.2" cy="158.9" r="2.65" fill="#fff" stroke="#707070" stroke-width="0.85"/>
<circle cx="133.1" cy="151.6" r="2.65" fill="#fff" stroke="#707070" stroke-width="0.85"/>
<circle cx="154.7" cy="158.0" r="2.65" fill="#fff" stroke="#707070" stroke-width="0.85"/>
<circle cx="147.3" cy="162.0" r="2.65" fill="#fff" stroke="#707070" stroke-width="0.85"/>
<circle cx="150.3" cy="160.4" r="2.65" fill="#fff" stroke="#707070" stroke-width="0.85"/>
<circle cx="125.3" cy="155.0" r="2.65" fill="#fff" stroke="#707070" stroke-width="0.85"/>
<circle cx="115.4" cy="142.1" r="2.65" fill="#fff" stroke="#707070" stroke-width="0.85"/>
<circle cx="158.6" cy="159.8" r="2.65" fill="#fff" stroke="#707070" stroke-width="0.85"/>
<circle cx="161.6" cy="161.3" r="2.65" fill="#fff" stroke="#707070" stroke-width="0.85"/>
<circle cx="146.1" cy="159.8" r="2.65" fill="#fff" stroke="#707070" stroke-width="0.85"/>
<circle cx="160.9" cy="161.0" r="2.65" fill="#fff" stroke="#707070" stroke-width="0.85"/>
<circle cx="149.4" cy="163.7" r="2.65" fill="#fff" stroke="#707070" stroke-width="0.85"/>
<circle cx="144.1" cy="159.0" r="2.65" fill="#fff" stroke="#707070" stroke-width="0.85"/>
<circle cx="134.2" cy="157.0" r="2.65" fill="#fff" stroke="#707070" stroke-width="0.85"/>
<circle cx="130.8" cy="156.2" r="2.65" fill="#fff" stroke="#707070" stroke-width="0.85"/>
<circle cx="138.0" cy="160.3" r="2.65" fill="#fff" stroke="#707070" stroke-width="0.85"/>
<circle cx="123.8" cy="151.2" r="2.65" fill="#fff" stroke="#707070" stroke-width="0.85"/>
<circle cx="134.7" cy="161.0" r="2.65" fill="#fff" stroke="#707070" stroke-width="0.85"/>
<circle cx="138.9" cy="159.6" r="2.65" fill="#fff" stroke="#707070" stroke-width="0.85"/>
<circle cx="113.7" cy="148.4" r="2.65" fill="#fff" stroke="#707070" stroke-width="0.85"/>
<circle cx="132.9" cy="156.8" r="2.65" fill="#fff" stroke="#707070" stroke-width="0.85"/>
<circle cx="127.1" cy="156.4" r="2.65" fill="#fff" stroke="#707070" stroke-width="0.85"/>
<circle cx="145.6" cy="163.1" r="2.65" fill="#fff" stroke="#707070" stroke-width="0.85"/>
<circle cx="155.0" cy="165.0" r="2.65" fill="#fff" stroke="#707070" stroke-width="0.85"/>
<circle cx="144.6" cy="160.6" r="2.65" fill="#fff" stroke="#707070" stroke-width="0.85"/>
<circle cx="147.2" cy="163.0" r="2.65" fill="#fff" stroke="#707070" stroke-width="0.85"/>
<circle cx="144.5" cy="159.7" r="2.65" fill="#fff" stroke="#707070" stroke-width="0.85"/>
<circle cx="125.6" cy="158.2" r="2.65" fill="#fff" stroke="#707070" stroke-width="0.85"/>
<circle cx="131.9" cy="156.4" r="2.65" fill="#fff" stroke="#707070" stroke-width="0.85"/>
<circle cx="156.7" cy="154.8" r="2.65" fill="#fff" stroke="#707070" stroke-width="0.85"/>
<circle cx="162.1" cy="168.0" r="2.65" fill="#fff" stroke="#707070" stroke-width="0.85"/>
<circle cx="121.6" cy="152.2" r="2.65" fill="#fff" stroke="#707070" stroke-width="0.85"/>
<circle cx="112.6" cy="143.2" r="2.65" fill="#fff" stroke="#707070" stroke-width="0.85"/>
<circle cx="163.0" cy="162.8" r="2.65" fill="#fff" stroke="#707070" stroke-width="0.85"/>
<circle cx="212.8" cy="179.9" r="2.65" fill="#fff" stroke="#707070" stroke-width="0.85"/>
<circle cx="176.4" cy="170.5" r="2.65" fill="#fff" stroke="#707070" stroke-width="0.85"/>
<circle cx="196.1" cy="174.1" r="2.65" fill="#fff" stroke="#707070" stroke-width="0.85"/>
<circle cx="178.2" cy="161.9" r="2.65" fill="#fff" stroke="#707070" stroke-width="0.85"/>
<circle cx="205.8" cy="180.3" r="2.65" fill="#fff" stroke="#707070" stroke-width="0.85"/>
<circle cx="175.0" cy="180.4" r="2.65" fill="#fff" stroke="#707070" stroke-width="0.85"/>
<circle cx="186.0" cy="164.7" r="2.65" fill="#fff" stroke="#707070" stroke-width="0.85"/>
<circle cx="176.0" cy="178.1" r="2.65" fill="#fff" stroke="#707070" stroke-width="0.85"/>
<circle cx="208.0" cy="175.8" r="2.65" fill="#fff" stroke="#707070" stroke-width="0.85"/>
<circle cx="196.0" cy="187.9" r="2.65" fill="#fff" stroke="#707070" stroke-width="0.85"/>
<circle cx="239.4" cy="181.3" r="2.65" fill="#fff" stroke="#707070" stroke-width="0.85"/>
<circle cx="258.6" cy="188.9" r="2.65" fill="#fff" stroke="#707070" stroke-width="0.85"/>
<circle cx="254.0" cy="188.7" r="2.65" fill="#fff" stroke="#707070" stroke-width="0.85"/>
<circle cx="262.9" cy="180.8" r="2.65" fill="#fff" stroke="#707070" stroke-width="0.85"/>
<circle cx="293.3" cy="189.2" r="2.65" fill="#fff" stroke="#707070" stroke-width="0.85"/>
<circle cx="283.9" cy="181.8" r="2.65" fill="#fff" stroke="#707070" stroke-width="0.85"/>
<circle cx="250.3" cy="183.7" r="2.65" fill="#fff" stroke="#707070" stroke-width="0.85"/>
<circle cx="284.5" cy="186.0" r="2.65" fill="#fff" stroke="#707070" stroke-width="0.85"/>
<circle cx="288.1" cy="183.3" r="2.65" fill="#fff" stroke="#707070" stroke-width="0.85"/>
<circle cx="280.8" cy="192.9" r="2.65" fill="#fff" stroke="#707070" stroke-width="0.85"/>
<circle cx="261.9" cy="183.1" r="2.65" fill="#fff" stroke="#707070" stroke-width="0.85"/>
<circle cx="291.4" cy="176.6" r="2.65" fill="#fff" stroke="#707070" stroke-width="0.85"/>
<circle cx="256.8" cy="187.9" r="2.65" fill="#fff" stroke="#707070" stroke-width="0.85"/>
<circle cx="224.0" cy="180.1" r="2.65" fill="#fff" stroke="#707070" stroke-width="0.85"/>
<circle cx="238.1" cy="180.6" r="2.65" fill="#fff" stroke="#707070" stroke-width="0.85"/>
<circle cx="270.9" cy="168.5" r="2.65" fill="#fff" stroke="#707070" stroke-width="0.85"/>
<circle cx="247.2" cy="186.5" r="2.65" fill="#fff" stroke="#707070" stroke-width="0.85"/>
<circle cx="250.9" cy="185.7" r="2.65" fill="#fff" stroke="#707070" stroke-width="0.85"/>
<circle cx="249.2" cy="185.6" r="2.65" fill="#fff" stroke="#707070" stroke-width="0.85"/>
<circle cx="231.3" cy="186.4" r="2.65" fill="#fff" stroke="#707070" stroke-width="0.85"/>
<circle cx="223.0" cy="189.6" r="2.65" fill="#fff" stroke="#707070" stroke-width="0.85"/>
<circle cx="219.2" cy="181.8" r="2.65" fill="#fff" stroke="#707070" stroke-width="0.85"/>
<circle cx="272.2" cy="186.2" r="2.65" fill="#fff" stroke="#707070" stroke-width="0.85"/>
<circle cx="242.5" cy="178.7" r="2.65" fill="#fff" stroke="#707070" stroke-width="0.85"/>
<circle cx="253.8" cy="180.4" r="2.65" fill="#fff" stroke="#707070" stroke-width="0.85"/>
<circle cx="294.5" cy="186.8" r="2.65" fill="#fff" stroke="#707070" stroke-width="0.85"/>
<circle cx="268.3" cy="183.8" r="2.65" fill="#fff" stroke="#707070" stroke-width="0.85"/>
<circle cx="283.9" cy="176.0" r="2.65" fill="#fff" stroke="#707070" stroke-width="0.85"/>
<circle cx="279.8" cy="183.6" r="2.65" fill="#fff" stroke="#707070" stroke-width="0.85"/>
<circle cx="296.1" cy="181.2" r="2.65" fill="#fff" stroke="#707070" stroke-width="0.85"/>
<circle cx="220.7" cy="178.3" r="2.65" fill="#fff" stroke="#707070" stroke-width="0.85"/>
<circle cx="247.7" cy="184.0" r="2.65" fill="#fff" stroke="#707070" stroke-width="0.85"/>
<circle cx="295.7" cy="180.2" r="2.65" fill="#fff" stroke="#707070" stroke-width="0.85"/>
<circle cx="254.5" cy="174.9" r="2.65" fill="#fff" stroke="#707070" stroke-width="0.85"/>
<circle cx="295.6" cy="177.0" r="2.65" fill="#fff" stroke="#707070" stroke-width="0.85"/>
<circle cx="230.7" cy="190.0" r="2.65" fill="#fff" stroke="#707070" stroke-width="0.85"/>
<circle cx="220.1" cy="175.2" r="2.65" fill="#fff" stroke="#707070" stroke-width="0.85"/>
<circle cx="291.1" cy="183.0" r="2.65" fill="#fff" stroke="#707070" stroke-width="0.85"/>
<circle cx="250.0" cy="184.7" r="2.65" fill="#fff" stroke="#707070" stroke-width="0.85"/>
<circle cx="258.2" cy="184.9" r="2.65" fill="#fff" stroke="#707070" stroke-width="0.85"/>
<circle cx="294.6" cy="176.5" r="2.65" fill="#fff" stroke="#707070" stroke-width="0.85"/>
<circle cx="233.7" cy="180.6" r="2.65" fill="#fff" stroke="#707070" stroke-width="0.85"/>
<circle cx="397.9" cy="189.4" r="2.65" fill="#fff" stroke="#707070" stroke-width="0.85"/>
<circle cx="334.8" cy="186.1" r="2.65" fill="#fff" stroke="#707070" stroke-width="0.85"/>
<circle cx="313.3" cy="174.3" r="2.65" fill="#fff" stroke="#707070" stroke-width="0.85"/>
<circle cx="366.2" cy="186.3" r="2.65" fill="#fff" stroke="#707070" stroke-width="0.85"/>
<circle cx="393.8" cy="178.6" r="2.65" fill="#fff" stroke="#707070" stroke-width="0.85"/>
<circle cx="366.5" cy="179.7" r="2.65" fill="#fff" stroke="#707070" stroke-width="0.85"/>
<circle cx="316.8" cy="185.2" r="2.65" fill="#fff" stroke="#707070" stroke-width="0.85"/>
<circle cx="345.0" cy="181.7" r="2.65" fill="#fff" stroke="#707070" stroke-width="0.85"/>
<circle cx="329.6" cy="186.8" r="2.65" fill="#fff" stroke="#707070" stroke-width="0.85"/>
<circle cx="301.8" cy="197.8" r="2.65" fill="#fff" stroke="#707070" stroke-width="0.85"/>
<circle cx="407.2" cy="188.8" r="2.65" fill="#fff" stroke="#707070" stroke-width="0.85"/>
<circle cx="351.0" cy="187.0" r="2.65" fill="#fff" stroke="#707070" stroke-width="0.85"/>
<circle cx="315.0" cy="177.9" r="2.65" fill="#fff" stroke="#707070" stroke-width="0.85"/>
<circle cx="398.2" cy="181.4" r="2.65" fill="#fff" stroke="#707070" stroke-width="0.85"/>
<circle cx="409.3" cy="179.6" r="2.65" fill="#fff" stroke="#707070" stroke-width="0.85"/>
<circle cx="390.6" cy="181.8" r="2.65" fill="#fff" stroke="#707070" stroke-width="0.85"/>
<circle cx="328.2" cy="177.3" r="2.65" fill="#fff" stroke="#707070" stroke-width="0.85"/>
<circle cx="321.2" cy="179.3" r="2.65" fill="#fff" stroke="#707070" stroke-width="0.85"/>
<circle cx="358.3" cy="182.5" r="2.65" fill="#fff" stroke="#707070" stroke-width="0.85"/>
<circle cx="364.8" cy="178.7" r="2.65" fill="#fff" stroke="#707070" stroke-width="0.85"/>
<circle cx="397.5" cy="177.5" r="2.65" fill="#fff" stroke="#707070" stroke-width="0.85"/>
<circle cx="407.4" cy="178.1" r="2.65" fill="#fff" stroke="#707070" stroke-width="0.85"/>
<circle cx="401.1" cy="187.0" r="2.65" fill="#fff" stroke="#707070" stroke-width="0.85"/>
<circle cx="338.0" cy="183.3" r="2.65" fill="#fff" stroke="#707070" stroke-width="0.85"/>
<circle cx="365.0" cy="188.9" r="2.65" fill="#fff" stroke="#707070" stroke-width="0.85"/>
<circle cx="313.7" cy="187.6" r="2.65" fill="#fff" stroke="#707070" stroke-width="0.85"/>
<circle cx="357.6" cy="181.9" r="2.65" fill="#fff" stroke="#707070" stroke-width="0.85"/>
<circle cx="307.9" cy="185.6" r="2.65" fill="#fff" stroke="#707070" stroke-width="0.85"/>
<circle cx="312.4" cy="175.1" r="2.65" fill="#fff" stroke="#707070" stroke-width="0.85"/>
<circle cx="313.5" cy="193.8" r="2.65" fill="#fff" stroke="#707070" stroke-width="0.85"/>
<circle cx="333.5" cy="188.9" r="2.65" fill="#fff" stroke="#707070" stroke-width="0.85"/>
<circle cx="334.4" cy="181.9" r="2.65" fill="#fff" stroke="#707070" stroke-width="0.85"/>
<circle cx="378.3" cy="178.3" r="2.65" fill="#fff" stroke="#707070" stroke-width="0.85"/>
<circle cx="308.4" cy="184.1" r="2.65" fill="#fff" stroke="#707070" stroke-width="0.85"/>
<circle cx="312.3" cy="173.0" r="2.65" fill="#fff" stroke="#707070" stroke-width="0.85"/>
<circle cx="372.9" cy="180.1" r="2.65" fill="#fff" stroke="#707070" stroke-width="0.85"/>
<circle cx="374.7" cy="187.8" r="2.65" fill="#fff" stroke="#707070" stroke-width="0.85"/>
<circle cx="378.9" cy="184.5" r="2.65" fill="#fff" stroke="#707070" stroke-width="0.85"/>
<circle cx="379.9" cy="181.7" r="2.65" fill="#fff" stroke="#707070" stroke-width="0.85"/>
<circle cx="373.6" cy="188.7" r="2.65" fill="#fff" stroke="#707070" stroke-width="0.85"/>
<circle cx="361.3" cy="178.5" r="2.65" fill="#fff" stroke="#707070" stroke-width="0.85"/>
<circle cx="382.3" cy="185.6" r="2.65" fill="#fff" stroke="#707070" stroke-width="0.85"/>
<circle cx="309.0" cy="179.8" r="2.65" fill="#fff" stroke="#707070" stroke-width="0.85"/>
<circle cx="323.5" cy="178.4" r="2.65" fill="#fff" stroke="#707070" stroke-width="0.85"/>
<circle cx="382.3" cy="186.5" r="2.65" fill="#fff" stroke="#707070" stroke-width="0.85"/>
<circle cx="321.4" cy="177.6" r="2.65" fill="#fff" stroke="#707070" stroke-width="0.85"/>
<circle cx="358.9" cy="193.1" r="2.65" fill="#fff" stroke="#707070" stroke-width="0.85"/>
<circle cx="328.9" cy="179.9" r="2.65" fill="#fff" stroke="#707070" stroke-width="0.85"/>
<circle cx="347.9" cy="193.2" r="2.65" fill="#fff" stroke="#707070" stroke-width="0.85"/>
<circle cx="392.6" cy="179.0" r="2.65" fill="#fff" stroke="#707070" stroke-width="0.85"/>
<circle cx="373.3" cy="187.0" r="2.65" fill="#fff" stroke="#707070" stroke-width="0.85"/>
<circle cx="349.4" cy="177.3" r="2.65" fill="#fff" stroke="#707070" stroke-width="0.85"/>
<circle cx="330.4" cy="176.1" r="2.65" fill="#fff" stroke="#707070" stroke-width="0.85"/>
<circle cx="389.4" cy="185.2" r="2.65" fill="#fff" stroke="#707070" stroke-width="0.85"/>
<circle cx="372.9" cy="187.4" r="2.65" fill="#fff" stroke="#707070" stroke-width="0.85"/>
<circle cx="348.8" cy="176.9" r="2.65" fill="#fff" stroke="#707070" stroke-width="0.85"/>
<circle cx="396.5" cy="190.5" r="2.65" fill="#fff" stroke="#707070" stroke-width="0.85"/>
<circle cx="376.9" cy="180.1" r="2.65" fill="#fff" stroke="#707070" stroke-width="0.85"/>
<circle cx="408.8" cy="185.6" r="2.65" fill="#fff" stroke="#707070" stroke-width="0.85"/>
<circle cx="373.7" cy="185.9" r="2.65" fill="#fff" stroke="#707070" stroke-width="0.85"/>
<circle cx="399.9" cy="187.7" r="2.65" fill="#fff" stroke="#707070" stroke-width="0.85"/>
<circle cx="361.1" cy="174.7" r="2.65" fill="#fff" stroke="#707070" stroke-width="0.85"/>
<path d="M131.7 172.1L134.0 174.3L131.7 176.6L129.5 174.3Z" fill="#555555" stroke="#a0a0a0" stroke-width="0.4"/>
<path d="M132.7 179.4L134.9 181.7L132.7 183.9L130.4 181.7Z" fill="#555555" stroke="#a0a0a0" stroke-width="0.4"/>
<path d="M111.6 162.2L113.8 164.4L111.6 166.7L109.3 164.4Z" fill="#555555" stroke="#a0a0a0" stroke-width="0.4"/>
<path d="M106.7 137.8L109.0 140.0L106.7 142.2L104.5 140.0Z" fill="#555555" stroke="#a0a0a0" stroke-width="0.4"/>
<path d="M116.7 142.8L119.0 145.0L116.7 147.2L114.5 145.0Z" fill="#555555" stroke="#a0a0a0" stroke-width="0.4"/>
<path d="M132.1 178.2L134.3 180.5L132.1 182.7L129.8 180.5Z" fill="#555555" stroke="#a0a0a0" stroke-width="0.4"/>
<path d="M114.9 157.8L117.4 160.3L114.9 162.8L112.4 160.3Z" fill="#fff" stroke="#6e6e6e" stroke-width="0.8"/>
<path d="M125.7 167.8L128.2 170.3L125.7 172.8L123.2 170.3Z" fill="#fff" stroke="#6e6e6e" stroke-width="0.8"/>
<path d="M110.7 158.5L113.0 160.7L110.7 163.0L108.5 160.7Z" fill="#555555" stroke="#a0a0a0" stroke-width="0.4"/>
<path d="M99.4 161.7L101.7 163.9L99.4 166.2L97.2 163.9Z" fill="#555555" stroke="#a0a0a0" stroke-width="0.4"/>
<path d="M103.9 161.3L106.4 163.8L103.9 166.3L101.4 163.8Z" fill="#fff" stroke="#6e6e6e" stroke-width="0.8"/>
<path d="M115.9 140.6L118.2 142.8L115.9 145.1L113.7 142.8Z" fill="#555555" stroke="#a0a0a0" stroke-width="0.4"/>
<path d="M111.0 154.2L113.5 156.7L111.0 159.2L108.5 156.7Z" fill="#fff" stroke="#6e6e6e" stroke-width="0.8"/>
<path d="M115.2 166.1L117.7 168.6L115.2 171.1L112.7 168.6Z" fill="#fff" stroke="#6e6e6e" stroke-width="0.8"/>
<path d="M130.9 179.6L133.2 181.9L130.9 184.1L128.7 181.9Z" fill="#555555" stroke="#a0a0a0" stroke-width="0.4"/>
<path d="M108.1 148.1L110.4 150.4L108.1 152.6L105.9 150.4Z" fill="#555555" stroke="#a0a0a0" stroke-width="0.4"/>
<path d="M128.2 173.8L130.5 176.1L128.2 178.3L126.0 176.1Z" fill="#555555" stroke="#a0a0a0" stroke-width="0.4"/>
<path d="M102.5 160.5L105.0 163.0L102.5 165.5L100.0 163.0Z" fill="#fff" stroke="#6e6e6e" stroke-width="0.8"/>
<path d="M80.3 64.7L82.5 67.0L80.3 69.2L78.0 67.0Z" fill="#555555" stroke="#a0a0a0" stroke-width="0.4"/>
<path d="M134.0 186.7L136.5 189.2L134.0 191.7L131.5 189.2Z" fill="#fff" stroke="#6e6e6e" stroke-width="0.8"/>
<path d="M87.9 151.5L90.1 153.8L87.9 156.0L85.6 153.8Z" fill="#555555" stroke="#a0a0a0" stroke-width="0.4"/>
<path d="M130.1 173.6L132.3 175.8L130.1 178.1L127.8 175.8Z" fill="#555555" stroke="#a0a0a0" stroke-width="0.4"/>
<path d="M99.7 167.7L102.2 170.2L99.7 172.7L97.2 170.2Z" fill="#fff" stroke="#6e6e6e" stroke-width="0.8"/>
<path d="M132.7 178.7L135.0 181.0L132.7 183.2L130.5 181.0Z" fill="#555555" stroke="#a0a0a0" stroke-width="0.4"/>
<path d="M134.3 185.7L136.8 188.2L134.3 190.7L131.8 188.2Z" fill="#fff" stroke="#6e6e6e" stroke-width="0.8"/>
<path d="M101.3 164.9L103.6 167.1L101.3 169.4L99.1 167.1Z" fill="#555555" stroke="#a0a0a0" stroke-width="0.4"/>
<path d="M111.2 163.3L113.5 165.6L111.2 167.8L109.0 165.6Z" fill="#555555" stroke="#a0a0a0" stroke-width="0.4"/>
<path d="M130.5 170.4L133.0 172.9L130.5 175.4L128.0 172.9Z" fill="#fff" stroke="#6e6e6e" stroke-width="0.8"/>
<path d="M92.1 147.3L94.6 149.8L92.1 152.3L89.6 149.8Z" fill="#fff" stroke="#6e6e6e" stroke-width="0.8"/>
<path d="M129.6 166.1L132.1 168.6L129.6 171.1L127.1 168.6Z" fill="#fff" stroke="#6e6e6e" stroke-width="0.8"/>
<path d="M109.8 169.1L112.3 171.6L109.8 174.1L107.3 171.6Z" fill="#fff" stroke="#6e6e6e" stroke-width="0.8"/>
<path d="M128.2 171.9L130.5 174.2L128.2 176.4L126.0 174.2Z" fill="#555555" stroke="#a0a0a0" stroke-width="0.4"/>
<path d="M108.5 155.8L110.7 158.0L108.5 160.3L106.2 158.0Z" fill="#555555" stroke="#a0a0a0" stroke-width="0.4"/>
<path d="M80.3 87.4L82.5 89.7L80.3 91.9L78.0 89.7Z" fill="#555555" stroke="#a0a0a0" stroke-width="0.4"/>
<path d="M78.2 67.3L80.5 69.5L78.2 71.8L76.0 69.5Z" fill="#555555" stroke="#a0a0a0" stroke-width="0.4"/>
<path d="M128.6 180.8L130.8 183.1L128.6 185.3L126.3 183.1Z" fill="#555555" stroke="#a0a0a0" stroke-width="0.4"/>
<path d="M89.3 151.7L91.5 153.9L89.3 156.2L87.0 153.9Z" fill="#555555" stroke="#a0a0a0" stroke-width="0.4"/>
<path d="M108.8 159.2L111.3 161.7L108.8 164.2L106.3 161.7Z" fill="#fff" stroke="#6e6e6e" stroke-width="0.8"/>
<path d="M94.3 144.1L96.5 146.4L94.3 148.6L92.0 146.4Z" fill="#555555" stroke="#a0a0a0" stroke-width="0.4"/>
<path d="M129.4 179.6L131.7 181.8L129.4 184.1L127.2 181.8Z" fill="#555555" stroke="#a0a0a0" stroke-width="0.4"/>
<path d="M79.3 84.8L81.6 87.0L79.3 89.3L77.1 87.0Z" fill="#555555" stroke="#a0a0a0" stroke-width="0.4"/>
<path d="M116.9 171.3L119.2 173.5L116.9 175.8L114.7 173.5Z" fill="#555555" stroke="#a0a0a0" stroke-width="0.4"/>
<path d="M102.0 140.6L104.3 142.9L102.0 145.1L99.8 142.9Z" fill="#555555" stroke="#a0a0a0" stroke-width="0.4"/>
<path d="M78.9 77.4L81.1 79.6L78.9 81.9L76.6 79.6Z" fill="#555555" stroke="#a0a0a0" stroke-width="0.4"/>
<path d="M135.7 183.9L138.0 186.1L135.7 188.4L133.5 186.1Z" fill="#555555" stroke="#a0a0a0" stroke-width="0.4"/>
<path d="M91.0 136.8L93.2 139.0L91.0 141.2L88.8 139.0Z" fill="#555555" stroke="#a0a0a0" stroke-width="0.4"/>
<path d="M107.8 174.7L110.3 177.2L107.8 179.7L105.3 177.2Z" fill="#fff" stroke="#6e6e6e" stroke-width="0.8"/>
<path d="M121.2 171.0L123.7 173.5L121.2 176.0L118.7 173.5Z" fill="#fff" stroke="#6e6e6e" stroke-width="0.8"/>
<path d="M112.4 166.3L114.9 168.8L112.4 171.3L109.9 168.8Z" fill="#fff" stroke="#6e6e6e" stroke-width="0.8"/>
<path d="M134.7 183.4L137.0 185.6L134.7 187.9L132.5 185.6Z" fill="#555555" stroke="#a0a0a0" stroke-width="0.4"/>
<path d="M133.2 176.4L135.4 178.7L133.2 180.9L130.9 178.7Z" fill="#555555" stroke="#a0a0a0" stroke-width="0.4"/>
<path d="M98.0 138.7L100.3 141.0L98.0 143.2L95.8 141.0Z" fill="#555555" stroke="#a0a0a0" stroke-width="0.4"/>
<path d="M121.9 167.3L124.4 169.8L121.9 172.3L119.4 169.8Z" fill="#fff" stroke="#6e6e6e" stroke-width="0.8"/>
<path d="M102.0 154.1L104.5 156.6L102.0 159.1L99.5 156.6Z" fill="#fff" stroke="#6e6e6e" stroke-width="0.8"/>
<path d="M80.4 115.8L82.6 118.0L80.4 120.2L78.1 118.0Z" fill="#555555" stroke="#a0a0a0" stroke-width="0.4"/>
<path d="M119.3 168.6L121.5 170.8L119.3 173.1L117.0 170.8Z" fill="#555555" stroke="#a0a0a0" stroke-width="0.4"/>
<path d="M98.7 146.7L101.2 149.2L98.7 151.7L96.2 149.2Z" fill="#fff" stroke="#6e6e6e" stroke-width="0.8"/>
<path d="M94.1 144.5L96.3 146.8L94.1 149.0L91.8 146.8Z" fill="#555555" stroke="#a0a0a0" stroke-width="0.4"/>
<path d="M126.7 173.1L129.2 175.6L126.7 178.1L124.2 175.6Z" fill="#fff" stroke="#6e6e6e" stroke-width="0.8"/>
<path d="M81.2 106.8L83.5 109.0L81.2 111.2L79.0 109.0Z" fill="#555555" stroke="#a0a0a0" stroke-width="0.4"/>
<path d="M105.4 160.3L107.6 162.6L105.4 164.8L103.1 162.6Z" fill="#555555" stroke="#a0a0a0" stroke-width="0.4"/>
<path d="M77.6 60.9L79.8 63.2L77.6 65.4L75.3 63.2Z" fill="#555555" stroke="#a0a0a0" stroke-width="0.4"/>
<path d="M76.0 101.8L78.2 104.0L76.0 106.2L73.8 104.0Z" fill="#555555" stroke="#a0a0a0" stroke-width="0.4"/>
<path d="M95.9 156.3L98.4 158.8L95.9 161.3L93.4 158.8Z" fill="#fff" stroke="#6e6e6e" stroke-width="0.8"/>
<path d="M89.8 141.5L92.1 143.8L89.8 146.0L87.6 143.8Z" fill="#555555" stroke="#a0a0a0" stroke-width="0.4"/>
<path d="M103.5 156.4L105.7 158.6L103.5 160.9L101.2 158.6Z" fill="#555555" stroke="#a0a0a0" stroke-width="0.4"/>
<path d="M92.1 142.7L94.4 145.0L92.1 147.2L89.9 145.0Z" fill="#555555" stroke="#a0a0a0" stroke-width="0.4"/>
<path d="M108.7 159.9L111.0 162.2L108.7 164.4L106.5 162.2Z" fill="#555555" stroke="#a0a0a0" stroke-width="0.4"/>
<path d="M95.0 145.4L97.5 147.9L95.0 150.4L92.5 147.9Z" fill="#fff" stroke="#6e6e6e" stroke-width="0.8"/>
<path d="M116.0 155.2L118.2 157.5L116.0 159.8L113.8 157.5Z" fill="#555555" stroke="#a0a0a0" stroke-width="0.4"/>
<path d="M103.6 165.7L106.1 168.2L103.6 170.7L101.1 168.2Z" fill="#fff" stroke="#6e6e6e" stroke-width="0.8"/>
<path d="M96.5 152.3L99.0 154.8L96.5 157.3L94.0 154.8Z" fill="#fff" stroke="#6e6e6e" stroke-width="0.8"/>
<path d="M110.0 152.8L112.2 155.0L110.0 157.2L107.8 155.0Z" fill="#555555" stroke="#a0a0a0" stroke-width="0.4"/>
<path d="M120.5 159.2L122.8 161.4L120.5 163.7L118.3 161.4Z" fill="#555555" stroke="#a0a0a0" stroke-width="0.4"/>
<path d="M109.5 165.1L111.8 167.3L109.5 169.6L107.3 167.3Z" fill="#555555" stroke="#a0a0a0" stroke-width="0.4"/>
<path d="M79.9 89.0L82.1 91.2L79.9 93.5L77.6 91.2Z" fill="#555555" stroke="#a0a0a0" stroke-width="0.4"/>
<path d="M127.2 167.6L129.5 169.8L127.2 172.1L125.0 169.8Z" fill="#555555" stroke="#a0a0a0" stroke-width="0.4"/>
<path d="M121.0 164.0L123.2 166.2L121.0 168.5L118.7 166.2Z" fill="#555555" stroke="#a0a0a0" stroke-width="0.4"/>
<path d="M97.5 150.8L99.8 153.0L97.5 155.3L95.3 153.0Z" fill="#555555" stroke="#a0a0a0" stroke-width="0.4"/>
<path d="M105.8 166.3L108.3 168.8L105.8 171.3L103.3 168.8Z" fill="#fff" stroke="#6e6e6e" stroke-width="0.8"/>
<path d="M99.0 161.6L101.2 163.9L99.0 166.1L96.7 163.9Z" fill="#555555" stroke="#a0a0a0" stroke-width="0.4"/>
<path d="M112.8 160.3L115.1 162.6L112.8 164.8L110.6 162.6Z" fill="#555555" stroke="#a0a0a0" stroke-width="0.4"/>
<path d="M126.8 167.9L129.3 170.4L126.8 172.9L124.3 170.4Z" fill="#fff" stroke="#6e6e6e" stroke-width="0.8"/>
<path d="M122.5 175.6L124.8 177.9L122.5 180.1L120.3 177.9Z" fill="#555555" stroke="#a0a0a0" stroke-width="0.4"/>
<path d="M114.8 168.8L117.1 171.1L114.8 173.3L112.6 171.1Z" fill="#555555" stroke="#a0a0a0" stroke-width="0.4"/>
<path d="M131.4 183.4L133.9 185.9L131.4 188.4L128.9 185.9Z" fill="#fff" stroke="#6e6e6e" stroke-width="0.8"/>
<path d="M133.4 174.4L135.9 176.9L133.4 179.4L130.9 176.9Z" fill="#fff" stroke="#6e6e6e" stroke-width="0.8"/>
<path d="M111.5 171.4L114.0 173.9L111.5 176.4L109.0 173.9Z" fill="#fff" stroke="#6e6e6e" stroke-width="0.8"/>
<path d="M131.2 181.0L133.4 183.3L131.2 185.5L128.9 183.3Z" fill="#555555" stroke="#a0a0a0" stroke-width="0.4"/>
<path d="M117.1 168.3L119.4 170.5L117.1 172.8L114.9 170.5Z" fill="#555555" stroke="#a0a0a0" stroke-width="0.4"/>
<path d="M101.7 158.0L104.2 160.5L101.7 163.0L99.2 160.5Z" fill="#fff" stroke="#6e6e6e" stroke-width="0.8"/>
<path d="M105.2 173.4L107.7 175.9L105.2 178.4L102.7 175.9Z" fill="#fff" stroke="#6e6e6e" stroke-width="0.8"/>
<path d="M81.5 57.3L83.8 59.6L81.5 61.8L79.3 59.6Z" fill="#555555" stroke="#a0a0a0" stroke-width="0.4"/>
<path d="M91.5 157.1L93.7 159.4L91.5 161.6L89.2 159.4Z" fill="#555555" stroke="#a0a0a0" stroke-width="0.4"/>
<path d="M133.1 176.1L135.6 178.6L133.1 181.1L130.6 178.6Z" fill="#fff" stroke="#6e6e6e" stroke-width="0.8"/>
<path d="M81.4 120.2L83.6 122.5L81.4 124.8L79.1 122.5Z" fill="#555555" stroke="#a0a0a0" stroke-width="0.4"/>
<path d="M100.6 155.7L103.1 158.2L100.6 160.7L98.1 158.2Z" fill="#fff" stroke="#6e6e6e" stroke-width="0.8"/>
<path d="M125.9 174.2L128.2 176.4L125.9 178.7L123.7 176.4Z" fill="#555555" stroke="#a0a0a0" stroke-width="0.4"/>
<path d="M130.1 171.3L132.4 173.6L130.1 175.8L127.9 173.6Z" fill="#555555" stroke="#a0a0a0" stroke-width="0.4"/>
<path d="M80.2 76.2L82.4 78.4L80.2 80.7L77.9 78.4Z" fill="#555555" stroke="#a0a0a0" stroke-width="0.4"/>
<path d="M132.5 135.2L134.8 137.5L132.5 139.8L130.2 137.5Z" fill="#555555" stroke="#a0a0a0" stroke-width="0.4"/>
<path d="M78.2 81.2L80.4 83.4L78.2 85.7L75.9 83.4Z" fill="#555555" stroke="#a0a0a0" stroke-width="0.4"/>
<path d="M76.0 121.8L78.2 124.0L76.0 126.2L73.8 124.0Z" fill="#555555" stroke="#a0a0a0" stroke-width="0.4"/>
<path d="M77.0 92.2L79.3 94.5L77.0 96.7L74.8 94.5Z" fill="#555555" stroke="#a0a0a0" stroke-width="0.4"/>
<path d="M80.5 97.8L82.8 100.0L80.5 102.2L78.3 100.0Z" fill="#555555" stroke="#a0a0a0" stroke-width="0.4"/>
<path d="M106.4 158.9L108.6 161.2L106.4 163.4L104.1 161.2Z" fill="#555555" stroke="#a0a0a0" stroke-width="0.4"/>
<path d="M104.7 157.2L107.2 159.7L104.7 162.2L102.2 159.7Z" fill="#fff" stroke="#6e6e6e" stroke-width="0.8"/>
<path d="M130.1 172.5L132.3 174.8L130.1 177.0L127.8 174.8Z" fill="#555555" stroke="#a0a0a0" stroke-width="0.4"/>
<path d="M129.1 184.2L131.6 186.7L129.1 189.2L126.6 186.7Z" fill="#fff" stroke="#6e6e6e" stroke-width="0.8"/>
<path d="M90.2 153.0L92.4 155.2L90.2 157.5L87.9 155.2Z" fill="#555555" stroke="#a0a0a0" stroke-width="0.4"/>
<path d="M128.7 171.9L131.2 174.4L128.7 176.9L126.2 174.4Z" fill="#fff" stroke="#6e6e6e" stroke-width="0.8"/>
<path d="M103.9 161.5L106.1 163.7L103.9 166.0L101.6 163.7Z" fill="#555555" stroke="#a0a0a0" stroke-width="0.4"/>
<path d="M127.3 167.4L129.8 169.9L127.3 172.4L124.8 169.9Z" fill="#fff" stroke="#6e6e6e" stroke-width="0.8"/>
<path d="M134.3 184.9L136.5 187.1L134.3 189.4L132.0 187.1Z" fill="#555555" stroke="#a0a0a0" stroke-width="0.4"/>
<path d="M90.0 144.1L92.3 146.3L90.0 148.6L87.8 146.3Z" fill="#555555" stroke="#a0a0a0" stroke-width="0.4"/>
<path d="M124.1 174.3L126.3 176.5L124.1 178.8L121.8 176.5Z" fill="#555555" stroke="#a0a0a0" stroke-width="0.4"/>
<path d="M109.8 148.9L112.0 151.1L109.8 153.4L107.5 151.1Z" fill="#555555" stroke="#a0a0a0" stroke-width="0.4"/>
<path d="M109.4 166.8L111.9 169.3L109.4 171.8L106.9 169.3Z" fill="#fff" stroke="#6e6e6e" stroke-width="0.8"/>
<path d="M134.7 176.9L136.9 179.2L134.7 181.4L132.4 179.2Z" fill="#555555" stroke="#a0a0a0" stroke-width="0.4"/>
<path d="M96.2 142.4L98.4 144.7L96.2 146.9L93.9 144.7Z" fill="#555555" stroke="#a0a0a0" stroke-width="0.4"/>
<path d="M88.0 131.7L90.2 133.9L88.0 136.2L85.7 133.9Z" fill="#555555" stroke="#a0a0a0" stroke-width="0.4"/>
<path d="M97.7 145.8L100.0 148.0L97.7 150.3L95.5 148.0Z" fill="#555555" stroke="#a0a0a0" stroke-width="0.4"/>
<path d="M128.9 171.3L131.2 173.6L128.9 175.8L126.7 173.6Z" fill="#555555" stroke="#a0a0a0" stroke-width="0.4"/>
<path d="M115.5 174.1L117.8 176.3L115.5 178.6L113.3 176.3Z" fill="#555555" stroke="#a0a0a0" stroke-width="0.4"/>
<path d="M82.0 133.8L84.2 136.0L82.0 138.2L79.7 136.0Z" fill="#555555" stroke="#a0a0a0" stroke-width="0.4"/>
<path d="M114.3 166.0L116.8 168.5L114.3 171.0L111.8 168.5Z" fill="#fff" stroke="#6e6e6e" stroke-width="0.8"/>
<path d="M105.6 168.0L107.9 170.2L105.6 172.5L103.4 170.2Z" fill="#555555" stroke="#a0a0a0" stroke-width="0.4"/>
<path d="M102.5 146.8L104.8 149.0L102.5 151.2L100.2 149.0Z" fill="#555555" stroke="#a0a0a0" stroke-width="0.4"/>
<path d="M113.2 168.2L115.4 170.5L113.2 172.7L110.9 170.5Z" fill="#555555" stroke="#a0a0a0" stroke-width="0.4"/>
<path d="M128.9 180.8L131.2 183.0L128.9 185.3L126.7 183.0Z" fill="#555555" stroke="#a0a0a0" stroke-width="0.4"/>
<path d="M95.5 145.8L97.8 148.1L95.5 150.3L93.3 148.1Z" fill="#555555" stroke="#a0a0a0" stroke-width="0.4"/>
<path d="M123.6 167.4L125.9 169.7L123.6 171.9L121.4 169.7Z" fill="#555555" stroke="#a0a0a0" stroke-width="0.4"/>
<path d="M95.7 156.2L97.9 158.5L95.7 160.7L93.4 158.5Z" fill="#555555" stroke="#a0a0a0" stroke-width="0.4"/>
<path d="M88.5 140.9L90.7 143.2L88.5 145.4L86.2 143.2Z" fill="#555555" stroke="#a0a0a0" stroke-width="0.4"/>
<path d="M121.4 169.5L123.7 171.7L121.4 174.0L119.2 171.7Z" fill="#555555" stroke="#a0a0a0" stroke-width="0.4"/>
<path d="M91.9 142.0L94.1 144.3L91.9 146.5L89.6 144.3Z" fill="#555555" stroke="#a0a0a0" stroke-width="0.4"/>
<path d="M118.1 166.0L120.6 168.5L118.1 171.0L115.6 168.5Z" fill="#fff" stroke="#6e6e6e" stroke-width="0.8"/>
<path d="M119.6 174.9L121.9 177.2L119.6 179.4L117.4 177.2Z" fill="#555555" stroke="#a0a0a0" stroke-width="0.4"/>
<path d="M121.6 168.4L124.1 170.9L121.6 173.4L119.1 170.9Z" fill="#fff" stroke="#6e6e6e" stroke-width="0.8"/>
<path d="M80.8 129.2L83.1 131.5L80.8 133.8L78.6 131.5Z" fill="#555555" stroke="#a0a0a0" stroke-width="0.4"/>
<path d="M131.7 175.3L133.9 177.5L131.7 179.8L129.4 177.5Z" fill="#555555" stroke="#a0a0a0" stroke-width="0.4"/>
<path d="M112.1 152.4L114.3 154.7L112.1 156.9L109.8 154.7Z" fill="#555555" stroke="#a0a0a0" stroke-width="0.4"/>
<path d="M123.6 171.3L126.1 173.8L123.6 176.3L121.1 173.8Z" fill="#fff" stroke="#6e6e6e" stroke-width="0.8"/>
<path d="M128.2 174.0L130.7 176.5L128.2 179.0L125.7 176.5Z" fill="#fff" stroke="#6e6e6e" stroke-width="0.8"/>
<path d="M125.7 173.0L127.9 175.3L125.7 177.5L123.4 175.3Z" fill="#555555" stroke="#a0a0a0" stroke-width="0.4"/>
<path d="M106.3 161.6L108.8 164.1L106.3 166.6L103.8 164.1Z" fill="#fff" stroke="#6e6e6e" stroke-width="0.8"/>
<path d="M100.0 143.0L102.2 145.2L100.0 147.5L97.7 145.2Z" fill="#555555" stroke="#a0a0a0" stroke-width="0.4"/>
<path d="M96.7 148.4L98.9 150.6L96.7 152.9L94.4 150.6Z" fill="#555555" stroke="#a0a0a0" stroke-width="0.4"/>
<path d="M134.2 182.7L136.5 185.0L134.2 187.2L132.0 185.0Z" fill="#555555" stroke="#a0a0a0" stroke-width="0.4"/>
<path d="M100.2 148.4L102.5 150.6L100.2 152.9L98.0 150.6Z" fill="#555555" stroke="#a0a0a0" stroke-width="0.4"/>
<path d="M118.3 170.8L120.8 173.3L118.3 175.8L115.8 173.3Z" fill="#fff" stroke="#6e6e6e" stroke-width="0.8"/>
<path d="M81.6 124.8L83.9 127.0L81.6 129.2L79.4 127.0Z" fill="#555555" stroke="#a0a0a0" stroke-width="0.4"/>
<path d="M129.2 171.2L131.4 173.5L129.2 175.7L126.9 173.5Z" fill="#555555" stroke="#a0a0a0" stroke-width="0.4"/>
<path d="M114.7 148.1L117.0 150.4L114.7 152.6L112.5 150.4Z" fill="#555555" stroke="#a0a0a0" stroke-width="0.4"/>
<path d="M134.3 178.1L136.6 180.3L134.3 182.6L132.1 180.3Z" fill="#555555" stroke="#a0a0a0" stroke-width="0.4"/>
<path d="M113.5 160.4L115.8 162.6L113.5 164.9L111.3 162.6Z" fill="#555555" stroke="#a0a0a0" stroke-width="0.4"/>
<path d="M120.0 173.1L122.5 175.6L120.0 178.1L117.5 175.6Z" fill="#fff" stroke="#6e6e6e" stroke-width="0.8"/>
<path d="M133.4 181.9L135.7 184.1L133.4 186.4L131.2 184.1Z" fill="#555555" stroke="#a0a0a0" stroke-width="0.4"/>
<path d="M116.6 173.4L119.1 175.9L116.6 178.4L114.1 175.9Z" fill="#fff" stroke="#6e6e6e" stroke-width="0.8"/>
<path d="M108.0 149.0L110.3 151.3L108.0 153.5L105.8 151.3Z" fill="#555555" stroke="#a0a0a0" stroke-width="0.4"/>
<path d="M118.0 165.2L120.3 167.5L118.0 169.7L115.8 167.5Z" fill="#555555" stroke="#a0a0a0" stroke-width="0.4"/>
<path d="M132.1 187.5L134.6 190.0L132.1 192.5L129.6 190.0Z" fill="#fff" stroke="#6e6e6e" stroke-width="0.8"/>
<path d="M94.6 147.0L96.8 149.2L94.6 151.5L92.3 149.2Z" fill="#555555" stroke="#a0a0a0" stroke-width="0.4"/>
<path d="M129.5 180.7L131.8 183.0L129.5 185.2L127.3 183.0Z" fill="#555555" stroke="#a0a0a0" stroke-width="0.4"/>
<path d="M115.2 180.7L117.4 182.9L115.2 185.2L112.9 182.9Z" fill="#555555" stroke="#a0a0a0" stroke-width="0.4"/>
<path d="M119.0 160.5L121.2 162.8L119.0 165.0L116.7 162.8Z" fill="#555555" stroke="#a0a0a0" stroke-width="0.4"/>
<path d="M123.0 182.1L125.5 184.6L123.0 187.1L120.5 184.6Z" fill="#fff" stroke="#6e6e6e" stroke-width="0.8"/>
<path d="M131.4 175.5L133.7 177.8L131.4 180.0L129.2 177.8Z" fill="#555555" stroke="#a0a0a0" stroke-width="0.4"/>
<path d="M92.9 153.0L95.2 155.2L92.9 157.5L90.7 155.2Z" fill="#555555" stroke="#a0a0a0" stroke-width="0.4"/>
<path d="M93.9 159.3L96.4 161.8L93.9 164.3L91.4 161.8Z" fill="#fff" stroke="#6e6e6e" stroke-width="0.8"/>
<path d="M104.6 153.5L106.8 155.7L104.6 158.0L102.3 155.7Z" fill="#555555" stroke="#a0a0a0" stroke-width="0.4"/>
<path d="M106.8 153.4L109.1 155.6L106.8 157.9L104.6 155.6Z" fill="#555555" stroke="#a0a0a0" stroke-width="0.4"/>
<path d="M134.1 180.0L136.3 182.3L134.1 184.5L131.8 182.3Z" fill="#555555" stroke="#a0a0a0" stroke-width="0.4"/>
<path d="M130.9 183.2L133.4 185.7L130.9 188.2L128.4 185.7Z" fill="#fff" stroke="#6e6e6e" stroke-width="0.8"/>
<path d="M95.0 141.8L97.2 144.0L95.0 146.2L92.8 144.0Z" fill="#555555" stroke="#a0a0a0" stroke-width="0.4"/>
<path d="M119.9 168.5L122.4 171.0L119.9 173.5L117.4 171.0Z" fill="#fff" stroke="#6e6e6e" stroke-width="0.8"/>
<path d="M98.0 159.6L100.5 162.1L98.0 164.6L95.5 162.1Z" fill="#fff" stroke="#6e6e6e" stroke-width="0.8"/>
<path d="M102.7 163.3L105.0 165.6L102.7 167.8L100.5 165.6Z" fill="#555555" stroke="#a0a0a0" stroke-width="0.4"/>
<path d="M123.2 175.2L125.4 177.5L123.2 179.7L120.9 177.5Z" fill="#555555" stroke="#a0a0a0" stroke-width="0.4"/>
<path d="M107.1 146.5L109.4 148.8L107.1 151.0L104.9 148.8Z" fill="#555555" stroke="#a0a0a0" stroke-width="0.4"/>
<path d="M132.3 178.0L134.5 180.3L132.3 182.5L130.0 180.3Z" fill="#555555" stroke="#a0a0a0" stroke-width="0.4"/>
<path d="M126.5 181.0L128.7 183.3L126.5 185.5L124.2 183.3Z" fill="#555555" stroke="#a0a0a0" stroke-width="0.4"/>
<path d="M112.2 164.2L114.4 166.5L112.2 168.7L109.9 166.5Z" fill="#555555" stroke="#a0a0a0" stroke-width="0.4"/>
<path d="M100.6 159.1L103.1 161.6L100.6 164.1L98.1 161.6Z" fill="#fff" stroke="#6e6e6e" stroke-width="0.8"/>
<path d="M131.9 177.0L134.1 179.3L131.9 181.5L129.6 179.3Z" fill="#555555" stroke="#a0a0a0" stroke-width="0.4"/>
<path d="M76.0 130.8L78.2 133.0L76.0 135.2L73.8 133.0Z" fill="#555555" stroke="#a0a0a0" stroke-width="0.4"/>
<path d="M97.4 156.0L99.9 158.5L97.4 161.0L94.9 158.5Z" fill="#fff" stroke="#6e6e6e" stroke-width="0.8"/>
<path d="M122.6 182.8L125.1 185.3L122.6 187.8L120.1 185.3Z" fill="#fff" stroke="#6e6e6e" stroke-width="0.8"/>
<path d="M108.4 166.5L110.9 169.0L108.4 171.5L105.9 169.0Z" fill="#fff" stroke="#6e6e6e" stroke-width="0.8"/>
<path d="M127.5 181.1L129.7 183.4L127.5 185.6L125.2 183.4Z" fill="#555555" stroke="#a0a0a0" stroke-width="0.4"/>
<path d="M133.8 176.7L136.1 179.0L133.8 181.2L131.6 179.0Z" fill="#555555" stroke="#a0a0a0" stroke-width="0.4"/>
<path d="M92.3 154.8L94.8 157.3L92.3 159.8L89.8 157.3Z" fill="#fff" stroke="#6e6e6e" stroke-width="0.8"/>
<path d="M130.8 179.4L133.0 181.7L130.8 183.9L128.5 181.7Z" fill="#555555" stroke="#a0a0a0" stroke-width="0.4"/>
<path d="M80.3 111.2L82.5 113.5L80.3 115.8L78.0 113.5Z" fill="#555555" stroke="#a0a0a0" stroke-width="0.4"/>
<path d="M110.4 153.2L112.9 155.7L110.4 158.2L107.9 155.7Z" fill="#fff" stroke="#6e6e6e" stroke-width="0.8"/>
<path d="M117.5 171.4L119.8 173.6L117.5 175.9L115.3 173.6Z" fill="#555555" stroke="#a0a0a0" stroke-width="0.4"/>
<path d="M129.8 180.2L132.1 182.5L129.8 184.7L127.6 182.5Z" fill="#555555" stroke="#a0a0a0" stroke-width="0.4"/>
<path d="M101.8 161.4L104.0 163.6L101.8 165.9L99.5 163.6Z" fill="#555555" stroke="#a0a0a0" stroke-width="0.4"/>
<path d="M116.1 165.0L118.6 167.5L116.1 170.0L113.6 167.5Z" fill="#fff" stroke="#6e6e6e" stroke-width="0.8"/>
<path d="M117.5 172.6L120.0 175.1L117.5 177.6L115.0 175.1Z" fill="#fff" stroke="#6e6e6e" stroke-width="0.8"/>
<path d="M113.8 147.0L116.0 149.3L113.8 151.5L111.5 149.3Z" fill="#555555" stroke="#a0a0a0" stroke-width="0.4"/>
<path d="M125.0 183.9L127.3 186.1L125.0 188.4L122.8 186.1Z" fill="#555555" stroke="#a0a0a0" stroke-width="0.4"/>
<path d="M106.7 161.5L109.2 164.0L106.7 166.5L104.2 164.0Z" fill="#fff" stroke="#6e6e6e" stroke-width="0.8"/>
<path d="M78.9 74.7L81.1 77.0L78.9 79.2L76.6 77.0Z" fill="#555555" stroke="#a0a0a0" stroke-width="0.4"/>
<path d="M102.2 154.9L104.5 157.2L102.2 159.4L100.0 157.2Z" fill="#555555" stroke="#a0a0a0" stroke-width="0.4"/>
<path d="M125.1 163.6L127.6 166.1L125.1 168.6L122.6 166.1Z" fill="#fff" stroke="#6e6e6e" stroke-width="0.8"/>
<path d="M99.4 153.6L101.9 156.1L99.4 158.6L96.9 156.1Z" fill="#fff" stroke="#6e6e6e" stroke-width="0.8"/>
<path d="M95.8 147.0L98.1 149.3L95.8 151.5L93.6 149.3Z" fill="#555555" stroke="#a0a0a0" stroke-width="0.4"/>
<path d="M113.2 172.9L115.7 175.4L113.2 177.9L110.7 175.4Z" fill="#fff" stroke="#6e6e6e" stroke-width="0.8"/>
<path d="M100.2 155.8L102.4 158.0L100.2 160.3L97.9 158.0Z" fill="#555555" stroke="#a0a0a0" stroke-width="0.4"/>
<path d="M80.8 102.2L83.1 104.5L80.8 106.8L78.6 104.5Z" fill="#555555" stroke="#a0a0a0" stroke-width="0.4"/>
<path d="M135.1 181.0L137.3 183.2L135.1 185.5L132.8 183.2Z" fill="#555555" stroke="#a0a0a0" stroke-width="0.4"/>
<path d="M90.6 142.8L92.9 145.0L90.6 147.3L88.4 145.0Z" fill="#555555" stroke="#a0a0a0" stroke-width="0.4"/>
<path d="M128.8 174.7L131.1 176.9L128.8 179.2L126.6 176.9Z" fill="#555555" stroke="#a0a0a0" stroke-width="0.4"/>
<path d="M118.9 166.3L121.4 168.8L118.9 171.3L116.4 168.8Z" fill="#fff" stroke="#6e6e6e" stroke-width="0.8"/>
<path d="M94.6 149.1L97.1 151.6L94.6 154.1L92.1 151.6Z" fill="#fff" stroke="#6e6e6e" stroke-width="0.8"/>
<path d="M124.6 176.9L127.1 179.4L124.6 181.9L122.1 179.4Z" fill="#fff" stroke="#6e6e6e" stroke-width="0.8"/>
<path d="M110.4 163.9L112.6 166.2L110.4 168.4L108.1 166.2Z" fill="#555555" stroke="#a0a0a0" stroke-width="0.4"/>
<path d="M93.1 153.7L95.6 156.2L93.1 158.7L90.6 156.2Z" fill="#fff" stroke="#6e6e6e" stroke-width="0.8"/>
<path d="M104.3 139.3L106.5 141.5L104.3 143.8L102.0 141.5Z" fill="#555555" stroke="#a0a0a0" stroke-width="0.4"/>
<path d="M135.9 185.2L138.2 187.4L135.9 189.7L133.7 187.4Z" fill="#555555" stroke="#a0a0a0" stroke-width="0.4"/>
<path d="M113.5 173.6L116.0 176.1L113.5 178.6L111.0 176.1Z" fill="#fff" stroke="#6e6e6e" stroke-width="0.8"/>
<path d="M105.8 146.1L108.0 148.4L105.8 150.6L103.5 148.4Z" fill="#555555" stroke="#a0a0a0" stroke-width="0.4"/>
<path d="M93.5 145.6L95.7 147.8L93.5 150.1L91.2 147.8Z" fill="#555555" stroke="#a0a0a0" stroke-width="0.4"/>
<path d="M96.4 163.9L98.9 166.4L96.4 168.9L93.9 166.4Z" fill="#fff" stroke="#6e6e6e" stroke-width="0.8"/>
<path d="M91.6 132.7L93.9 134.9L91.6 137.2L89.4 134.9Z" fill="#555555" stroke="#a0a0a0" stroke-width="0.4"/>
<path d="M81.5 70.3L83.7 72.5L81.5 74.8L79.2 72.5Z" fill="#555555" stroke="#a0a0a0" stroke-width="0.4"/>
<path d="M79.1 58.5L81.3 60.7L79.1 63.0L76.8 60.7Z" fill="#555555" stroke="#a0a0a0" stroke-width="0.4"/>
<path d="M98.2 153.9L100.5 156.2L98.2 158.4L96.0 156.2Z" fill="#555555" stroke="#a0a0a0" stroke-width="0.4"/>
<path d="M122.0 175.2L124.2 177.4L122.0 179.7L119.7 177.4Z" fill="#555555" stroke="#a0a0a0" stroke-width="0.4"/>
<path d="M136.3 185.2L138.5 187.4L136.3 189.7L134.0 187.4Z" fill="#555555" stroke="#a0a0a0" stroke-width="0.4"/>
<path d="M136.4 175.9L138.6 178.2L136.4 180.4L134.1 178.2Z" fill="#555555" stroke="#a0a0a0" stroke-width="0.4"/>
<path d="M137.2 176.7L139.4 179.0L137.2 181.2L134.9 179.0Z" fill="#555555" stroke="#a0a0a0" stroke-width="0.4"/>
<path d="M137.3 181.8L139.5 184.0L137.3 186.3L135.0 184.0Z" fill="#555555" stroke="#a0a0a0" stroke-width="0.4"/>
<path d="M137.6 180.6L139.9 182.8L137.6 185.1L135.4 182.8Z" fill="#555555" stroke="#a0a0a0" stroke-width="0.4"/>
<path d="M138.4 172.8L140.6 175.1L138.4 177.3L136.1 175.1Z" fill="#555555" stroke="#a0a0a0" stroke-width="0.4"/>
<path d="M138.6 191.3L140.9 193.5L138.6 195.8L136.4 193.5Z" fill="#555555" stroke="#a0a0a0" stroke-width="0.4"/>
<path d="M138.8 182.6L141.1 184.9L138.8 187.1L136.6 184.9Z" fill="#555555" stroke="#a0a0a0" stroke-width="0.4"/>
<path d="M139.3 189.8L141.6 192.0L139.3 194.3L137.1 192.0Z" fill="#555555" stroke="#a0a0a0" stroke-width="0.4"/>
<path d="M139.3 183.3L141.5 185.5L139.3 187.8L137.0 185.5Z" fill="#555555" stroke="#a0a0a0" stroke-width="0.4"/>
<path d="M139.8 185.2L142.1 187.4L139.8 189.7L137.6 187.4Z" fill="#555555" stroke="#a0a0a0" stroke-width="0.4"/>
<path d="M140.3 185.7L142.5 188.0L140.3 190.2L138.0 188.0Z" fill="#555555" stroke="#a0a0a0" stroke-width="0.4"/>
<path d="M140.5 183.5L142.8 185.8L140.5 188.0L138.3 185.8Z" fill="#555555" stroke="#a0a0a0" stroke-width="0.4"/>
<path d="M140.8 180.9L143.1 183.2L140.8 185.4L138.6 183.2Z" fill="#555555" stroke="#a0a0a0" stroke-width="0.4"/>
<path d="M141.3 183.1L143.5 185.3L141.3 187.6L139.0 185.3Z" fill="#555555" stroke="#a0a0a0" stroke-width="0.4"/>
<path d="M141.4 189.7L143.7 191.9L141.4 194.2L139.2 191.9Z" fill="#555555" stroke="#a0a0a0" stroke-width="0.4"/>
<path d="M142.0 178.6L144.3 180.8L142.0 183.1L139.8 180.8Z" fill="#555555" stroke="#a0a0a0" stroke-width="0.4"/>
<path d="M142.6 181.1L144.9 183.4L142.6 185.6L140.4 183.4Z" fill="#555555" stroke="#a0a0a0" stroke-width="0.4"/>
<path d="M142.9 184.1L145.1 186.3L142.9 188.6L140.6 186.3Z" fill="#555555" stroke="#a0a0a0" stroke-width="0.4"/>
<path d="M143.2 184.9L145.4 187.1L143.2 189.4L140.9 187.1Z" fill="#555555" stroke="#a0a0a0" stroke-width="0.4"/>
<path d="M143.4 184.5L145.6 186.8L143.4 189.0L141.1 186.8Z" fill="#555555" stroke="#a0a0a0" stroke-width="0.4"/>
<path d="M144.2 176.0L146.5 178.3L144.2 180.5L142.0 178.3Z" fill="#555555" stroke="#a0a0a0" stroke-width="0.4"/>
<path d="M144.2 186.3L146.5 188.5L144.2 190.8L142.0 188.5Z" fill="#555555" stroke="#a0a0a0" stroke-width="0.4"/>
<path d="M144.3 179.6L146.6 181.8L144.3 184.1L142.1 181.8Z" fill="#555555" stroke="#a0a0a0" stroke-width="0.4"/>
<path d="M145.4 183.5L147.6 185.7L145.4 188.0L143.1 185.7Z" fill="#555555" stroke="#a0a0a0" stroke-width="0.4"/>
<path d="M145.7 187.1L147.9 189.3L145.7 191.6L143.4 189.3Z" fill="#555555" stroke="#a0a0a0" stroke-width="0.4"/>
<path d="M145.7 187.0L147.9 189.2L145.7 191.5L143.4 189.2Z" fill="#555555" stroke="#a0a0a0" stroke-width="0.4"/>
<path d="M146.1 189.8L148.4 192.0L146.1 194.3L143.9 192.0Z" fill="#555555" stroke="#a0a0a0" stroke-width="0.4"/>
<path d="M146.4 186.0L148.7 188.2L146.4 190.5L144.2 188.2Z" fill="#555555" stroke="#a0a0a0" stroke-width="0.4"/>
<path d="M146.8 190.7L149.0 192.9L146.8 195.2L144.5 192.9Z" fill="#555555" stroke="#a0a0a0" stroke-width="0.4"/>
<path d="M147.2 181.9L149.5 184.1L147.2 186.4L145.0 184.1Z" fill="#555555" stroke="#a0a0a0" stroke-width="0.4"/>
<path d="M147.3 187.1L149.6 189.3L147.3 191.6L145.1 189.3Z" fill="#555555" stroke="#a0a0a0" stroke-width="0.4"/>
<path d="M147.7 184.5L149.9 186.8L147.7 189.0L145.4 186.8Z" fill="#555555" stroke="#a0a0a0" stroke-width="0.4"/>
<path d="M148.0 185.1L150.2 187.3L148.0 189.6L145.7 187.3Z" fill="#555555" stroke="#a0a0a0" stroke-width="0.4"/>
<path d="M148.6 190.0L150.9 192.2L148.6 194.5L146.4 192.2Z" fill="#555555" stroke="#a0a0a0" stroke-width="0.4"/>
<path d="M148.9 194.2L151.1 196.5L148.9 198.7L146.6 196.5Z" fill="#555555" stroke="#a0a0a0" stroke-width="0.4"/>
<path d="M149.2 198.6L151.5 200.9L149.2 203.1L147.0 200.9Z" fill="#555555" stroke="#a0a0a0" stroke-width="0.4"/>
<path d="M149.8 188.5L152.1 190.7L149.8 193.0L147.6 190.7Z" fill="#555555" stroke="#a0a0a0" stroke-width="0.4"/>
<path d="M149.9 176.0L152.1 178.3L149.9 180.5L147.6 178.3Z" fill="#555555" stroke="#a0a0a0" stroke-width="0.4"/>
<path d="M150.3 187.5L152.5 189.8L150.3 192.0L148.0 189.8Z" fill="#555555" stroke="#a0a0a0" stroke-width="0.4"/>
<path d="M151.1 181.7L153.3 184.0L151.1 186.2L148.8 184.0Z" fill="#555555" stroke="#a0a0a0" stroke-width="0.4"/>
<path d="M151.4 186.1L153.7 188.4L151.4 190.6L149.2 188.4Z" fill="#555555" stroke="#a0a0a0" stroke-width="0.4"/>
<path d="M151.5 177.6L153.8 179.8L151.5 182.1L149.3 179.8Z" fill="#555555" stroke="#a0a0a0" stroke-width="0.4"/>
<path d="M151.8 186.0L154.0 188.3L151.8 190.5L149.5 188.3Z" fill="#555555" stroke="#a0a0a0" stroke-width="0.4"/>
<path d="M152.3 187.8L154.5 190.0L152.3 192.3L150.0 190.0Z" fill="#555555" stroke="#a0a0a0" stroke-width="0.4"/>
<path d="M152.3 191.2L154.5 193.4L152.3 195.7L150.0 193.4Z" fill="#555555" stroke="#a0a0a0" stroke-width="0.4"/>
<path d="M153.0 189.9L155.2 192.2L153.0 194.4L150.7 192.2Z" fill="#555555" stroke="#a0a0a0" stroke-width="0.4"/>
<path d="M153.4 192.0L155.7 194.2L153.4 196.5L151.2 194.2Z" fill="#555555" stroke="#a0a0a0" stroke-width="0.4"/>
<path d="M153.6 182.7L155.8 185.0L153.6 187.2L151.3 185.0Z" fill="#555555" stroke="#a0a0a0" stroke-width="0.4"/>
<path d="M153.6 193.2L155.9 195.4L153.6 197.7L151.4 195.4Z" fill="#555555" stroke="#a0a0a0" stroke-width="0.4"/>
<path d="M154.4 188.5L156.7 190.8L154.4 193.0L152.2 190.8Z" fill="#555555" stroke="#a0a0a0" stroke-width="0.4"/>
<path d="M154.6 188.4L156.8 190.6L154.6 192.9L152.3 190.6Z" fill="#555555" stroke="#a0a0a0" stroke-width="0.4"/>
<path d="M155.0 187.1L157.3 189.3L155.0 191.6L152.8 189.3Z" fill="#555555" stroke="#a0a0a0" stroke-width="0.4"/>
<path d="M155.2 196.7L157.5 199.0L155.2 201.2L153.0 199.0Z" fill="#555555" stroke="#a0a0a0" stroke-width="0.4"/>
<path d="M155.8 186.3L158.0 188.6L155.8 190.8L153.5 188.6Z" fill="#555555" stroke="#a0a0a0" stroke-width="0.4"/>
<path d="M155.8 186.0L158.1 188.2L155.8 190.5L153.6 188.2Z" fill="#555555" stroke="#a0a0a0" stroke-width="0.4"/>
<path d="M156.6 191.7L158.8 194.0L156.6 196.2L154.3 194.0Z" fill="#555555" stroke="#a0a0a0" stroke-width="0.4"/>
<path d="M156.8 189.2L159.0 191.4L156.8 193.7L154.5 191.4Z" fill="#555555" stroke="#a0a0a0" stroke-width="0.4"/>
<path d="M157.1 184.9L159.3 187.1L157.1 189.4L154.8 187.1Z" fill="#555555" stroke="#a0a0a0" stroke-width="0.4"/>
<path d="M157.8 190.6L160.0 192.9L157.8 195.1L155.5 192.9Z" fill="#555555" stroke="#a0a0a0" stroke-width="0.4"/>
<path d="M158.4 186.4L160.6 188.7L158.4 190.9L156.1 188.7Z" fill="#555555" stroke="#a0a0a0" stroke-width="0.4"/>
<path d="M158.2 192.8L160.5 195.0L158.2 197.3L156.0 195.0Z" fill="#555555" stroke="#a0a0a0" stroke-width="0.4"/>
<path d="M158.6 184.3L160.8 186.5L158.6 188.8L156.3 186.5Z" fill="#555555" stroke="#a0a0a0" stroke-width="0.4"/>
<path d="M158.8 190.0L161.0 192.3L158.8 194.5L156.5 192.3Z" fill="#555555" stroke="#a0a0a0" stroke-width="0.4"/>
<path d="M159.4 189.4L161.6 191.7L159.4 193.9L157.1 191.7Z" fill="#555555" stroke="#a0a0a0" stroke-width="0.4"/>
<path d="M159.9 193.7L162.1 195.9L159.9 198.2L157.6 195.9Z" fill="#555555" stroke="#a0a0a0" stroke-width="0.4"/>
<path d="M160.1 190.1L162.4 192.4L160.1 194.6L157.9 192.4Z" fill="#555555" stroke="#a0a0a0" stroke-width="0.4"/>
<path d="M160.3 192.2L162.6 194.5L160.3 196.7L158.1 194.5Z" fill="#555555" stroke="#a0a0a0" stroke-width="0.4"/>
<path d="M160.9 190.5L163.2 192.7L160.9 195.0L158.7 192.7Z" fill="#555555" stroke="#a0a0a0" stroke-width="0.4"/>
<path d="M161.2 189.1L163.5 191.4L161.2 193.6L159.0 191.4Z" fill="#555555" stroke="#a0a0a0" stroke-width="0.4"/>
<path d="M161.2 186.7L163.4 188.9L161.2 191.2L158.9 188.9Z" fill="#555555" stroke="#a0a0a0" stroke-width="0.4"/>
<path d="M162.0 192.3L164.2 194.5L162.0 196.8L159.7 194.5Z" fill="#555555" stroke="#a0a0a0" stroke-width="0.4"/>
<path d="M162.5 190.9L164.8 193.2L162.5 195.4L160.3 193.2Z" fill="#555555" stroke="#a0a0a0" stroke-width="0.4"/>
<path d="M162.7 195.9L165.0 198.1L162.7 200.4L160.5 198.1Z" fill="#555555" stroke="#a0a0a0" stroke-width="0.4"/>
<path d="M163.1 188.6L165.4 190.9L163.1 193.1L160.9 190.9Z" fill="#555555" stroke="#a0a0a0" stroke-width="0.4"/>
<path d="M163.2 191.6L165.5 193.8L163.2 196.1L161.0 193.8Z" fill="#555555" stroke="#a0a0a0" stroke-width="0.4"/>
<path d="M163.4 193.0L165.7 195.2L163.4 197.5L161.2 195.2Z" fill="#555555" stroke="#a0a0a0" stroke-width="0.4"/>
<path d="M164.2 189.5L166.5 191.7L164.2 194.0L162.0 191.7Z" fill="#555555" stroke="#a0a0a0" stroke-width="0.4"/>
<path d="M164.8 190.3L167.0 192.6L164.8 194.8L162.5 192.6Z" fill="#555555" stroke="#a0a0a0" stroke-width="0.4"/>
<path d="M164.7 190.6L166.9 192.9L164.7 195.1L162.4 192.9Z" fill="#555555" stroke="#a0a0a0" stroke-width="0.4"/>
<path d="M164.9 193.2L167.2 195.5L164.9 197.7L162.7 195.5Z" fill="#555555" stroke="#a0a0a0" stroke-width="0.4"/>
<path d="M165.4 198.1L167.7 200.3L165.4 202.6L163.2 200.3Z" fill="#555555" stroke="#a0a0a0" stroke-width="0.4"/>
<path d="M165.9 193.9L168.2 196.2L165.9 198.4L163.7 196.2Z" fill="#555555" stroke="#a0a0a0" stroke-width="0.4"/>
<path d="M166.1 186.6L168.4 188.9L166.1 191.1L163.9 188.9Z" fill="#555555" stroke="#a0a0a0" stroke-width="0.4"/>
<path d="M166.5 188.9L168.8 191.1L166.5 193.4L164.3 191.1Z" fill="#555555" stroke="#a0a0a0" stroke-width="0.4"/>
<path d="M167.1 192.1L169.3 194.4L167.1 196.6L164.8 194.4Z" fill="#555555" stroke="#a0a0a0" stroke-width="0.4"/>
<path d="M167.6 195.1L169.8 197.4L167.6 199.6L165.3 197.4Z" fill="#555555" stroke="#a0a0a0" stroke-width="0.4"/>
<path d="M167.8 193.3L170.0 195.6L167.8 197.8L165.5 195.6Z" fill="#555555" stroke="#a0a0a0" stroke-width="0.4"/>
<path d="M168.0 195.1L170.3 197.3L168.0 199.6L165.8 197.3Z" fill="#555555" stroke="#a0a0a0" stroke-width="0.4"/>
<path d="M168.5 190.0L170.8 192.3L168.5 194.5L166.3 192.3Z" fill="#555555" stroke="#a0a0a0" stroke-width="0.4"/>
<path d="M168.8 202.8L171.0 205.0L168.8 207.3L166.5 205.0Z" fill="#555555" stroke="#a0a0a0" stroke-width="0.4"/>
<path d="M169.0 192.0L171.3 194.2L169.0 196.5L166.8 194.2Z" fill="#555555" stroke="#a0a0a0" stroke-width="0.4"/>
<path d="M169.3 187.6L171.5 189.8L169.3 192.1L167.0 189.8Z" fill="#555555" stroke="#a0a0a0" stroke-width="0.4"/>
<path d="M170.0 193.4L172.2 195.7L170.0 197.9L167.7 195.7Z" fill="#555555" stroke="#a0a0a0" stroke-width="0.4"/>
<path d="M170.2 200.3L172.4 202.5L170.2 204.8L167.9 202.5Z" fill="#555555" stroke="#a0a0a0" stroke-width="0.4"/>
<path d="M171.0 190.0L173.2 192.2L171.0 194.5L168.7 192.2Z" fill="#555555" stroke="#a0a0a0" stroke-width="0.4"/>
<path d="M171.1 195.8L173.3 198.1L171.1 200.3L168.8 198.1Z" fill="#555555" stroke="#a0a0a0" stroke-width="0.4"/>
<path d="M171.3 195.4L173.5 197.6L171.3 199.9L169.0 197.6Z" fill="#555555" stroke="#a0a0a0" stroke-width="0.4"/>
<path d="M171.6 199.7L173.8 201.9L171.6 204.2L169.3 201.9Z" fill="#555555" stroke="#a0a0a0" stroke-width="0.4"/>
<path d="M172.0 195.0L174.3 197.3L172.0 199.5L169.8 197.3Z" fill="#555555" stroke="#a0a0a0" stroke-width="0.4"/>
<path d="M172.5 197.2L174.8 199.5L172.5 201.7L170.3 199.5Z" fill="#555555" stroke="#a0a0a0" stroke-width="0.4"/>
<path d="M172.7 195.2L175.0 197.4L172.7 199.7L170.5 197.4Z" fill="#555555" stroke="#a0a0a0" stroke-width="0.4"/>
<path d="M173.4 195.9L175.6 198.2L173.4 200.4L171.1 198.2Z" fill="#555555" stroke="#a0a0a0" stroke-width="0.4"/>
<path d="M173.3 190.8L175.6 193.1L173.3 195.3L171.1 193.1Z" fill="#555555" stroke="#a0a0a0" stroke-width="0.4"/>
<path d="M173.7 190.2L175.9 192.5L173.7 194.7L171.4 192.5Z" fill="#555555" stroke="#a0a0a0" stroke-width="0.4"/>
<path d="M174.1 195.3L176.4 197.5L174.1 199.8L171.9 197.5Z" fill="#555555" stroke="#a0a0a0" stroke-width="0.4"/>
<path d="M174.0 194.4L176.3 196.7L174.0 198.9L171.8 196.7Z" fill="#555555" stroke="#a0a0a0" stroke-width="0.4"/>
<path d="M174.9 195.1L177.2 197.3L174.9 199.6L172.7 197.3Z" fill="#555555" stroke="#a0a0a0" stroke-width="0.4"/>
<path d="M175.0 199.4L177.2 201.6L175.0 203.9L172.7 201.6Z" fill="#555555" stroke="#a0a0a0" stroke-width="0.4"/>
<path d="M175.4 190.0L177.6 192.2L175.4 194.5L173.1 192.2Z" fill="#555555" stroke="#a0a0a0" stroke-width="0.4"/>
<path d="M175.7 194.7L177.9 196.9L175.7 199.2L173.4 196.9Z" fill="#555555" stroke="#a0a0a0" stroke-width="0.4"/>
<path d="M176.4 199.2L178.7 201.5L176.4 203.7L174.2 201.5Z" fill="#555555" stroke="#a0a0a0" stroke-width="0.4"/>
<path d="M176.6 190.4L178.9 192.6L176.6 194.9L174.4 192.6Z" fill="#555555" stroke="#a0a0a0" stroke-width="0.4"/>
<path d="M176.8 191.6L179.1 193.8L176.8 196.1L174.6 193.8Z" fill="#555555" stroke="#a0a0a0" stroke-width="0.4"/>
<path d="M177.3 188.3L179.5 190.6L177.3 192.8L175.0 190.6Z" fill="#555555" stroke="#a0a0a0" stroke-width="0.4"/>
<path d="M177.7 197.6L180.0 199.9L177.7 202.1L175.5 199.9Z" fill="#555555" stroke="#a0a0a0" stroke-width="0.4"/>
<path d="M178.0 197.0L180.3 199.3L178.0 201.5L175.8 199.3Z" fill="#555555" stroke="#a0a0a0" stroke-width="0.4"/>
<path d="M178.2 189.8L180.5 192.1L178.2 194.3L176.0 192.1Z" fill="#555555" stroke="#a0a0a0" stroke-width="0.4"/>
<path d="M178.6 199.8L180.9 202.1L178.6 204.3L176.4 202.1Z" fill="#555555" stroke="#a0a0a0" stroke-width="0.4"/>
<path d="M179.3 193.8L181.6 196.0L179.3 198.3L177.1 196.0Z" fill="#555555" stroke="#a0a0a0" stroke-width="0.4"/>
<path d="M179.7 194.4L182.0 196.6L179.7 198.9L177.5 196.6Z" fill="#555555" stroke="#a0a0a0" stroke-width="0.4"/>
<path d="M180.1 197.5L182.4 199.8L180.1 202.0L177.9 199.8Z" fill="#555555" stroke="#a0a0a0" stroke-width="0.4"/>
<path d="M169.9 181.5L172.2 183.8L169.9 186.0L167.7 183.8Z" fill="#555555" stroke="#a0a0a0" stroke-width="0.4"/>
<path d="M173.0 171.3L175.3 173.5L173.0 175.8L170.8 173.5Z" fill="#555555" stroke="#a0a0a0" stroke-width="0.4"/>
<path d="M176.1 178.6L178.4 180.9L176.1 183.1L173.9 180.9Z" fill="#555555" stroke="#a0a0a0" stroke-width="0.4"/>
<path d="M179.6 176.8L181.8 179.0L179.6 181.3L177.3 179.0Z" fill="#555555" stroke="#a0a0a0" stroke-width="0.4"/>
<path d="M182.7 186.0L185.0 188.3L182.7 190.5L180.5 188.3Z" fill="#555555" stroke="#a0a0a0" stroke-width="0.4"/>
<path d="M185.9 173.2L188.2 175.5L185.9 177.7L183.7 175.5Z" fill="#555555" stroke="#a0a0a0" stroke-width="0.4"/>
<path d="M189.4 186.2L191.7 188.5L189.4 190.7L187.2 188.5Z" fill="#555555" stroke="#a0a0a0" stroke-width="0.4"/>
<path d="M192.5 167.4L194.7 169.7L192.5 171.9L190.2 169.7Z" fill="#555555" stroke="#a0a0a0" stroke-width="0.4"/>
<path d="M195.5 181.7L197.7 184.0L195.5 186.2L193.2 184.0Z" fill="#555555" stroke="#a0a0a0" stroke-width="0.4"/>
<path d="M198.8 187.5L201.1 189.8L198.8 192.0L196.6 189.8Z" fill="#555555" stroke="#a0a0a0" stroke-width="0.4"/>
<path d="M201.7 182.4L204.0 184.7L201.7 186.9L199.5 184.7Z" fill="#555555" stroke="#a0a0a0" stroke-width="0.4"/>
<path d="M205.1 186.4L207.3 188.7L205.1 190.9L202.8 188.7Z" fill="#555555" stroke="#a0a0a0" stroke-width="0.4"/>
<path d="M208.4 184.9L210.6 187.1L208.4 189.4L206.1 187.1Z" fill="#555555" stroke="#a0a0a0" stroke-width="0.4"/>
<path d="M211.5 170.4L213.7 172.6L211.5 174.9L209.2 172.6Z" fill="#555555" stroke="#a0a0a0" stroke-width="0.4"/>
<path d="M214.6 175.3L216.8 177.6L214.6 179.8L212.3 177.6Z" fill="#555555" stroke="#a0a0a0" stroke-width="0.4"/>
<path d="M217.8 186.4L220.0 188.6L217.8 190.9L215.5 188.6Z" fill="#555555" stroke="#a0a0a0" stroke-width="0.4"/>
<path d="M221.5 180.9L223.7 183.2L221.5 185.4L219.2 183.2Z" fill="#555555" stroke="#a0a0a0" stroke-width="0.4"/>
<path d="M224.2 178.8L226.4 181.0L224.2 183.3L221.9 181.0Z" fill="#555555" stroke="#a0a0a0" stroke-width="0.4"/>
<path d="M227.5 188.4L229.7 190.6L227.5 192.9L225.2 190.6Z" fill="#555555" stroke="#a0a0a0" stroke-width="0.4"/>
<path d="M230.9 182.7L233.1 185.0L230.9 187.2L228.6 185.0Z" fill="#555555" stroke="#a0a0a0" stroke-width="0.4"/>
<path d="M233.9 167.9L236.2 170.1L233.9 172.4L231.7 170.1Z" fill="#555555" stroke="#a0a0a0" stroke-width="0.4"/>
<path d="M237.0 173.4L239.3 175.7L237.0 177.9L234.8 175.7Z" fill="#555555" stroke="#a0a0a0" stroke-width="0.4"/>
<path d="M240.5 180.8L242.7 183.1L240.5 185.3L238.2 183.1Z" fill="#555555" stroke="#a0a0a0" stroke-width="0.4"/>
<path d="M243.4 178.1L245.7 180.3L243.4 182.6L241.2 180.3Z" fill="#555555" stroke="#a0a0a0" stroke-width="0.4"/>
<path d="M247.1 174.8L249.4 177.1L247.1 179.3L244.9 177.1Z" fill="#555555" stroke="#a0a0a0" stroke-width="0.4"/>
<path d="M249.8 179.4L252.1 181.6L249.8 183.9L247.6 181.6Z" fill="#555555" stroke="#a0a0a0" stroke-width="0.4"/>
<path d="M253.1 178.3L255.3 180.6L253.1 182.8L250.8 180.6Z" fill="#555555" stroke="#a0a0a0" stroke-width="0.4"/>
<path d="M256.5 191.5L258.8 193.7L256.5 196.0L254.3 193.7Z" fill="#555555" stroke="#a0a0a0" stroke-width="0.4"/>
<path d="M259.2 181.1L261.5 183.4L259.2 185.6L257.0 183.4Z" fill="#555555" stroke="#a0a0a0" stroke-width="0.4"/>
<path d="M262.8 180.9L265.1 183.1L262.8 185.4L260.6 183.1Z" fill="#555555" stroke="#a0a0a0" stroke-width="0.4"/>
<path d="M266.0 179.5L268.2 181.8L266.0 184.0L263.7 181.8Z" fill="#555555" stroke="#a0a0a0" stroke-width="0.4"/>
<path d="M269.4 178.9L271.7 181.2L269.4 183.4L267.2 181.2Z" fill="#555555" stroke="#a0a0a0" stroke-width="0.4"/>
<path d="M272.4 181.9L274.6 184.1L272.4 186.4L270.1 184.1Z" fill="#555555" stroke="#a0a0a0" stroke-width="0.4"/>
<path d="M275.6 181.0L277.9 183.3L275.6 185.5L273.4 183.3Z" fill="#555555" stroke="#a0a0a0" stroke-width="0.4"/>
<path d="M279.0 182.1L281.2 184.4L279.0 186.6L276.7 184.4Z" fill="#555555" stroke="#a0a0a0" stroke-width="0.4"/>
<path d="M282.0 182.0L284.3 184.3L282.0 186.5L279.8 184.3Z" fill="#555555" stroke="#a0a0a0" stroke-width="0.4"/>
<path d="M285.0 177.5L287.2 179.8L285.0 182.0L282.7 179.8Z" fill="#555555" stroke="#a0a0a0" stroke-width="0.4"/>
<path d="M179.9 189.0L182.1 191.3L179.9 193.5L177.6 191.3Z" fill="#555555" stroke="#a0a0a0" stroke-width="0.4"/>
<path d="M184.5 194.7L186.8 196.9L184.5 199.2L182.3 196.9Z" fill="#555555" stroke="#a0a0a0" stroke-width="0.4"/>
<path d="M188.6 198.8L190.9 201.1L188.6 203.3L186.4 201.1Z" fill="#555555" stroke="#a0a0a0" stroke-width="0.4"/>
<path d="M193.5 192.6L195.8 194.9L193.5 197.1L191.3 194.9Z" fill="#555555" stroke="#a0a0a0" stroke-width="0.4"/>
<path d="M198.2 193.3L200.5 195.6L198.2 197.8L196.0 195.6Z" fill="#555555" stroke="#a0a0a0" stroke-width="0.4"/>
<path d="M202.4 200.8L204.6 203.1L202.4 205.3L200.1 203.1Z" fill="#555555" stroke="#a0a0a0" stroke-width="0.4"/>
<path d="M206.8 192.9L209.0 195.1L206.8 197.4L204.5 195.1Z" fill="#555555" stroke="#a0a0a0" stroke-width="0.4"/>
<path d="M211.7 189.6L213.9 191.8L211.7 194.1L209.4 191.8Z" fill="#555555" stroke="#a0a0a0" stroke-width="0.4"/>
<path d="M216.0 194.8L218.2 197.0L216.0 199.3L213.7 197.0Z" fill="#555555" stroke="#a0a0a0" stroke-width="0.4"/>
<path d="M221.0 190.4L223.2 192.6L221.0 194.9L218.7 192.6Z" fill="#555555" stroke="#a0a0a0" stroke-width="0.4"/>
<path d="M225.0 195.9L227.2 198.1L225.0 200.4L222.7 198.1Z" fill="#555555" stroke="#a0a0a0" stroke-width="0.4"/>
<path d="M229.5 189.4L231.8 191.7L229.5 193.9L227.3 191.7Z" fill="#555555" stroke="#a0a0a0" stroke-width="0.4"/>
<path d="M234.1 194.1L236.3 196.4L234.1 198.6L231.8 196.4Z" fill="#555555" stroke="#a0a0a0" stroke-width="0.4"/>
<path d="M238.6 197.8L240.8 200.0L238.6 202.3L236.3 200.0Z" fill="#555555" stroke="#a0a0a0" stroke-width="0.4"/>
<path d="M243.2 195.3L245.5 197.6L243.2 199.8L241.0 197.6Z" fill="#555555" stroke="#a0a0a0" stroke-width="0.4"/>
<path d="M247.6 190.1L249.8 192.4L247.6 194.6L245.3 192.4Z" fill="#555555" stroke="#a0a0a0" stroke-width="0.4"/>
<path d="M252.0 194.8L254.2 197.1L252.0 199.3L249.7 197.1Z" fill="#555555" stroke="#a0a0a0" stroke-width="0.4"/>
<path d="M256.4 194.5L258.7 196.7L256.4 199.0L254.2 196.7Z" fill="#555555" stroke="#a0a0a0" stroke-width="0.4"/>
<path d="M260.8 199.6L263.1 201.8L260.8 204.1L258.6 201.8Z" fill="#555555" stroke="#a0a0a0" stroke-width="0.4"/>
<path d="M265.9 192.9L268.2 195.2L265.9 197.4L263.7 195.2Z" fill="#555555" stroke="#a0a0a0" stroke-width="0.4"/>
<path d="M270.1 193.6L272.3 195.8L270.1 198.1L267.8 195.8Z" fill="#555555" stroke="#a0a0a0" stroke-width="0.4"/>
<path d="M274.8 196.0L277.0 198.2L274.8 200.5L272.5 198.2Z" fill="#555555" stroke="#a0a0a0" stroke-width="0.4"/>
<path d="M279.0 193.8L281.3 196.0L279.0 198.3L276.8 196.0Z" fill="#555555" stroke="#a0a0a0" stroke-width="0.4"/>
<path d="M283.5 191.1L285.8 193.4L283.5 195.6L281.3 193.4Z" fill="#555555" stroke="#a0a0a0" stroke-width="0.4"/>
<path d="M173.8 193.8L176.3 196.3L173.8 198.8L171.3 196.3Z" fill="#fff" stroke="#6e6e6e" stroke-width="0.8"/>
<path d="M151.3 183.2L153.8 185.7L151.3 188.2L148.8 185.7Z" fill="#fff" stroke="#6e6e6e" stroke-width="0.8"/>
<path d="M139.9 187.7L142.4 190.2L139.9 192.7L137.4 190.2Z" fill="#fff" stroke="#6e6e6e" stroke-width="0.8"/>
<path d="M144.9 174.9L147.4 177.4L144.9 179.9L142.4 177.4Z" fill="#fff" stroke="#6e6e6e" stroke-width="0.8"/>
<path d="M169.6 191.6L172.1 194.1L169.6 196.6L167.1 194.1Z" fill="#fff" stroke="#6e6e6e" stroke-width="0.8"/>
<path d="M180.4 192.3L182.9 194.8L180.4 197.3L177.9 194.8Z" fill="#fff" stroke="#6e6e6e" stroke-width="0.8"/>
<path d="M180.8 195.7L183.3 198.2L180.8 200.7L178.3 198.2Z" fill="#fff" stroke="#6e6e6e" stroke-width="0.8"/>
<path d="M181.3 193.6L183.8 196.1L181.3 198.6L178.8 196.1Z" fill="#fff" stroke="#6e6e6e" stroke-width="0.8"/>
<path d="M182.4 194.2L184.9 196.7L182.4 199.2L179.9 196.7Z" fill="#fff" stroke="#6e6e6e" stroke-width="0.8"/>
<path d="M183.1 192.4L185.6 194.9L183.1 197.4L180.6 194.9Z" fill="#fff" stroke="#6e6e6e" stroke-width="0.8"/>
<path d="M183.8 193.7L186.3 196.2L183.8 198.7L181.3 196.2Z" fill="#fff" stroke="#6e6e6e" stroke-width="0.8"/>
<path d="M184.8 195.9L187.3 198.4L184.8 200.9L182.3 198.4Z" fill="#fff" stroke="#6e6e6e" stroke-width="0.8"/>
<path d="M185.2 185.8L187.7 188.3L185.2 190.8L182.7 188.3Z" fill="#fff" stroke="#6e6e6e" stroke-width="0.8"/>
<path d="M186.1 196.0L188.6 198.5L186.1 201.0L183.6 198.5Z" fill="#fff" stroke="#6e6e6e" stroke-width="0.8"/>
<path d="M186.6 187.2L189.1 189.7L186.6 192.2L184.1 189.7Z" fill="#fff" stroke="#6e6e6e" stroke-width="0.8"/>
<path d="M187.3 196.6L189.8 199.1L187.3 201.6L184.8 199.1Z" fill="#fff" stroke="#6e6e6e" stroke-width="0.8"/>
<path d="M188.0 192.2L190.5 194.7L188.0 197.2L185.5 194.7Z" fill="#fff" stroke="#6e6e6e" stroke-width="0.8"/>
<path d="M189.0 197.6L191.5 200.1L189.0 202.6L186.5 200.1Z" fill="#fff" stroke="#6e6e6e" stroke-width="0.8"/>
<path d="M189.7 193.4L192.2 195.9L189.7 198.4L187.2 195.9Z" fill="#fff" stroke="#6e6e6e" stroke-width="0.8"/>
<path d="M190.4 198.9L192.9 201.4L190.4 203.9L187.9 201.4Z" fill="#fff" stroke="#6e6e6e" stroke-width="0.8"/>
<path d="M191.5 193.4L194.0 195.9L191.5 198.4L189.0 195.9Z" fill="#fff" stroke="#6e6e6e" stroke-width="0.8"/>
<path d="M191.7 191.2L194.2 193.7L191.7 196.2L189.2 193.7Z" fill="#fff" stroke="#6e6e6e" stroke-width="0.8"/>
<path d="M192.9 191.4L195.4 193.9L192.9 196.4L190.4 193.9Z" fill="#fff" stroke="#6e6e6e" stroke-width="0.8"/>
<path d="M193.7 194.9L196.2 197.4L193.7 199.9L191.2 197.4Z" fill="#fff" stroke="#6e6e6e" stroke-width="0.8"/>
<path d="M194.3 195.9L196.8 198.4L194.3 200.9L191.8 198.4Z" fill="#fff" stroke="#6e6e6e" stroke-width="0.8"/>
<path d="M195.1 191.0L197.6 193.5L195.1 196.0L192.6 193.5Z" fill="#fff" stroke="#6e6e6e" stroke-width="0.8"/>
<path d="M195.7 201.3L198.2 203.8L195.7 206.3L193.2 203.8Z" fill="#fff" stroke="#6e6e6e" stroke-width="0.8"/>
<path d="M196.3 192.3L198.8 194.8L196.3 197.3L193.8 194.8Z" fill="#fff" stroke="#6e6e6e" stroke-width="0.8"/>
<path d="M197.5 193.3L200.0 195.8L197.5 198.3L195.0 195.8Z" fill="#fff" stroke="#6e6e6e" stroke-width="0.8"/>
<path d="M197.8 189.6L200.3 192.1L197.8 194.6L195.3 192.1Z" fill="#fff" stroke="#6e6e6e" stroke-width="0.8"/>
<path d="M198.9 197.1L201.4 199.6L198.9 202.1L196.4 199.6Z" fill="#fff" stroke="#6e6e6e" stroke-width="0.8"/>
<path d="M199.8 194.0L202.3 196.5L199.8 199.0L197.3 196.5Z" fill="#fff" stroke="#6e6e6e" stroke-width="0.8"/>
<path d="M200.5 190.6L203.0 193.1L200.5 195.6L198.0 193.1Z" fill="#fff" stroke="#6e6e6e" stroke-width="0.8"/>
<path d="M201.0 191.7L203.5 194.2L201.0 196.7L198.5 194.2Z" fill="#fff" stroke="#6e6e6e" stroke-width="0.8"/>
<path d="M201.8 196.3L204.3 198.8L201.8 201.3L199.3 198.8Z" fill="#fff" stroke="#6e6e6e" stroke-width="0.8"/>
<path d="M202.7 190.7L205.2 193.2L202.7 195.7L200.2 193.2Z" fill="#fff" stroke="#6e6e6e" stroke-width="0.8"/>
<path d="M203.5 192.4L206.0 194.9L203.5 197.4L201.0 194.9Z" fill="#fff" stroke="#6e6e6e" stroke-width="0.8"/>
<path d="M203.8 193.4L206.3 195.9L203.8 198.4L201.3 195.9Z" fill="#fff" stroke="#6e6e6e" stroke-width="0.8"/>
<path d="M204.5 194.0L207.0 196.5L204.5 199.0L202.0 196.5Z" fill="#fff" stroke="#6e6e6e" stroke-width="0.8"/>
<path d="M205.6 193.3L208.1 195.8L205.6 198.3L203.1 195.8Z" fill="#fff" stroke="#6e6e6e" stroke-width="0.8"/>
<path d="M206.4 193.0L208.9 195.5L206.4 198.0L203.9 195.5Z" fill="#fff" stroke="#6e6e6e" stroke-width="0.8"/>
<path d="M207.0 189.4L209.5 191.9L207.0 194.4L204.5 191.9Z" fill="#fff" stroke="#6e6e6e" stroke-width="0.8"/>
<path d="M207.8 191.3L210.3 193.8L207.8 196.3L205.3 193.8Z" fill="#fff" stroke="#6e6e6e" stroke-width="0.8"/>
<path d="M208.4 193.7L210.9 196.2L208.4 198.7L205.9 196.2Z" fill="#fff" stroke="#6e6e6e" stroke-width="0.8"/>
<path d="M209.3 188.8L211.8 191.3L209.3 193.8L206.8 191.3Z" fill="#fff" stroke="#6e6e6e" stroke-width="0.8"/>
<path d="M209.7 193.1L212.2 195.6L209.7 198.1L207.2 195.6Z" fill="#fff" stroke="#6e6e6e" stroke-width="0.8"/>
<path d="M210.8 195.2L213.3 197.7L210.8 200.2L208.3 197.7Z" fill="#fff" stroke="#6e6e6e" stroke-width="0.8"/>
<path d="M211.7 198.2L214.2 200.7L211.7 203.2L209.2 200.7Z" fill="#fff" stroke="#6e6e6e" stroke-width="0.8"/>
<path d="M212.3 194.0L214.8 196.5L212.3 199.0L209.8 196.5Z" fill="#fff" stroke="#6e6e6e" stroke-width="0.8"/>
<path d="M212.8 191.1L215.3 193.6L212.8 196.1L210.3 193.6Z" fill="#fff" stroke="#6e6e6e" stroke-width="0.8"/>
<path d="M213.7 195.0L216.2 197.5L213.7 200.0L211.2 197.5Z" fill="#fff" stroke="#6e6e6e" stroke-width="0.8"/>
<path d="M214.5 194.1L217.0 196.6L214.5 199.1L212.0 196.6Z" fill="#fff" stroke="#6e6e6e" stroke-width="0.8"/>
<path d="M215.2 196.2L217.7 198.7L215.2 201.2L212.7 198.7Z" fill="#fff" stroke="#6e6e6e" stroke-width="0.8"/>
<path d="M216.0 195.1L218.5 197.6L216.0 200.1L213.5 197.6Z" fill="#fff" stroke="#6e6e6e" stroke-width="0.8"/>
<path d="M216.8 192.4L219.3 194.9L216.8 197.4L214.3 194.9Z" fill="#fff" stroke="#6e6e6e" stroke-width="0.8"/>
<path d="M217.3 195.8L219.8 198.3L217.3 200.8L214.8 198.3Z" fill="#fff" stroke="#6e6e6e" stroke-width="0.8"/>
<path d="M218.3 193.5L220.8 196.0L218.3 198.5L215.8 196.0Z" fill="#fff" stroke="#6e6e6e" stroke-width="0.8"/>
<path d="M218.9 201.5L221.4 204.0L218.9 206.5L216.4 204.0Z" fill="#fff" stroke="#6e6e6e" stroke-width="0.8"/>
<path d="M219.6 193.5L222.1 196.0L219.6 198.5L217.1 196.0Z" fill="#fff" stroke="#6e6e6e" stroke-width="0.8"/>
<path d="M220.6 190.5L223.1 193.0L220.6 195.5L218.1 193.0Z" fill="#fff" stroke="#6e6e6e" stroke-width="0.8"/>
<path d="M221.3 200.0L223.8 202.5L221.3 205.0L218.8 202.5Z" fill="#fff" stroke="#6e6e6e" stroke-width="0.8"/>
<path d="M222.2 196.3L224.7 198.8L222.2 201.3L219.7 198.8Z" fill="#fff" stroke="#6e6e6e" stroke-width="0.8"/>
<path d="M222.9 194.6L225.4 197.1L222.9 199.6L220.4 197.1Z" fill="#fff" stroke="#6e6e6e" stroke-width="0.8"/>
<path d="M223.7 193.8L226.2 196.3L223.7 198.8L221.2 196.3Z" fill="#fff" stroke="#6e6e6e" stroke-width="0.8"/>
<path d="M224.2 194.6L226.7 197.1L224.2 199.6L221.7 197.1Z" fill="#fff" stroke="#6e6e6e" stroke-width="0.8"/>
<path d="M225.2 195.4L227.7 197.9L225.2 200.4L222.7 197.9Z" fill="#fff" stroke="#6e6e6e" stroke-width="0.8"/>
<path d="M225.9 187.9L228.4 190.4L225.9 192.9L223.4 190.4Z" fill="#fff" stroke="#6e6e6e" stroke-width="0.8"/>
<path d="M226.7 201.8L229.2 204.3L226.7 206.8L224.2 204.3Z" fill="#fff" stroke="#6e6e6e" stroke-width="0.8"/>
<path d="M227.5 193.3L230.0 195.8L227.5 198.3L225.0 195.8Z" fill="#fff" stroke="#6e6e6e" stroke-width="0.8"/>
<path d="M227.8 195.3L230.3 197.8L227.8 200.3L225.3 197.8Z" fill="#fff" stroke="#6e6e6e" stroke-width="0.8"/>
<path d="M228.6 196.7L231.1 199.2L228.6 201.7L226.1 199.2Z" fill="#fff" stroke="#6e6e6e" stroke-width="0.8"/>
<path d="M229.4 197.5L231.9 200.0L229.4 202.5L226.9 200.0Z" fill="#fff" stroke="#6e6e6e" stroke-width="0.8"/>
<path d="M230.5 187.9L233.0 190.4L230.5 192.9L228.0 190.4Z" fill="#fff" stroke="#6e6e6e" stroke-width="0.8"/>
<path d="M231.1 192.2L233.6 194.7L231.1 197.2L228.6 194.7Z" fill="#fff" stroke="#6e6e6e" stroke-width="0.8"/>
<path d="M231.5 192.5L234.0 195.0L231.5 197.5L229.0 195.0Z" fill="#fff" stroke="#6e6e6e" stroke-width="0.8"/>
<path d="M232.5 197.8L235.0 200.3L232.5 202.8L230.0 200.3Z" fill="#fff" stroke="#6e6e6e" stroke-width="0.8"/>
<path d="M232.9 197.8L235.4 200.3L232.9 202.8L230.4 200.3Z" fill="#fff" stroke="#6e6e6e" stroke-width="0.8"/>
<path d="M234.4 196.4L236.9 198.9L234.4 201.4L231.9 198.9Z" fill="#fff" stroke="#6e6e6e" stroke-width="0.8"/>
<path d="M234.9 194.5L237.4 197.0L234.9 199.5L232.4 197.0Z" fill="#fff" stroke="#6e6e6e" stroke-width="0.8"/>
<path d="M235.3 196.2L237.8 198.7L235.3 201.2L232.8 198.7Z" fill="#fff" stroke="#6e6e6e" stroke-width="0.8"/>
<path d="M236.3 196.9L238.8 199.4L236.3 201.9L233.8 199.4Z" fill="#fff" stroke="#6e6e6e" stroke-width="0.8"/>
<path d="M237.5 196.9L240.0 199.4L237.5 201.9L235.0 199.4Z" fill="#fff" stroke="#6e6e6e" stroke-width="0.8"/>
<path d="M237.8 199.5L240.3 202.0L237.8 204.5L235.3 202.0Z" fill="#fff" stroke="#6e6e6e" stroke-width="0.8"/>
<path d="M238.2 190.9L240.7 193.4L238.2 195.9L235.7 193.4Z" fill="#fff" stroke="#6e6e6e" stroke-width="0.8"/>
<path d="M239.2 192.5L241.7 195.0L239.2 197.5L236.7 195.0Z" fill="#fff" stroke="#6e6e6e" stroke-width="0.8"/>
<path d="M240.1 193.6L242.6 196.1L240.1 198.6L237.6 196.1Z" fill="#fff" stroke="#6e6e6e" stroke-width="0.8"/>
<path d="M241.1 199.5L243.6 202.0L241.1 204.5L238.6 202.0Z" fill="#fff" stroke="#6e6e6e" stroke-width="0.8"/>
<path d="M241.7 193.4L244.2 195.9L241.7 198.4L239.2 195.9Z" fill="#fff" stroke="#6e6e6e" stroke-width="0.8"/>
<path d="M242.4 197.2L244.9 199.7L242.4 202.2L239.9 199.7Z" fill="#fff" stroke="#6e6e6e" stroke-width="0.8"/>
<path d="M242.8 195.8L245.3 198.3L242.8 200.8L240.3 198.3Z" fill="#fff" stroke="#6e6e6e" stroke-width="0.8"/>
<path d="M243.9 195.4L246.4 197.9L243.9 200.4L241.4 197.9Z" fill="#fff" stroke="#6e6e6e" stroke-width="0.8"/>
<path d="M244.8 198.6L247.3 201.1L244.8 203.6L242.3 201.1Z" fill="#fff" stroke="#6e6e6e" stroke-width="0.8"/>
<path d="M245.1 195.1L247.6 197.6L245.1 200.1L242.6 197.6Z" fill="#fff" stroke="#6e6e6e" stroke-width="0.8"/>
<path d="M245.8 196.6L248.3 199.1L245.8 201.6L243.3 199.1Z" fill="#fff" stroke="#6e6e6e" stroke-width="0.8"/>
<path d="M246.6 197.7L249.1 200.2L246.6 202.7L244.1 200.2Z" fill="#fff" stroke="#6e6e6e" stroke-width="0.8"/>
<path d="M247.6 197.8L250.1 200.3L247.6 202.8L245.1 200.3Z" fill="#fff" stroke="#6e6e6e" stroke-width="0.8"/>
<path d="M248.2 190.1L250.7 192.6L248.2 195.1L245.7 192.6Z" fill="#fff" stroke="#6e6e6e" stroke-width="0.8"/>
<path d="M249.4 194.2L251.9 196.7L249.4 199.2L246.9 196.7Z" fill="#fff" stroke="#6e6e6e" stroke-width="0.8"/>
<path d="M250.0 196.1L252.5 198.6L250.0 201.1L247.5 198.6Z" fill="#fff" stroke="#6e6e6e" stroke-width="0.8"/>
<path d="M250.6 200.6L253.1 203.1L250.6 205.6L248.1 203.1Z" fill="#fff" stroke="#6e6e6e" stroke-width="0.8"/>
<path d="M251.3 199.3L253.8 201.8L251.3 204.3L248.8 201.8Z" fill="#fff" stroke="#6e6e6e" stroke-width="0.8"/>
<path d="M251.7 197.6L254.2 200.1L251.7 202.6L249.2 200.1Z" fill="#fff" stroke="#6e6e6e" stroke-width="0.8"/>
<path d="M252.7 194.4L255.2 196.9L252.7 199.4L250.2 196.9Z" fill="#fff" stroke="#6e6e6e" stroke-width="0.8"/>
<path d="M253.5 195.9L256.0 198.4L253.5 200.9L251.0 198.4Z" fill="#fff" stroke="#6e6e6e" stroke-width="0.8"/>
<path d="M254.6 188.9L257.1 191.4L254.6 193.9L252.1 191.4Z" fill="#fff" stroke="#6e6e6e" stroke-width="0.8"/>
<path d="M255.0 192.6L257.5 195.1L255.0 197.6L252.5 195.1Z" fill="#fff" stroke="#6e6e6e" stroke-width="0.8"/>
<path d="M256.0 193.5L258.5 196.0L256.0 198.5L253.5 196.0Z" fill="#fff" stroke="#6e6e6e" stroke-width="0.8"/>
<path d="M256.6 193.6L259.1 196.1L256.6 198.6L254.1 196.1Z" fill="#fff" stroke="#6e6e6e" stroke-width="0.8"/>
<path d="M257.4 198.2L259.9 200.7L257.4 203.2L254.9 200.7Z" fill="#fff" stroke="#6e6e6e" stroke-width="0.8"/>
<path d="M257.9 195.1L260.4 197.6L257.9 200.1L255.4 197.6Z" fill="#fff" stroke="#6e6e6e" stroke-width="0.8"/>
<path d="M258.5 195.9L261.0 198.4L258.5 200.9L256.0 198.4Z" fill="#fff" stroke="#6e6e6e" stroke-width="0.8"/>
<path d="M259.7 193.2L262.2 195.7L259.7 198.2L257.2 195.7Z" fill="#fff" stroke="#6e6e6e" stroke-width="0.8"/>
<path d="M260.5 188.3L263.0 190.8L260.5 193.3L258.0 190.8Z" fill="#fff" stroke="#6e6e6e" stroke-width="0.8"/>
<path d="M260.6 190.5L263.1 193.0L260.6 195.5L258.1 193.0Z" fill="#fff" stroke="#6e6e6e" stroke-width="0.8"/>
<path d="M261.7 195.0L264.2 197.5L261.7 200.0L259.2 197.5Z" fill="#fff" stroke="#6e6e6e" stroke-width="0.8"/>
<path d="M262.5 194.8L265.0 197.3L262.5 199.8L260.0 197.3Z" fill="#fff" stroke="#6e6e6e" stroke-width="0.8"/>
<path d="M263.4 193.5L265.9 196.0L263.4 198.5L260.9 196.0Z" fill="#fff" stroke="#6e6e6e" stroke-width="0.8"/>
<path d="M263.7 191.0L266.2 193.5L263.7 196.0L261.2 193.5Z" fill="#fff" stroke="#6e6e6e" stroke-width="0.8"/>
<path d="M265.2 187.5L267.7 190.0L265.2 192.5L262.7 190.0Z" fill="#fff" stroke="#6e6e6e" stroke-width="0.8"/>
<path d="M265.5 199.7L268.0 202.2L265.5 204.7L263.0 202.2Z" fill="#fff" stroke="#6e6e6e" stroke-width="0.8"/>
<path d="M266.3 192.4L268.8 194.9L266.3 197.4L263.8 194.9Z" fill="#fff" stroke="#6e6e6e" stroke-width="0.8"/>
<path d="M267.0 197.8L269.5 200.3L267.0 202.8L264.5 200.3Z" fill="#fff" stroke="#6e6e6e" stroke-width="0.8"/>
<path d="M268.0 192.2L270.5 194.7L268.0 197.2L265.5 194.7Z" fill="#fff" stroke="#6e6e6e" stroke-width="0.8"/>
<path d="M268.7 195.9L271.2 198.4L268.7 200.9L266.2 198.4Z" fill="#fff" stroke="#6e6e6e" stroke-width="0.8"/>
<path d="M269.5 199.6L272.0 202.1L269.5 204.6L267.0 202.1Z" fill="#fff" stroke="#6e6e6e" stroke-width="0.8"/>
<path d="M269.9 190.5L272.4 193.0L269.9 195.5L267.4 193.0Z" fill="#fff" stroke="#6e6e6e" stroke-width="0.8"/>
<path d="M270.8 200.8L273.3 203.3L270.8 205.8L268.3 203.3Z" fill="#fff" stroke="#6e6e6e" stroke-width="0.8"/>
<path d="M271.6 195.9L274.1 198.4L271.6 200.9L269.1 198.4Z" fill="#fff" stroke="#6e6e6e" stroke-width="0.8"/>
<path d="M272.7 191.8L275.2 194.3L272.7 196.8L270.2 194.3Z" fill="#fff" stroke="#6e6e6e" stroke-width="0.8"/>
<path d="M273.2 193.4L275.7 195.9L273.2 198.4L270.7 195.9Z" fill="#fff" stroke="#6e6e6e" stroke-width="0.8"/>
<path d="M273.8 195.5L276.3 198.0L273.8 200.5L271.3 198.0Z" fill="#fff" stroke="#6e6e6e" stroke-width="0.8"/>
<path d="M274.8 192.2L277.3 194.7L274.8 197.2L272.3 194.7Z" fill="#fff" stroke="#6e6e6e" stroke-width="0.8"/>
<path d="M275.1 190.1L277.6 192.6L275.1 195.1L272.6 192.6Z" fill="#fff" stroke="#6e6e6e" stroke-width="0.8"/>
<path d="M276.1 193.8L278.6 196.3L276.1 198.8L273.6 196.3Z" fill="#fff" stroke="#6e6e6e" stroke-width="0.8"/>
<path d="M276.8 191.8L279.3 194.3L276.8 196.8L274.3 194.3Z" fill="#fff" stroke="#6e6e6e" stroke-width="0.8"/>
<path d="M277.4 198.6L279.9 201.1L277.4 203.6L274.9 201.1Z" fill="#fff" stroke="#6e6e6e" stroke-width="0.8"/>
<path d="M278.2 197.3L280.7 199.8L278.2 202.3L275.7 199.8Z" fill="#fff" stroke="#6e6e6e" stroke-width="0.8"/>
<path d="M279.1 194.2L281.6 196.7L279.1 199.2L276.6 196.7Z" fill="#fff" stroke="#6e6e6e" stroke-width="0.8"/>
<path d="M279.4 198.5L281.9 201.0L279.4 203.5L276.9 201.0Z" fill="#fff" stroke="#6e6e6e" stroke-width="0.8"/>
<path d="M280.5 198.5L283.0 201.0L280.5 203.5L278.0 201.0Z" fill="#fff" stroke="#6e6e6e" stroke-width="0.8"/>
<path d="M280.8 190.0L283.3 192.5L280.8 195.0L278.3 192.5Z" fill="#fff" stroke="#6e6e6e" stroke-width="0.8"/>
<path d="M281.6 192.5L284.1 195.0L281.6 197.5L279.1 195.0Z" fill="#fff" stroke="#6e6e6e" stroke-width="0.8"/>
<path d="M283.0 197.2L285.5 199.7L283.0 202.2L280.5 199.7Z" fill="#fff" stroke="#6e6e6e" stroke-width="0.8"/>
<path d="M283.5 195.8L286.0 198.3L283.5 200.8L281.0 198.3Z" fill="#fff" stroke="#6e6e6e" stroke-width="0.8"/>
<path d="M284.4 194.4L286.9 196.9L284.4 199.4L281.9 196.9Z" fill="#fff" stroke="#6e6e6e" stroke-width="0.8"/>
<path d="M332.3 200.9L334.8 203.4L332.3 205.9L329.8 203.4Z" fill="#fff" stroke="#6e6e6e" stroke-width="0.8"/>
<path d="M323.7 190.7L325.9 192.9L323.7 195.2L321.4 192.9Z" fill="#555555" stroke="#a0a0a0" stroke-width="0.4"/>
<path d="M353.2 197.1L355.7 199.6L353.2 202.1L350.7 199.6Z" fill="#fff" stroke="#6e6e6e" stroke-width="0.8"/>
<path d="M361.3 195.2L363.5 197.5L361.3 199.7L359.0 197.5Z" fill="#555555" stroke="#a0a0a0" stroke-width="0.4"/>
<path d="M374.5 204.4L376.8 206.6L374.5 208.9L372.3 206.6Z" fill="#555555" stroke="#a0a0a0" stroke-width="0.4"/>
<path d="M325.8 202.1L328.3 204.6L325.8 207.1L323.3 204.6Z" fill="#fff" stroke="#6e6e6e" stroke-width="0.8"/>
<path d="M366.1 197.8L368.3 200.0L366.1 202.3L363.8 200.0Z" fill="#555555" stroke="#a0a0a0" stroke-width="0.4"/>
<path d="M319.8 203.4L322.3 205.9L319.8 208.4L317.3 205.9Z" fill="#fff" stroke="#6e6e6e" stroke-width="0.8"/>
<path d="M318.3 198.1L320.5 200.3L318.3 202.6L316.0 200.3Z" fill="#555555" stroke="#a0a0a0" stroke-width="0.4"/>
<path d="M398.3 200.2L400.5 202.4L398.3 204.7L396.0 202.4Z" fill="#555555" stroke="#a0a0a0" stroke-width="0.4"/>
<path d="M382.1 198.8L384.3 201.0L382.1 203.3L379.8 201.0Z" fill="#555555" stroke="#a0a0a0" stroke-width="0.4"/>
<path d="M311.5 189.9L313.8 192.2L311.5 194.4L309.3 192.2Z" fill="#555555" stroke="#a0a0a0" stroke-width="0.4"/>
<path d="M295.3 193.2L297.8 195.7L295.3 198.2L292.8 195.7Z" fill="#fff" stroke="#6e6e6e" stroke-width="0.8"/>
<path d="M349.1 197.3L351.6 199.8L349.1 202.3L346.6 199.8Z" fill="#fff" stroke="#6e6e6e" stroke-width="0.8"/>
<path d="M306.9 197.9L309.4 200.4L306.9 202.9L304.4 200.4Z" fill="#fff" stroke="#6e6e6e" stroke-width="0.8"/>
<path d="M345.5 196.0L347.7 198.2L345.5 200.5L343.2 198.2Z" fill="#555555" stroke="#a0a0a0" stroke-width="0.4"/>
<path d="M381.1 182.7L383.3 185.0L381.1 187.2L378.8 185.0Z" fill="#555555" stroke="#a0a0a0" stroke-width="0.4"/>
<path d="M382.5 201.2L385.0 203.7L382.5 206.2L380.0 203.7Z" fill="#fff" stroke="#6e6e6e" stroke-width="0.8"/>
<path d="M383.4 205.0L385.9 207.5L383.4 210.0L380.9 207.5Z" fill="#fff" stroke="#6e6e6e" stroke-width="0.8"/>
<path d="M403.1 206.7L405.4 209.0L403.1 211.2L400.9 209.0Z" fill="#555555" stroke="#a0a0a0" stroke-width="0.4"/>
<path d="M364.3 196.6L366.6 198.8L364.3 201.1L362.1 198.8Z" fill="#555555" stroke="#a0a0a0" stroke-width="0.4"/>
<path d="M370.0 162.2L372.2 164.5L370.0 166.8L367.8 164.5Z" fill="#555555" stroke="#a0a0a0" stroke-width="0.4"/>
<path d="M304.4 205.0L306.9 207.5L304.4 210.0L301.9 207.5Z" fill="#fff" stroke="#6e6e6e" stroke-width="0.8"/>
<path d="M362.0 195.0L364.5 197.5L362.0 200.0L359.5 197.5Z" fill="#fff" stroke="#6e6e6e" stroke-width="0.8"/>
<path d="M353.5 190.9L355.7 193.2L353.5 195.4L351.2 193.2Z" fill="#555555" stroke="#a0a0a0" stroke-width="0.4"/>
<path d="M353.6 194.5L355.9 196.8L353.6 199.0L351.4 196.8Z" fill="#555555" stroke="#a0a0a0" stroke-width="0.4"/>
<path d="M339.0 205.6L341.5 208.1L339.0 210.6L336.5 208.1Z" fill="#fff" stroke="#6e6e6e" stroke-width="0.8"/>
<path d="M347.0 198.3L349.3 200.5L347.0 202.8L344.8 200.5Z" fill="#555555" stroke="#a0a0a0" stroke-width="0.4"/>
<path d="M396.9 190.2L399.2 192.4L396.9 194.7L394.7 192.4Z" fill="#555555" stroke="#a0a0a0" stroke-width="0.4"/>
<path d="M297.1 202.9L299.6 205.4L297.1 207.9L294.6 205.4Z" fill="#fff" stroke="#6e6e6e" stroke-width="0.8"/>
<path d="M395.1 197.3L397.4 199.6L395.1 201.8L392.9 199.6Z" fill="#555555" stroke="#a0a0a0" stroke-width="0.4"/>
<path d="M296.2 199.6L298.7 202.1L296.2 204.6L293.7 202.1Z" fill="#fff" stroke="#6e6e6e" stroke-width="0.8"/>
<path d="M292.5 194.8L295.0 197.3L292.5 199.8L290.0 197.3Z" fill="#fff" stroke="#6e6e6e" stroke-width="0.8"/>
<path d="M365.6 197.6L367.9 199.8L365.6 202.1L363.4 199.8Z" fill="#555555" stroke="#a0a0a0" stroke-width="0.4"/>
<path d="M299.1 204.9L301.3 207.1L299.1 209.4L296.8 207.1Z" fill="#555555" stroke="#a0a0a0" stroke-width="0.4"/>
<path d="M399.5 199.1L401.7 201.3L399.5 203.6L397.2 201.3Z" fill="#555555" stroke="#a0a0a0" stroke-width="0.4"/>
<path d="M368.1 198.6L370.4 200.9L368.1 203.1L365.9 200.9Z" fill="#555555" stroke="#a0a0a0" stroke-width="0.4"/>
<path d="M339.7 201.5L342.2 204.0L339.7 206.5L337.2 204.0Z" fill="#fff" stroke="#6e6e6e" stroke-width="0.8"/>
<path d="M310.6 193.9L313.1 196.4L310.6 198.9L308.1 196.4Z" fill="#fff" stroke="#6e6e6e" stroke-width="0.8"/>
<path d="M388.3 199.3L390.5 201.5L388.3 203.8L386.0 201.5Z" fill="#555555" stroke="#a0a0a0" stroke-width="0.4"/>
<path d="M308.0 198.9L310.5 201.4L308.0 203.9L305.5 201.4Z" fill="#fff" stroke="#6e6e6e" stroke-width="0.8"/>
<path d="M320.1 195.8L322.3 198.1L320.1 200.3L317.8 198.1Z" fill="#555555" stroke="#a0a0a0" stroke-width="0.4"/>
<path d="M342.0 185.6L344.2 187.8L342.0 190.1L339.7 187.8Z" fill="#555555" stroke="#a0a0a0" stroke-width="0.4"/>
<path d="M376.8 206.0L379.1 208.2L376.8 210.5L374.6 208.2Z" fill="#555555" stroke="#a0a0a0" stroke-width="0.4"/>
<path d="M405.5 200.3L408.0 202.8L405.5 205.3L403.0 202.8Z" fill="#fff" stroke="#6e6e6e" stroke-width="0.8"/>
<path d="M378.0 193.0L380.3 195.3L378.0 197.5L375.8 195.3Z" fill="#555555" stroke="#a0a0a0" stroke-width="0.4"/>
<path d="M319.6 189.6L321.9 191.9L319.6 194.1L317.4 191.9Z" fill="#555555" stroke="#a0a0a0" stroke-width="0.4"/>
<path d="M340.5 193.4L342.8 195.6L340.5 197.9L338.3 195.6Z" fill="#555555" stroke="#a0a0a0" stroke-width="0.4"/>
<path d="M387.5 199.5L389.8 201.8L387.5 204.0L385.3 201.8Z" fill="#555555" stroke="#a0a0a0" stroke-width="0.4"/>
<path d="M404.1 203.6L406.6 206.1L404.1 208.6L401.6 206.1Z" fill="#fff" stroke="#6e6e6e" stroke-width="0.8"/>
<path d="M315.3 204.6L317.6 206.9L315.3 209.1L313.1 206.9Z" fill="#555555" stroke="#a0a0a0" stroke-width="0.4"/>
<path d="M287.2 193.5L289.7 196.0L287.2 198.5L284.7 196.0Z" fill="#fff" stroke="#6e6e6e" stroke-width="0.8"/>
<path d="M350.3 204.0L352.8 206.5L350.3 209.0L347.8 206.5Z" fill="#fff" stroke="#6e6e6e" stroke-width="0.8"/>
<path d="M358.1 201.9L360.6 204.4L358.1 206.9L355.6 204.4Z" fill="#fff" stroke="#6e6e6e" stroke-width="0.8"/>
<path d="M288.9 193.7L291.4 196.2L288.9 198.7L286.4 196.2Z" fill="#fff" stroke="#6e6e6e" stroke-width="0.8"/>
<path d="M369.1 195.2L371.4 197.4L369.1 199.7L366.9 197.4Z" fill="#555555" stroke="#a0a0a0" stroke-width="0.4"/>
<path d="M314.9 200.0L317.4 202.5L314.9 205.0L312.4 202.5Z" fill="#fff" stroke="#6e6e6e" stroke-width="0.8"/>
<path d="M399.5 209.6L402.0 212.1L399.5 214.6L397.0 212.1Z" fill="#fff" stroke="#6e6e6e" stroke-width="0.8"/>
<path d="M395.9 202.2L398.4 204.7L395.9 207.2L393.4 204.7Z" fill="#fff" stroke="#6e6e6e" stroke-width="0.8"/>
<path d="M393.5 192.4L395.7 194.6L393.5 196.9L391.2 194.6Z" fill="#555555" stroke="#a0a0a0" stroke-width="0.4"/>
<path d="M334.2 183.0L336.5 185.3L334.2 187.5L332.0 185.3Z" fill="#555555" stroke="#a0a0a0" stroke-width="0.4"/>
<path d="M336.0 194.1L338.2 196.3L336.0 198.6L333.7 196.3Z" fill="#555555" stroke="#a0a0a0" stroke-width="0.4"/>
<path d="M327.7 179.3L330.0 181.5L327.7 183.8L325.5 181.5Z" fill="#555555" stroke="#a0a0a0" stroke-width="0.4"/>
<path d="M348.2 188.9L350.5 191.2L348.2 193.4L346.0 191.2Z" fill="#555555" stroke="#a0a0a0" stroke-width="0.4"/>
<path d="M300.1 187.6L302.3 189.9L300.1 192.1L297.8 189.9Z" fill="#555555" stroke="#a0a0a0" stroke-width="0.4"/>
<path d="M294.6 202.9L297.1 205.4L294.6 207.9L292.1 205.4Z" fill="#fff" stroke="#6e6e6e" stroke-width="0.8"/>
<path d="M389.2 202.4L391.7 204.9L389.2 207.4L386.7 204.9Z" fill="#fff" stroke="#6e6e6e" stroke-width="0.8"/>
<path d="M361.8 206.9L364.1 209.2L361.8 211.4L359.6 209.2Z" fill="#555555" stroke="#a0a0a0" stroke-width="0.4"/>
<path d="M384.1 195.6L386.3 197.8L384.1 200.1L381.8 197.8Z" fill="#555555" stroke="#a0a0a0" stroke-width="0.4"/>
<path d="M297.9 192.6L300.4 195.1L297.9 197.6L295.4 195.1Z" fill="#fff" stroke="#6e6e6e" stroke-width="0.8"/>
<path d="M397.9 210.3L400.1 212.5L397.9 214.8L395.6 212.5Z" fill="#555555" stroke="#a0a0a0" stroke-width="0.4"/>
<path d="M409.0 193.7L411.2 196.0L409.0 198.2L406.7 196.0Z" fill="#555555" stroke="#a0a0a0" stroke-width="0.4"/>
<path d="M320.4 189.3L322.7 191.5L320.4 193.8L318.2 191.5Z" fill="#555555" stroke="#a0a0a0" stroke-width="0.4"/>
<path d="M396.1 196.3L398.6 198.8L396.1 201.3L393.6 198.8Z" fill="#fff" stroke="#6e6e6e" stroke-width="0.8"/>
<path d="M303.3 185.3L305.6 187.6L303.3 189.8L301.1 187.6Z" fill="#555555" stroke="#a0a0a0" stroke-width="0.4"/>
<path d="M325.3 200.7L327.8 203.2L325.3 205.7L322.8 203.2Z" fill="#fff" stroke="#6e6e6e" stroke-width="0.8"/>
<path d="M285.3 194.2L287.8 196.7L285.3 199.2L282.8 196.7Z" fill="#fff" stroke="#6e6e6e" stroke-width="0.8"/>
<path d="M362.9 187.2L365.2 189.5L362.9 191.7L360.7 189.5Z" fill="#555555" stroke="#a0a0a0" stroke-width="0.4"/>
<path d="M297.3 191.3L299.6 193.5L297.3 195.8L295.1 193.5Z" fill="#555555" stroke="#a0a0a0" stroke-width="0.4"/>
<path d="M390.2 201.7L392.5 203.9L390.2 206.2L388.0 203.9Z" fill="#555555" stroke="#a0a0a0" stroke-width="0.4"/>
<path d="M394.6 190.0L396.9 192.3L394.6 194.5L392.4 192.3Z" fill="#555555" stroke="#a0a0a0" stroke-width="0.4"/>
<path d="M379.0 197.4L381.5 199.9L379.0 202.4L376.5 199.9Z" fill="#fff" stroke="#6e6e6e" stroke-width="0.8"/>
<path d="M393.3 206.9L395.8 209.4L393.3 211.9L390.8 209.4Z" fill="#fff" stroke="#6e6e6e" stroke-width="0.8"/>
<path d="M410.1 192.8L412.4 195.1L410.1 197.3L407.9 195.1Z" fill="#555555" stroke="#a0a0a0" stroke-width="0.4"/>
<path d="M307.5 196.8L310.0 199.3L307.5 201.8L305.0 199.3Z" fill="#fff" stroke="#6e6e6e" stroke-width="0.8"/>
<path d="M336.8 188.1L339.1 190.3L336.8 192.6L334.6 190.3Z" fill="#555555" stroke="#a0a0a0" stroke-width="0.4"/>
<path d="M298.4 190.0L300.7 192.2L298.4 194.5L296.2 192.2Z" fill="#555555" stroke="#a0a0a0" stroke-width="0.4"/>
<path d="M396.3 188.1L398.5 190.4L396.3 192.6L394.0 190.4Z" fill="#555555" stroke="#a0a0a0" stroke-width="0.4"/>
<path d="M409.9 199.3L412.4 201.8L409.9 204.3L407.4 201.8Z" fill="#fff" stroke="#6e6e6e" stroke-width="0.8"/>
<path d="M385.7 204.2L388.2 206.7L385.7 209.2L383.2 206.7Z" fill="#fff" stroke="#6e6e6e" stroke-width="0.8"/>
<path d="M310.4 192.1L312.7 194.4L310.4 196.6L308.2 194.4Z" fill="#555555" stroke="#a0a0a0" stroke-width="0.4"/>
<path d="M314.7 200.0L316.9 202.3L314.7 204.5L312.4 202.3Z" fill="#555555" stroke="#a0a0a0" stroke-width="0.4"/>
<path d="M355.9 192.3L358.2 194.5L355.9 196.8L353.7 194.5Z" fill="#555555" stroke="#a0a0a0" stroke-width="0.4"/>
<path d="M313.2 191.0L315.7 193.5L313.2 196.0L310.7 193.5Z" fill="#fff" stroke="#6e6e6e" stroke-width="0.8"/>
<path d="M309.8 196.9L312.3 199.4L309.8 201.9L307.3 199.4Z" fill="#fff" stroke="#6e6e6e" stroke-width="0.8"/>
<path d="M338.2 192.0L340.4 194.2L338.2 196.5L335.9 194.2Z" fill="#555555" stroke="#a0a0a0" stroke-width="0.4"/>
<path d="M388.0 189.1L390.2 191.4L388.0 193.6L385.7 191.4Z" fill="#555555" stroke="#a0a0a0" stroke-width="0.4"/>
<path d="M290.8 192.2L293.1 194.4L290.8 196.7L288.6 194.4Z" fill="#555555" stroke="#a0a0a0" stroke-width="0.4"/>
<path d="M374.8 206.4L377.3 208.9L374.8 211.4L372.3 208.9Z" fill="#fff" stroke="#6e6e6e" stroke-width="0.8"/>
<path d="M312.5 193.7L315.0 196.2L312.5 198.7L310.0 196.2Z" fill="#fff" stroke="#6e6e6e" stroke-width="0.8"/>
<path d="M331.5 192.5L333.7 194.7L331.5 197.0L329.2 194.7Z" fill="#555555" stroke="#a0a0a0" stroke-width="0.4"/>
<path d="M348.7 187.8L351.0 190.1L348.7 192.3L346.5 190.1Z" fill="#555555" stroke="#a0a0a0" stroke-width="0.4"/>
<path d="M410.7 190.0L413.2 192.5L410.7 195.0L408.2 192.5Z" fill="#fff" stroke="#6e6e6e" stroke-width="0.8"/>
<path d="M326.8 192.5L329.0 194.7L326.8 197.0L324.5 194.7Z" fill="#555555" stroke="#a0a0a0" stroke-width="0.4"/>
<path d="M341.0 201.9L343.5 204.4L341.0 206.9L338.5 204.4Z" fill="#fff" stroke="#6e6e6e" stroke-width="0.8"/>
<path d="M368.3 209.2L370.8 211.7L368.3 214.2L365.8 211.7Z" fill="#fff" stroke="#6e6e6e" stroke-width="0.8"/>
<path d="M385.2 202.4L387.4 204.7L385.2 206.9L382.9 204.7Z" fill="#555555" stroke="#a0a0a0" stroke-width="0.4"/>
<path d="M306.8 200.0L309.0 202.3L306.8 204.5L304.5 202.3Z" fill="#555555" stroke="#a0a0a0" stroke-width="0.4"/>
<path d="M354.3 202.8L356.8 205.3L354.3 207.8L351.8 205.3Z" fill="#fff" stroke="#6e6e6e" stroke-width="0.8"/>
<path d="M372.8 188.9L375.1 191.2L372.8 193.4L370.6 191.2Z" fill="#555555" stroke="#a0a0a0" stroke-width="0.4"/>
<path d="M335.7 187.9L338.0 190.1L335.7 192.4L333.5 190.1Z" fill="#555555" stroke="#a0a0a0" stroke-width="0.4"/>
<path d="M401.6 199.4L404.1 201.9L401.6 204.4L399.1 201.9Z" fill="#fff" stroke="#6e6e6e" stroke-width="0.8"/>
<path d="M360.4 202.5L362.9 205.0L360.4 207.5L357.9 205.0Z" fill="#fff" stroke="#6e6e6e" stroke-width="0.8"/>
<path d="M333.3 201.6L335.5 203.8L333.3 206.1L331.0 203.8Z" fill="#555555" stroke="#a0a0a0" stroke-width="0.4"/>
<path d="M285.1 195.9L287.6 198.4L285.1 200.9L282.6 198.4Z" fill="#fff" stroke="#6e6e6e" stroke-width="0.8"/>
<path d="M406.9 204.0L409.1 206.3L406.9 208.5L404.6 206.3Z" fill="#555555" stroke="#a0a0a0" stroke-width="0.4"/>
<path d="M390.1 197.2L392.3 199.4L390.1 201.7L387.8 199.4Z" fill="#555555" stroke="#a0a0a0" stroke-width="0.4"/>
<path d="M346.0 201.6L348.5 204.1L346.0 206.6L343.5 204.1Z" fill="#fff" stroke="#6e6e6e" stroke-width="0.8"/>
<path d="M365.5 205.7L368.0 208.2L365.5 210.7L363.0 208.2Z" fill="#fff" stroke="#6e6e6e" stroke-width="0.8"/>
<path d="M380.2 196.1L382.7 198.6L380.2 201.1L377.7 198.6Z" fill="#fff" stroke="#6e6e6e" stroke-width="0.8"/>
<path d="M301.2 205.3L303.7 207.8L301.2 210.3L298.7 207.8Z" fill="#fff" stroke="#6e6e6e" stroke-width="0.8"/>
<path d="M288.7 192.2L291.2 194.7L288.7 197.2L286.2 194.7Z" fill="#fff" stroke="#6e6e6e" stroke-width="0.8"/>
<path d="M400.3 197.9L402.6 200.2L400.3 202.4L398.1 200.2Z" fill="#555555" stroke="#a0a0a0" stroke-width="0.4"/>
<path d="M357.5 194.5L359.8 196.8L357.5 199.0L355.3 196.8Z" fill="#555555" stroke="#a0a0a0" stroke-width="0.4"/>
<path d="M390.8 194.8L393.1 197.0L390.8 199.3L388.6 197.0Z" fill="#555555" stroke="#a0a0a0" stroke-width="0.4"/>
<path d="M288.2 183.8L290.4 186.1L288.2 188.3L285.9 186.1Z" fill="#555555" stroke="#a0a0a0" stroke-width="0.4"/>
<path d="M289.6 189.7L292.1 192.2L289.6 194.7L287.1 192.2Z" fill="#fff" stroke="#6e6e6e" stroke-width="0.8"/>
<path d="M350.0 209.5L352.2 211.8L350.0 214.0L347.7 211.8Z" fill="#555555" stroke="#a0a0a0" stroke-width="0.4"/>
<path d="M397.3 206.4L399.8 208.9L397.3 211.4L394.8 208.9Z" fill="#fff" stroke="#6e6e6e" stroke-width="0.8"/>
<path d="M344.0 191.8L346.2 194.0L344.0 196.3L341.7 194.0Z" fill="#555555" stroke="#a0a0a0" stroke-width="0.4"/>
<path d="M355.3 200.6L357.8 203.1L355.3 205.6L352.8 203.1Z" fill="#fff" stroke="#6e6e6e" stroke-width="0.8"/>
<path d="M390.0 205.6L392.5 208.1L390.0 210.6L387.5 208.1Z" fill="#fff" stroke="#6e6e6e" stroke-width="0.8"/>
<path d="M369.7 185.5L372.0 187.8L369.7 190.0L367.5 187.8Z" fill="#555555" stroke="#a0a0a0" stroke-width="0.4"/>
<path d="M335.2 197.5L337.5 199.8L335.2 202.0L333.0 199.8Z" fill="#555555" stroke="#a0a0a0" stroke-width="0.4"/>
<path d="M367.6 200.4L369.9 202.7L367.6 204.9L365.4 202.7Z" fill="#555555" stroke="#a0a0a0" stroke-width="0.4"/>
<path d="M359.8 177.8L362.0 180.1L359.8 182.3L357.5 180.1Z" fill="#555555" stroke="#a0a0a0" stroke-width="0.4"/>
<path d="M369.8 210.7L372.3 213.2L369.8 215.7L367.3 213.2Z" fill="#fff" stroke="#6e6e6e" stroke-width="0.8"/>
<path d="M286.8 194.2L289.3 196.7L286.8 199.2L284.3 196.7Z" fill="#fff" stroke="#6e6e6e" stroke-width="0.8"/>
<path d="M406.4 198.0L408.7 200.2L406.4 202.5L404.2 200.2Z" fill="#555555" stroke="#a0a0a0" stroke-width="0.4"/>
<path d="M308.9 178.9L311.1 181.1L308.9 183.4L306.6 181.1Z" fill="#555555" stroke="#a0a0a0" stroke-width="0.4"/>
<path d="M367.7 202.8L370.2 205.3L367.7 207.8L365.2 205.3Z" fill="#fff" stroke="#6e6e6e" stroke-width="0.8"/>
<path d="M399.4 182.5L401.6 184.8L399.4 187.0L397.1 184.8Z" fill="#555555" stroke="#a0a0a0" stroke-width="0.4"/>
<path d="M333.7 195.6L336.2 198.1L333.7 200.6L331.2 198.1Z" fill="#fff" stroke="#6e6e6e" stroke-width="0.8"/>
<path d="M356.5 201.7L359.0 204.2L356.5 206.7L354.0 204.2Z" fill="#fff" stroke="#6e6e6e" stroke-width="0.8"/>
<path d="M371.3 190.5L373.5 192.8L371.3 195.0L369.0 192.8Z" fill="#555555" stroke="#a0a0a0" stroke-width="0.4"/>
<path d="M347.8 203.0L350.3 205.5L347.8 208.0L345.3 205.5Z" fill="#fff" stroke="#6e6e6e" stroke-width="0.8"/>
<path d="M299.7 193.8L301.9 196.0L299.7 198.3L297.4 196.0Z" fill="#555555" stroke="#a0a0a0" stroke-width="0.4"/>
<path d="M319.0 184.7L321.2 187.0L319.0 189.2L316.7 187.0Z" fill="#555555" stroke="#a0a0a0" stroke-width="0.4"/>
<path d="M392.4 199.7L394.9 202.2L392.4 204.7L389.9 202.2Z" fill="#fff" stroke="#6e6e6e" stroke-width="0.8"/>
<path d="M350.5 186.6L352.8 188.9L350.5 191.1L348.3 188.9Z" fill="#555555" stroke="#a0a0a0" stroke-width="0.4"/>
<path d="M402.2 189.5L404.5 191.7L402.2 194.0L400.0 191.7Z" fill="#555555" stroke="#a0a0a0" stroke-width="0.4"/>
<path d="M342.7 201.6L345.0 203.8L342.7 206.1L340.5 203.8Z" fill="#555555" stroke="#a0a0a0" stroke-width="0.4"/>
<path d="M418.0 204.8L420.2 207.0L418.0 209.2L415.8 207.0Z" fill="#555555" stroke="#a0a0a0" stroke-width="0.4"/>
<path d="M301.9 194.8L304.4 197.3L301.9 199.8L299.4 197.3Z" fill="#fff" stroke="#6e6e6e" stroke-width="0.8"/>
<path d="M355.1 197.6L357.4 199.8L355.1 202.1L352.9 199.8Z" fill="#555555" stroke="#a0a0a0" stroke-width="0.4"/>
<path d="M343.4 203.3L345.7 205.5L343.4 207.8L341.2 205.5Z" fill="#555555" stroke="#a0a0a0" stroke-width="0.4"/>
<path d="M397.2 195.4L399.4 197.7L397.2 199.9L394.9 197.7Z" fill="#555555" stroke="#a0a0a0" stroke-width="0.4"/>
<path d="M288.1 192.2L290.4 194.5L288.1 196.7L285.9 194.5Z" fill="#555555" stroke="#a0a0a0" stroke-width="0.4"/>
<path d="M351.2 202.4L353.4 204.7L351.2 206.9L348.9 204.7Z" fill="#555555" stroke="#a0a0a0" stroke-width="0.4"/>
<path d="M404.4 192.9L406.6 195.2L404.4 197.4L402.1 195.2Z" fill="#555555" stroke="#a0a0a0" stroke-width="0.4"/>
<path d="M385.2 198.6L387.7 201.1L385.2 203.6L382.7 201.1Z" fill="#fff" stroke="#6e6e6e" stroke-width="0.8"/>
<path d="M304.7 186.7L307.0 188.9L304.7 191.2L302.5 188.9Z" fill="#555555" stroke="#a0a0a0" stroke-width="0.4"/>
<path d="M341.5 194.8L343.7 197.1L341.5 199.3L339.2 197.1Z" fill="#555555" stroke="#a0a0a0" stroke-width="0.4"/>
<path d="M372.0 208.1L374.3 210.4L372.0 212.6L369.8 210.4Z" fill="#555555" stroke="#a0a0a0" stroke-width="0.4"/>
<path d="M395.0 192.2L397.3 194.4L395.0 196.7L392.8 194.4Z" fill="#555555" stroke="#a0a0a0" stroke-width="0.4"/>
<path d="M294.4 179.5L296.7 181.8L294.4 184.0L292.2 181.8Z" fill="#555555" stroke="#a0a0a0" stroke-width="0.4"/>
<path d="M322.7 202.9L325.2 205.4L322.7 207.9L320.2 205.4Z" fill="#fff" stroke="#6e6e6e" stroke-width="0.8"/>
<path d="M409.3 191.4L411.6 193.6L409.3 195.9L407.1 193.6Z" fill="#555555" stroke="#a0a0a0" stroke-width="0.4"/>
<path d="M382.2 194.5L384.4 196.8L382.2 199.0L379.9 196.8Z" fill="#555555" stroke="#a0a0a0" stroke-width="0.4"/>
<path d="M391.4 195.7L393.9 198.2L391.4 200.7L388.9 198.2Z" fill="#fff" stroke="#6e6e6e" stroke-width="0.8"/>
<path d="M316.1 192.7L318.3 195.0L316.1 197.2L313.8 195.0Z" fill="#555555" stroke="#a0a0a0" stroke-width="0.4"/>
<path d="M393.5 201.3L396.0 203.8L393.5 206.3L391.0 203.8Z" fill="#fff" stroke="#6e6e6e" stroke-width="0.8"/>
<path d="M351.8 193.7L354.3 196.2L351.8 198.7L349.3 196.2Z" fill="#fff" stroke="#6e6e6e" stroke-width="0.8"/>
<path d="M321.2 198.7L323.7 201.2L321.2 203.7L318.7 201.2Z" fill="#fff" stroke="#6e6e6e" stroke-width="0.8"/>
<path d="M380.2 191.7L382.4 194.0L380.2 196.2L377.9 194.0Z" fill="#555555" stroke="#a0a0a0" stroke-width="0.4"/>
<path d="M360.7 199.8L363.0 202.1L360.7 204.3L358.5 202.1Z" fill="#555555" stroke="#a0a0a0" stroke-width="0.4"/>
<path d="M360.1 183.5L362.4 185.7L360.1 188.0L357.9 185.7Z" fill="#555555" stroke="#a0a0a0" stroke-width="0.4"/>
<path d="M374.4 203.8L376.9 206.3L374.4 208.8L371.9 206.3Z" fill="#fff" stroke="#6e6e6e" stroke-width="0.8"/>
<path d="M385.0 189.6L387.2 191.9L385.0 194.1L382.7 191.9Z" fill="#555555" stroke="#a0a0a0" stroke-width="0.4"/>
<path d="M404.4 193.3L406.9 195.8L404.4 198.3L401.9 195.8Z" fill="#fff" stroke="#6e6e6e" stroke-width="0.8"/>
<path d="M317.9 200.8L320.4 203.3L317.9 205.8L315.4 203.3Z" fill="#fff" stroke="#6e6e6e" stroke-width="0.8"/>
<path d="M375.1 184.5L377.4 186.7L375.1 189.0L372.9 186.7Z" fill="#555555" stroke="#a0a0a0" stroke-width="0.4"/>
<path d="M316.3 198.8L318.6 201.0L316.3 203.3L314.1 201.0Z" fill="#555555" stroke="#a0a0a0" stroke-width="0.4"/>
<path d="M347.7 197.1L349.9 199.4L347.7 201.6L345.4 199.4Z" fill="#555555" stroke="#a0a0a0" stroke-width="0.4"/>
<path d="M301.9 205.3L304.2 207.6L301.9 209.8L299.7 207.6Z" fill="#555555" stroke="#a0a0a0" stroke-width="0.4"/>
<path d="M320.8 187.2L323.0 189.4L320.8 191.7L318.5 189.4Z" fill="#555555" stroke="#a0a0a0" stroke-width="0.4"/>
<path d="M391.2 201.6L393.4 203.9L391.2 206.1L388.9 203.9Z" fill="#555555" stroke="#a0a0a0" stroke-width="0.4"/>
<path d="M402.9 197.0L405.1 199.3L402.9 201.5L400.6 199.3Z" fill="#555555" stroke="#a0a0a0" stroke-width="0.4"/>
<path d="M405.6 198.4L407.8 200.7L405.6 202.9L403.3 200.7Z" fill="#555555" stroke="#a0a0a0" stroke-width="0.4"/>
<path d="M362.5 203.3L365.0 205.8L362.5 208.3L360.0 205.8Z" fill="#fff" stroke="#6e6e6e" stroke-width="0.8"/>
<path d="M293.3 190.8L295.8 193.3L293.3 195.8L290.8 193.3Z" fill="#fff" stroke="#6e6e6e" stroke-width="0.8"/>
<path d="M346.4 192.6L348.6 194.8L346.4 197.1L344.1 194.8Z" fill="#555555" stroke="#a0a0a0" stroke-width="0.4"/>
<path d="M371.4 204.0L373.7 206.3L371.4 208.5L369.2 206.3Z" fill="#555555" stroke="#a0a0a0" stroke-width="0.4"/>
<path d="M329.9 191.4L332.1 193.6L329.9 195.9L327.6 193.6Z" fill="#555555" stroke="#a0a0a0" stroke-width="0.4"/>
<path d="M401.8 191.2L404.3 193.7L401.8 196.2L399.3 193.7Z" fill="#fff" stroke="#6e6e6e" stroke-width="0.8"/>
<path d="M405.1 192.9L407.3 195.1L405.1 197.4L402.8 195.1Z" fill="#555555" stroke="#a0a0a0" stroke-width="0.4"/>
<path d="M301.2 191.9L303.5 194.2L301.2 196.4L299.0 194.2Z" fill="#555555" stroke="#a0a0a0" stroke-width="0.4"/>
<path d="M330.5 195.8L333.0 198.3L330.5 200.8L328.0 198.3Z" fill="#fff" stroke="#6e6e6e" stroke-width="0.8"/>
<path d="M348.3 205.5L350.8 208.0L348.3 210.5L345.8 208.0Z" fill="#fff" stroke="#6e6e6e" stroke-width="0.8"/>
<path d="M393.0 200.7L395.2 203.0L393.0 205.2L390.7 203.0Z" fill="#555555" stroke="#a0a0a0" stroke-width="0.4"/>
<path d="M377.8 191.0L380.3 193.5L377.8 196.0L375.3 193.5Z" fill="#fff" stroke="#6e6e6e" stroke-width="0.8"/>
<path d="M334.0 183.2L336.3 185.5L334.0 187.7L331.8 185.5Z" fill="#555555" stroke="#a0a0a0" stroke-width="0.4"/>
<path d="M356.3 190.4L358.6 192.7L356.3 194.9L354.1 192.7Z" fill="#555555" stroke="#a0a0a0" stroke-width="0.4"/>
<path d="M301.1 185.3L303.3 187.6L301.1 189.8L298.8 187.6Z" fill="#555555" stroke="#a0a0a0" stroke-width="0.4"/>
<path d="M331.8 193.3L334.0 195.5L331.8 197.8L329.5 195.5Z" fill="#555555" stroke="#a0a0a0" stroke-width="0.4"/>
<path d="M345.9 198.4L348.2 200.7L345.9 202.9L343.7 200.7Z" fill="#555555" stroke="#a0a0a0" stroke-width="0.4"/>
<path d="M311.7 196.8L314.2 199.3L311.7 201.8L309.2 199.3Z" fill="#fff" stroke="#6e6e6e" stroke-width="0.8"/>
<path d="M343.4 201.4L345.9 203.9L343.4 206.4L340.9 203.9Z" fill="#fff" stroke="#6e6e6e" stroke-width="0.8"/>
<path d="M323.5 198.6L326.0 201.1L323.5 203.6L321.0 201.1Z" fill="#fff" stroke="#6e6e6e" stroke-width="0.8"/>
<path d="M291.4 186.3L293.7 188.5L291.4 190.8L289.2 188.5Z" fill="#555555" stroke="#a0a0a0" stroke-width="0.4"/>
<path d="M305.8 202.2L308.0 204.4L305.8 206.7L303.5 204.4Z" fill="#555555" stroke="#a0a0a0" stroke-width="0.4"/>
<path d="M408.5 206.8L411.0 209.3L408.5 211.8L406.0 209.3Z" fill="#fff" stroke="#6e6e6e" stroke-width="0.8"/>
<path d="M408.1 195.3L410.3 197.5L408.1 199.8L405.8 197.5Z" fill="#555555" stroke="#a0a0a0" stroke-width="0.4"/>
<path d="M302.6 200.8L305.1 203.3L302.6 205.8L300.1 203.3Z" fill="#fff" stroke="#6e6e6e" stroke-width="0.8"/>
<path d="M373.7 204.8L376.0 207.1L373.7 209.3L371.5 207.1Z" fill="#555555" stroke="#a0a0a0" stroke-width="0.4"/>
<path d="M322.4 199.1L324.7 201.4L322.4 203.6L320.2 201.4Z" fill="#555555" stroke="#a0a0a0" stroke-width="0.4"/>
<path d="M338.0 186.9L340.3 189.1L338.0 191.4L335.8 189.1Z" fill="#555555" stroke="#a0a0a0" stroke-width="0.4"/>
<path d="M293.7 182.6L295.9 184.9L293.7 187.1L291.4 184.9Z" fill="#555555" stroke="#a0a0a0" stroke-width="0.4"/>
<path d="M332.7 186.8L334.9 189.1L332.7 191.3L330.4 189.1Z" fill="#555555" stroke="#a0a0a0" stroke-width="0.4"/>
<path d="M294.6 181.5L296.8 183.8L294.6 186.0L292.3 183.8Z" fill="#555555" stroke="#a0a0a0" stroke-width="0.4"/>
<path d="M386.6 200.8L388.9 203.0L386.6 205.3L384.4 203.0Z" fill="#555555" stroke="#a0a0a0" stroke-width="0.4"/>
<path d="M306.0 199.4L308.5 201.9L306.0 204.4L303.5 201.9Z" fill="#fff" stroke="#6e6e6e" stroke-width="0.8"/>
<path d="M300.8 196.0L303.3 198.5L300.8 201.0L298.3 198.5Z" fill="#fff" stroke="#6e6e6e" stroke-width="0.8"/>
<path d="M376.8 197.1L379.3 199.6L376.8 202.1L374.3 199.6Z" fill="#fff" stroke="#6e6e6e" stroke-width="0.8"/>
<path d="M293.8 191.7L296.3 194.2L293.8 196.7L291.3 194.2Z" fill="#fff" stroke="#6e6e6e" stroke-width="0.8"/>
<path d="M351.8 198.0L354.0 200.3L351.8 202.5L349.5 200.3Z" fill="#555555" stroke="#a0a0a0" stroke-width="0.4"/>
<path d="M361.3 197.8L363.8 200.3L361.3 202.8L358.8 200.3Z" fill="#fff" stroke="#6e6e6e" stroke-width="0.8"/>
<path d="M381.2 212.7L383.7 215.2L381.2 217.7L378.7 215.2Z" fill="#fff" stroke="#6e6e6e" stroke-width="0.8"/>
<path d="M320.3 193.1L322.8 195.6L320.3 198.1L317.8 195.6Z" fill="#fff" stroke="#6e6e6e" stroke-width="0.8"/>
<path d="M362.8 201.7L365.0 203.9L362.8 206.2L360.5 203.9Z" fill="#555555" stroke="#a0a0a0" stroke-width="0.4"/>
<path d="M326.8 200.5L329.3 203.0L326.8 205.5L324.3 203.0Z" fill="#fff" stroke="#6e6e6e" stroke-width="0.8"/>
<path d="M366.8 203.0L369.3 205.5L366.8 208.0L364.3 205.5Z" fill="#fff" stroke="#6e6e6e" stroke-width="0.8"/>
<path d="M291.2 202.6L293.7 205.1L291.2 207.6L288.7 205.1Z" fill="#fff" stroke="#6e6e6e" stroke-width="0.8"/>
<path d="M359.7 197.4L362.2 199.9L359.7 202.4L357.2 199.9Z" fill="#fff" stroke="#6e6e6e" stroke-width="0.8"/>
<path d="M410.5 190.9L412.7 193.2L410.5 195.4L408.2 193.2Z" fill="#555555" stroke="#a0a0a0" stroke-width="0.4"/>
<path d="M358.9 188.7L361.1 190.9L358.9 193.2L356.6 190.9Z" fill="#555555" stroke="#a0a0a0" stroke-width="0.4"/>
<path d="M388.4 206.3L390.9 208.8L388.4 211.3L385.9 208.8Z" fill="#fff" stroke="#6e6e6e" stroke-width="0.8"/>
<path d="M375.5 199.3L378.0 201.8L375.5 204.3L373.0 201.8Z" fill="#fff" stroke="#6e6e6e" stroke-width="0.8"/>
<path d="M409.2 210.4L411.7 212.9L409.2 215.4L406.7 212.9Z" fill="#fff" stroke="#6e6e6e" stroke-width="0.8"/>
<path d="M378.3 196.0L380.5 198.2L378.3 200.5L376.0 198.2Z" fill="#555555" stroke="#a0a0a0" stroke-width="0.4"/>
<path d="M386.5 195.7L389.0 198.2L386.5 200.7L384.0 198.2Z" fill="#fff" stroke="#6e6e6e" stroke-width="0.8"/>
<path d="M341.0 187.4L343.3 189.7L341.0 191.9L338.8 189.7Z" fill="#555555" stroke="#a0a0a0" stroke-width="0.4"/>
<path d="M392.3 202.3L394.6 204.6L392.3 206.8L390.1 204.6Z" fill="#555555" stroke="#a0a0a0" stroke-width="0.4"/>
<path d="M331.2 193.8L333.4 196.0L331.2 198.3L328.9 196.0Z" fill="#555555" stroke="#a0a0a0" stroke-width="0.4"/>
<path d="M325.4 191.3L327.7 193.5L325.4 195.8L323.2 193.5Z" fill="#555555" stroke="#a0a0a0" stroke-width="0.4"/>
<path d="M344.9 195.4L347.4 197.9L344.9 200.4L342.4 197.9Z" fill="#fff" stroke="#6e6e6e" stroke-width="0.8"/>
<path d="M412.5 205.8L414.8 208.0L412.5 210.2L410.2 208.0Z" fill="#555555" stroke="#a0a0a0" stroke-width="0.4"/>
<path d="M336.4 199.6L338.9 202.1L336.4 204.6L333.9 202.1Z" fill="#fff" stroke="#6e6e6e" stroke-width="0.8"/>
<path d="M407.5 202.6L410.0 205.1L407.5 207.6L405.0 205.1Z" fill="#fff" stroke="#6e6e6e" stroke-width="0.8"/>
<path d="M406.0 191.5L408.5 194.0L406.0 196.5L403.5 194.0Z" fill="#fff" stroke="#6e6e6e" stroke-width="0.8"/>
<path d="M342.0 195.8L344.5 198.3L342.0 200.8L339.5 198.3Z" fill="#fff" stroke="#6e6e6e" stroke-width="0.8"/>
<path d="M290.1 193.1L292.4 195.3L290.1 197.6L287.9 195.3Z" fill="#555555" stroke="#a0a0a0" stroke-width="0.4"/>
<path d="M309.0 204.4L311.3 206.6L309.0 208.9L306.8 206.6Z" fill="#555555" stroke="#a0a0a0" stroke-width="0.4"/>
<path d="M321.4 196.0L323.7 198.3L321.4 200.5L319.2 198.3Z" fill="#555555" stroke="#a0a0a0" stroke-width="0.4"/>
<path d="M311.0 189.7L313.2 192.0L311.0 194.2L308.7 192.0Z" fill="#555555" stroke="#a0a0a0" stroke-width="0.4"/>
<path d="M369.5 200.4L372.0 202.9L369.5 205.4L367.0 202.9Z" fill="#fff" stroke="#6e6e6e" stroke-width="0.8"/>
<path d="M397.8 200.5L400.3 203.0L397.8 205.5L395.3 203.0Z" fill="#fff" stroke="#6e6e6e" stroke-width="0.8"/>
<path d="M312.3 187.6L314.5 189.9L312.3 192.1L310.0 189.9Z" fill="#555555" stroke="#a0a0a0" stroke-width="0.4"/>
<path d="M364.0 193.1L366.3 195.4L364.0 197.6L361.8 195.4Z" fill="#555555" stroke="#a0a0a0" stroke-width="0.4"/>
<path d="M291.0 201.9L293.5 204.4L291.0 206.9L288.5 204.4Z" fill="#fff" stroke="#6e6e6e" stroke-width="0.8"/>
<path d="M349.6 180.3L351.9 182.6L349.6 184.8L347.4 182.6Z" fill="#555555" stroke="#a0a0a0" stroke-width="0.4"/>
<path d="M383.2 198.2L385.4 200.4L383.2 202.7L380.9 200.4Z" fill="#555555" stroke="#a0a0a0" stroke-width="0.4"/>
<path d="M400.8 201.3L403.3 203.8L400.8 206.3L398.3 203.8Z" fill="#fff" stroke="#6e6e6e" stroke-width="0.8"/>
<path d="M385.8 202.0L388.1 204.3L385.8 206.5L383.6 204.3Z" fill="#555555" stroke="#a0a0a0" stroke-width="0.4"/>
<path d="M298.0 190.1L300.2 192.4L298.0 194.6L295.7 192.4Z" fill="#555555" stroke="#a0a0a0" stroke-width="0.4"/>
<path d="M304.7 199.0L306.9 201.3L304.7 203.5L302.4 201.3Z" fill="#555555" stroke="#a0a0a0" stroke-width="0.4"/>
<path d="M366.7 200.7L368.9 202.9L366.7 205.2L364.4 202.9Z" fill="#555555" stroke="#a0a0a0" stroke-width="0.4"/>
<path d="M317.3 181.1L319.6 183.4L317.3 185.6L315.1 183.4Z" fill="#555555" stroke="#a0a0a0" stroke-width="0.4"/>
<path d="M420.0 202.8L422.2 205.0L420.0 207.2L417.8 205.0Z" fill="#555555" stroke="#a0a0a0" stroke-width="0.4"/>
<path d="M422.0 198.8L424.2 201.0L422.0 203.2L419.8 201.0Z" fill="#555555" stroke="#a0a0a0" stroke-width="0.4"/>
<path d="M384.3 201.5L386.8 204.0L384.3 206.5L381.8 204.0Z" fill="#fff" stroke="#6e6e6e" stroke-width="0.8"/>
<path d="M324.6 193.3L326.9 195.5L324.6 197.8L322.4 195.5Z" fill="#555555" stroke="#a0a0a0" stroke-width="0.4"/>
<path d="M377.1 201.3L379.6 203.8L377.1 206.3L374.6 203.8Z" fill="#fff" stroke="#6e6e6e" stroke-width="0.8"/>
<path d="M379.4 211.5L381.6 213.8L379.4 216.0L377.1 213.8Z" fill="#555555" stroke="#a0a0a0" stroke-width="0.4"/>
<path d="M387.5 198.1L390.0 200.6L387.5 203.1L385.0 200.6Z" fill="#fff" stroke="#6e6e6e" stroke-width="0.8"/>
<path d="M344.3 190.1L346.6 192.3L344.3 194.6L342.1 192.3Z" fill="#555555" stroke="#a0a0a0" stroke-width="0.4"/>
<path d="M317.3 198.9L319.8 201.4L317.3 203.9L314.8 201.4Z" fill="#fff" stroke="#6e6e6e" stroke-width="0.8"/>
<path d="M352.4 191.6L354.7 193.9L352.4 196.1L350.2 193.9Z" fill="#555555" stroke="#a0a0a0" stroke-width="0.4"/>
<path d="M390.4 203.3L392.9 205.8L390.4 208.3L387.9 205.8Z" fill="#fff" stroke="#6e6e6e" stroke-width="0.8"/>
<path d="M326.2 204.4L328.4 206.7L326.2 208.9L323.9 206.7Z" fill="#555555" stroke="#a0a0a0" stroke-width="0.4"/>
<path d="M313.7 195.4L315.9 197.6L313.7 199.9L311.4 197.6Z" fill="#555555" stroke="#a0a0a0" stroke-width="0.4"/>
<path d="M379.5 199.4L382.0 201.9L379.5 204.4L377.0 201.9Z" fill="#fff" stroke="#6e6e6e" stroke-width="0.8"/>
<path d="M359.0 194.3L361.5 196.8L359.0 199.3L356.5 196.8Z" fill="#fff" stroke="#6e6e6e" stroke-width="0.8"/>
<path d="M389.3 204.2L391.6 206.4L389.3 208.7L387.1 206.4Z" fill="#555555" stroke="#a0a0a0" stroke-width="0.4"/>
<path d="M335.8 206.1L338.3 208.6L335.8 211.1L333.3 208.6Z" fill="#fff" stroke="#6e6e6e" stroke-width="0.8"/>
<path d="M323.1 189.1L325.3 191.3L323.1 193.6L320.8 191.3Z" fill="#555555" stroke="#a0a0a0" stroke-width="0.4"/>
<path d="M305.9 190.5L308.2 192.8L305.9 195.0L303.7 192.8Z" fill="#555555" stroke="#a0a0a0" stroke-width="0.4"/>
<path d="M302.1 195.0L304.4 197.2L302.1 199.5L299.9 197.2Z" fill="#555555" stroke="#a0a0a0" stroke-width="0.4"/>
<path d="M358.4 187.0L360.7 189.2L358.4 191.5L356.2 189.2Z" fill="#555555" stroke="#a0a0a0" stroke-width="0.4"/>
<path d="M377.5 192.9L379.7 195.1L377.5 197.4L375.2 195.1Z" fill="#555555" stroke="#a0a0a0" stroke-width="0.4"/>
<path d="M329.5 201.3L332.0 203.8L329.5 206.3L327.0 203.8Z" fill="#fff" stroke="#6e6e6e" stroke-width="0.8"/>
<path d="M395.2 205.8L397.7 208.3L395.2 210.8L392.7 208.3Z" fill="#fff" stroke="#6e6e6e" stroke-width="0.8"/>
<path d="M316.4 201.8L318.9 204.3L316.4 206.8L313.9 204.3Z" fill="#fff" stroke="#6e6e6e" stroke-width="0.8"/>
<path d="M377.1 193.2L379.4 195.5L377.1 197.7L374.9 195.5Z" fill="#555555" stroke="#a0a0a0" stroke-width="0.4"/>
<path d="M335.1 193.3L337.6 195.8L335.1 198.3L332.6 195.8Z" fill="#fff" stroke="#6e6e6e" stroke-width="0.8"/>
<path d="M303.7 198.2L306.2 200.7L303.7 203.2L301.2 200.7Z" fill="#fff" stroke="#6e6e6e" stroke-width="0.8"/>
<path d="M352.4 194.6L354.9 197.1L352.4 199.6L349.9 197.1Z" fill="#fff" stroke="#6e6e6e" stroke-width="0.8"/>
<path d="M340.4 201.6L342.9 204.1L340.4 206.6L337.9 204.1Z" fill="#fff" stroke="#6e6e6e" stroke-width="0.8"/>
<path d="M375.9 200.8L378.2 203.0L375.9 205.3L373.7 203.0Z" fill="#555555" stroke="#a0a0a0" stroke-width="0.4"/>
<path d="M339.2 192.0L341.5 194.2L339.2 196.5L337.0 194.2Z" fill="#555555" stroke="#a0a0a0" stroke-width="0.4"/>
<path d="M337.4 197.8L339.7 200.1L337.4 202.3L335.2 200.1Z" fill="#555555" stroke="#a0a0a0" stroke-width="0.4"/>
<path d="M307.4 190.3L309.6 192.6L307.4 194.8L305.1 192.6Z" fill="#555555" stroke="#a0a0a0" stroke-width="0.4"/>
<path d="M328.5 197.2L330.7 199.5L328.5 201.7L326.2 199.5Z" fill="#555555" stroke="#a0a0a0" stroke-width="0.4"/>
<path d="M329.4 198.4L331.7 200.6L329.4 202.9L327.2 200.6Z" fill="#555555" stroke="#a0a0a0" stroke-width="0.4"/>
<path d="M337.1 199.7L339.6 202.2L337.1 204.7L334.6 202.2Z" fill="#fff" stroke="#6e6e6e" stroke-width="0.8"/>
<path d="M357.1 194.0L359.3 196.2L357.1 198.5L354.8 196.2Z" fill="#555555" stroke="#a0a0a0" stroke-width="0.4"/>
<path d="M339.7 189.2L342.0 191.4L339.7 193.7L337.5 191.4Z" fill="#555555" stroke="#a0a0a0" stroke-width="0.4"/>
<path d="M347.0 204.0L349.5 206.5L347.0 209.0L344.5 206.5Z" fill="#fff" stroke="#6e6e6e" stroke-width="0.8"/>
<path d="M370.7 206.6L373.2 209.1L370.7 211.6L368.2 209.1Z" fill="#fff" stroke="#6e6e6e" stroke-width="0.8"/>
<path d="M382.1 204.8L384.6 207.3L382.1 209.8L379.6 207.3Z" fill="#fff" stroke="#6e6e6e" stroke-width="0.8"/>
<path d="M373.3 202.5L375.8 205.0L373.3 207.5L370.8 205.0Z" fill="#fff" stroke="#6e6e6e" stroke-width="0.8"/>
<path d="M295.7 184.0L298.0 186.3L295.7 188.5L293.5 186.3Z" fill="#555555" stroke="#a0a0a0" stroke-width="0.4"/>
<path d="M314.0 196.4L316.2 198.7L314.0 200.9L311.7 198.7Z" fill="#555555" stroke="#a0a0a0" stroke-width="0.4"/>
<path d="M364.7 199.4L367.0 201.7L364.7 203.9L362.5 201.7Z" fill="#555555" stroke="#a0a0a0" stroke-width="0.4"/>
<path d="M287.9 199.1L290.4 201.6L287.9 204.1L285.4 201.6Z" fill="#fff" stroke="#6e6e6e" stroke-width="0.8"/>
<path d="M380.7 186.9L383.0 189.2L380.7 191.4L378.5 189.2Z" fill="#555555" stroke="#a0a0a0" stroke-width="0.4"/>
<path d="M292.4 192.8L294.7 195.0L292.4 197.3L290.2 195.0Z" fill="#555555" stroke="#a0a0a0" stroke-width="0.4"/>
<path d="M354.6 200.3L357.1 202.8L354.6 205.3L352.1 202.8Z" fill="#fff" stroke="#6e6e6e" stroke-width="0.8"/>
<path d="M368.1 200.0L370.3 202.2L368.1 204.5L365.8 202.2Z" fill="#555555" stroke="#a0a0a0" stroke-width="0.4"/>
<path d="M328.9 191.0L331.1 193.2L328.9 195.5L326.6 193.2Z" fill="#555555" stroke="#a0a0a0" stroke-width="0.4"/>
<path d="M307.9 202.3L310.2 204.6L307.9 206.8L305.7 204.6Z" fill="#555555" stroke="#a0a0a0" stroke-width="0.4"/>
<path d="M363.6 192.9L366.1 195.4L363.6 197.9L361.1 195.4Z" fill="#fff" stroke="#6e6e6e" stroke-width="0.8"/>
<path d="M296.2 190.2L298.5 192.5L296.2 194.7L294.0 192.5Z" fill="#555555" stroke="#a0a0a0" stroke-width="0.4"/>
<path d="M291.9 190.8L294.2 193.1L291.9 195.3L289.7 193.1Z" fill="#555555" stroke="#a0a0a0" stroke-width="0.4"/>
<path d="M309.1 201.2L311.6 203.7L309.1 206.2L306.6 203.7Z" fill="#fff" stroke="#6e6e6e" stroke-width="0.8"/>
<path d="M322.2 197.5L324.7 200.0L322.2 202.5L319.7 200.0Z" fill="#fff" stroke="#6e6e6e" stroke-width="0.8"/>
<path d="M328.4 201.1L330.9 203.6L328.4 206.1L325.9 203.6Z" fill="#fff" stroke="#6e6e6e" stroke-width="0.8"/>
<path d="M404.2 201.1L406.5 203.3L404.2 205.6L402.0 203.3Z" fill="#555555" stroke="#a0a0a0" stroke-width="0.4"/>
<path d="M350.8 203.9L353.3 206.4L350.8 208.9L348.3 206.4Z" fill="#fff" stroke="#6e6e6e" stroke-width="0.8"/>
<path d="M313.9 196.7L316.4 199.2L313.9 201.7L311.4 199.2Z" fill="#fff" stroke="#6e6e6e" stroke-width="0.8"/>
<path d="M315.6 203.2L318.1 205.7L315.6 208.2L313.1 205.7Z" fill="#fff" stroke="#6e6e6e" stroke-width="0.8"/>
<path d="M370.3 198.9L372.5 201.1L370.3 203.4L368.0 201.1Z" fill="#555555" stroke="#a0a0a0" stroke-width="0.4"/>
<path d="M296.0 188.9L298.3 191.2L296.0 193.4L293.8 191.2Z" fill="#555555" stroke="#a0a0a0" stroke-width="0.4"/>
<path d="M317.1 192.4L319.4 194.7L317.1 196.9L314.9 194.7Z" fill="#555555" stroke="#a0a0a0" stroke-width="0.4"/>
<path d="M373.6 205.7L375.8 207.9L373.6 210.2L371.3 207.9Z" fill="#555555" stroke="#a0a0a0" stroke-width="0.4"/>
<path d="M398.8 193.4L401.3 195.9L398.8 198.4L396.3 195.9Z" fill="#fff" stroke="#6e6e6e" stroke-width="0.8"/>
<path d="M329.7 194.9L332.2 197.4L329.7 199.9L327.2 197.4Z" fill="#fff" stroke="#6e6e6e" stroke-width="0.8"/>
<path d="M407.0 206.8L409.5 209.3L407.0 211.8L404.5 209.3Z" fill="#fff" stroke="#6e6e6e" stroke-width="0.8"/>
<path d="M355.0 195.0L357.2 197.3L355.0 199.5L352.7 197.3Z" fill="#555555" stroke="#a0a0a0" stroke-width="0.4"/>
<path d="M401.2 193.0L403.5 195.3L401.2 197.5L399.0 195.3Z" fill="#555555" stroke="#a0a0a0" stroke-width="0.4"/>
<path d="M356.8 198.8L359.3 201.3L356.8 203.8L354.3 201.3Z" fill="#fff" stroke="#6e6e6e" stroke-width="0.8"/>
<path d="M391.8 198.5L394.0 200.8L391.8 203.0L389.5 200.8Z" fill="#555555" stroke="#a0a0a0" stroke-width="0.4"/>
<path d="M338.1 199.9L340.6 202.4L338.1 204.9L335.6 202.4Z" fill="#fff" stroke="#6e6e6e" stroke-width="0.8"/>
<path d="M326.5 191.0L328.8 193.3L326.5 195.5L324.3 193.3Z" fill="#555555" stroke="#a0a0a0" stroke-width="0.4"/>
<path d="M366.1 192.2L368.6 194.7L366.1 197.2L363.6 194.7Z" fill="#fff" stroke="#6e6e6e" stroke-width="0.8"/>
<path d="M401.4 177.7L403.6 180.0L401.4 182.2L399.1 180.0Z" fill="#555555" stroke="#a0a0a0" stroke-width="0.4"/>
<path d="M324.3 195.3L326.6 197.5L324.3 199.8L322.1 197.5Z" fill="#555555" stroke="#a0a0a0" stroke-width="0.4"/>
<path d="M372.4 199.3L374.9 201.8L372.4 204.3L369.9 201.8Z" fill="#fff" stroke="#6e6e6e" stroke-width="0.8"/>
<path d="M303.7 195.5L305.9 197.7L303.7 200.0L301.4 197.7Z" fill="#555555" stroke="#a0a0a0" stroke-width="0.4"/>
<path d="M298.7 199.0L301.2 201.5L298.7 204.0L296.2 201.5Z" fill="#fff" stroke="#6e6e6e" stroke-width="0.8"/>
<path d="M331.7 201.6L334.2 204.1L331.7 206.6L329.2 204.1Z" fill="#fff" stroke="#6e6e6e" stroke-width="0.8"/>
<path d="M324.7 206.6L327.2 209.1L324.7 211.6L322.2 209.1Z" fill="#fff" stroke="#6e6e6e" stroke-width="0.8"/>
<path d="M354.3 196.8L356.5 199.0L354.3 201.3L352.0 199.0Z" fill="#555555" stroke="#a0a0a0" stroke-width="0.4"/>
<path d="M312.7 192.0L315.0 194.2L312.7 196.5L310.5 194.2Z" fill="#555555" stroke="#a0a0a0" stroke-width="0.4"/>
<path d="M343.2 195.3L345.7 197.8L343.2 200.3L340.7 197.8Z" fill="#fff" stroke="#6e6e6e" stroke-width="0.8"/>
<path d="M383.7 189.4L385.9 191.6L383.7 193.9L381.4 191.6Z" fill="#555555" stroke="#a0a0a0" stroke-width="0.4"/>
<path d="M372.0 196.4L374.5 198.9L372.0 201.4L369.5 198.9Z" fill="#fff" stroke="#6e6e6e" stroke-width="0.8"/>
<path d="M403.0 200.2L405.5 202.7L403.0 205.2L400.5 202.7Z" fill="#fff" stroke="#6e6e6e" stroke-width="0.8"/>
<path d="M333.0 192.9L335.5 195.4L333.0 197.9L330.5 195.4Z" fill="#fff" stroke="#6e6e6e" stroke-width="0.8"/>
<path d="M327.5 199.5L330.0 202.0L327.5 204.5L325.0 202.0Z" fill="#fff" stroke="#6e6e6e" stroke-width="0.8"/>
<path d="M344.0 196.3L346.5 198.8L344.0 201.3L341.5 198.8Z" fill="#fff" stroke="#6e6e6e" stroke-width="0.8"/>
<path d="M293.2 179.2L295.4 181.5L293.2 183.7L290.9 181.5Z" fill="#555555" stroke="#a0a0a0" stroke-width="0.4"/>
<path d="M299.4 200.1L301.9 202.6L299.4 205.1L296.9 202.6Z" fill="#fff" stroke="#6e6e6e" stroke-width="0.8"/>
<path d="M318.7 201.1L321.2 203.6L318.7 206.1L316.2 203.6Z" fill="#fff" stroke="#6e6e6e" stroke-width="0.8"/>
<path d="M305.4 192.2L307.9 194.7L305.4 197.2L302.9 194.7Z" fill="#fff" stroke="#6e6e6e" stroke-width="0.8"/>
<path d="M364.2 200.8L366.7 203.3L364.2 205.8L361.7 203.3Z" fill="#fff" stroke="#6e6e6e" stroke-width="0.8"/>
<path d="M407.6 177.9L409.9 180.1L407.6 182.4L405.4 180.1Z" fill="#555555" stroke="#a0a0a0" stroke-width="0.4"/>
<path d="M309.7 184.0L312.0 186.2L309.7 188.5L307.5 186.2Z" fill="#555555" stroke="#a0a0a0" stroke-width="0.4"/>
<circle cx="77.5" cy="116.0" r="2.5" fill="#000"/>
<circle cx="79.0" cy="126.0" r="2.5" fill="#000"/>
<circle cx="80.0" cy="135.0" r="2.5" fill="#000"/>
<circle cx="76.7" cy="144.0" r="2.5" fill="#000"/>
<circle cx="80.0" cy="146.0" r="2.5" fill="#000"/>
<circle cx="76.0" cy="150.0" r="2.5" fill="#000"/>
<circle cx="76.7" cy="152.0" r="2.5" fill="#000"/>
<circle cx="77.0" cy="157.5" r="2.5" fill="#000"/>
<circle cx="77.5" cy="161.0" r="2.5" fill="#000"/>
<circle cx="77.5" cy="165.0" r="2.5" fill="#000"/>
<circle cx="81.0" cy="102.0" r="2.5" fill="#000"/>
<circle cx="81.7" cy="107.0" r="2.5" fill="#000"/>
<circle cx="82.5" cy="111.0" r="2.5" fill="#000"/>
<circle cx="83.0" cy="116.0" r="2.5" fill="#000"/>
<circle cx="84.0" cy="120.0" r="2.5" fill="#000"/>
<circle cx="84.0" cy="123.0" r="2.5" fill="#000"/>
<circle cx="85.0" cy="130.0" r="2.5" fill="#000"/>
<circle cx="86.7" cy="132.0" r="2.5" fill="#000"/>
<circle cx="86.0" cy="136.0" r="2.5" fill="#000"/>
<circle cx="86.0" cy="142.0" r="2.5" fill="#000"/>
<circle cx="86.7" cy="146.0" r="2.5" fill="#000"/>
<circle cx="89.0" cy="150.0" r="2.5" fill="#000"/>
<circle cx="96.0" cy="150.0" r="2.5" fill="#000"/>
<circle cx="86.0" cy="150.0" r="2.5" fill="#000"/>
<circle cx="91.0" cy="155.0" r="2.5" fill="#000"/>
<circle cx="94.0" cy="162.0" r="2.5" fill="#000"/>
<circle cx="96.0" cy="165.0" r="2.5" fill="#000"/>
<circle cx="99.0" cy="172.0" r="2.5" fill="#000"/>
<circle cx="97.5" cy="177.5" r="2.5" fill="#000"/>
<circle cx="101.7" cy="181.0" r="2.5" fill="#000"/>
<circle cx="110.0" cy="176.7" r="2.5" fill="#000"/>
<circle cx="112.5" cy="181.0" r="2.5" fill="#000"/>
<circle cx="121.7" cy="190.0" r="2.5" fill="#000"/>
<circle cx="126.7" cy="191.0" r="2.5" fill="#000"/>
<circle cx="133.0" cy="198.0" r="2.5" fill="#000"/>
<circle cx="95.0" cy="165.0" r="2.5" fill="#000"/>
<circle cx="99.0" cy="171.0" r="2.5" fill="#000"/>
<circle cx="110.0" cy="176.0" r="2.5" fill="#000"/>
<circle cx="132.5" cy="200.0" r="2.5" fill="#000"/>
<circle cx="145.0" cy="197.5" r="2.5" fill="#000"/>
<circle cx="156.0" cy="194.0" r="2.5" fill="#000"/>
<circle cx="162.5" cy="197.5" r="2.5" fill="#000"/>
<circle cx="169.0" cy="200.0" r="2.5" fill="#000"/>
<circle cx="172.5" cy="205.0" r="2.5" fill="#000"/>
<circle cx="87.0" cy="149.3" r="2.5" fill="#000"/>
<circle cx="88.1" cy="155.5" r="2.5" fill="#000"/>
<circle cx="89.2" cy="155.3" r="2.5" fill="#000"/>
<circle cx="90.3" cy="154.3" r="2.5" fill="#000"/>
<circle cx="91.4" cy="158.8" r="2.5" fill="#000"/>
<circle cx="92.5" cy="154.8" r="2.5" fill="#000"/>
<circle cx="93.6" cy="161.3" r="2.5" fill="#000"/>
<circle cx="94.7" cy="165.6" r="2.5" fill="#000"/>
<circle cx="95.8" cy="168.2" r="2.5" fill="#000"/>
<circle cx="96.9" cy="167.3" r="2.5" fill="#000"/>
<circle cx="98.0" cy="174.5" r="2.5" fill="#000"/>
<circle cx="99.1" cy="179.7" r="2.5" fill="#000"/>
<circle cx="100.2" cy="175.4" r="2.5" fill="#000"/>
<circle cx="101.3" cy="179.8" r="2.5" fill="#000"/>
<circle cx="102.4" cy="175.1" r="2.5" fill="#000"/>
<circle cx="103.5" cy="174.3" r="2.5" fill="#000"/>
<circle cx="104.6" cy="181.0" r="2.5" fill="#000"/>
<circle cx="105.7" cy="179.9" r="2.5" fill="#000"/>
<circle cx="106.8" cy="180.6" r="2.5" fill="#000"/>
<circle cx="107.9" cy="178.9" r="2.5" fill="#000"/>
<circle cx="109.0" cy="179.9" r="2.5" fill="#000"/>
<circle cx="110.1" cy="182.9" r="2.5" fill="#000"/>
<circle cx="111.2" cy="185.6" r="2.5" fill="#000"/>
<circle cx="112.3" cy="181.2" r="2.5" fill="#000"/>
<circle cx="113.4" cy="178.0" r="2.5" fill="#000"/>
<circle cx="114.5" cy="185.7" r="2.5" fill="#000"/>
<circle cx="115.6" cy="184.5" r="2.5" fill="#000"/>
<circle cx="116.7" cy="185.1" r="2.5" fill="#000"/>
<circle cx="117.8" cy="184.3" r="2.5" fill="#000"/>
<circle cx="118.9" cy="190.1" r="2.5" fill="#000"/>
<circle cx="120.0" cy="184.9" r="2.5" fill="#000"/>
<circle cx="121.1" cy="186.4" r="2.5" fill="#000"/>
<circle cx="122.2" cy="181.0" r="2.5" fill="#000"/>
<circle cx="123.3" cy="184.6" r="2.5" fill="#000"/>
<circle cx="124.4" cy="185.0" r="2.5" fill="#000"/>
<circle cx="125.5" cy="187.4" r="2.5" fill="#000"/>
<circle cx="126.6" cy="189.2" r="2.5" fill="#000"/>
<circle cx="127.7" cy="187.3" r="2.5" fill="#000"/>
<circle cx="128.8" cy="195.2" r="2.5" fill="#000"/>
<circle cx="129.9" cy="190.2" r="2.5" fill="#000"/>
<circle cx="131.0" cy="193.7" r="2.5" fill="#000"/>
<circle cx="132.1" cy="197.7" r="2.5" fill="#000"/>
<circle cx="133.2" cy="195.7" r="2.5" fill="#000"/>
<circle cx="134.3" cy="200.1" r="2.5" fill="#000"/>
<circle cx="135.4" cy="200.1" r="2.5" fill="#000"/>
<circle cx="136.5" cy="197.6" r="2.5" fill="#000"/>
<circle cx="137.6" cy="203.0" r="2.5" fill="#000"/>
<circle cx="138.7" cy="198.3" r="2.5" fill="#000"/>
<circle cx="139.8" cy="198.6" r="2.5" fill="#000"/>
<circle cx="140.9" cy="195.5" r="2.5" fill="#000"/>
<circle cx="142.0" cy="193.7" r="2.5" fill="#000"/>
<circle cx="143.1" cy="196.3" r="2.5" fill="#000"/>
<circle cx="144.2" cy="197.1" r="2.5" fill="#000"/>
<circle cx="145.3" cy="196.7" r="2.5" fill="#000"/>
<circle cx="146.4" cy="199.8" r="2.5" fill="#000"/>
<circle cx="147.5" cy="191.9" r="2.5" fill="#000"/>
<circle cx="148.6" cy="195.0" r="2.5" fill="#000"/>
<circle cx="149.7" cy="193.3" r="2.5" fill="#000"/>
<circle cx="150.8" cy="200.9" r="2.5" fill="#000"/>
<circle cx="151.9" cy="195.8" r="2.5" fill="#000"/>
<circle cx="153.0" cy="195.5" r="2.5" fill="#000"/>
<circle cx="154.1" cy="193.7" r="2.5" fill="#000"/>
<circle cx="155.2" cy="198.3" r="2.5" fill="#000"/>
<circle cx="156.3" cy="194.6" r="2.5" fill="#000"/>
<circle cx="157.4" cy="196.1" r="2.5" fill="#000"/>
<circle cx="158.5" cy="190.9" r="2.5" fill="#000"/>
<circle cx="159.6" cy="199.4" r="2.5" fill="#000"/>
<circle cx="160.7" cy="197.9" r="2.5" fill="#000"/>
<circle cx="161.8" cy="198.8" r="2.5" fill="#000"/>
<circle cx="162.9" cy="200.9" r="2.5" fill="#000"/>
<circle cx="164.0" cy="197.9" r="2.5" fill="#000"/>
<circle cx="165.1" cy="198.6" r="2.5" fill="#000"/>
<circle cx="166.2" cy="201.4" r="2.5" fill="#000"/>
<circle cx="167.3" cy="201.3" r="2.5" fill="#000"/>
<circle cx="168.4" cy="200.3" r="2.5" fill="#000"/>
<circle cx="169.5" cy="201.6" r="2.5" fill="#000"/>
<circle cx="170.6" cy="200.8" r="2.5" fill="#000"/>
<circle cx="171.7" cy="204.5" r="2.5" fill="#000"/>
<circle cx="172.8" cy="205.2" r="2.5" fill="#000"/>
<circle cx="180.7" cy="212.9" r="2.5" fill="#000"/>
<circle cx="182.4" cy="214.2" r="2.5" fill="#000"/>
<circle cx="182.4" cy="219.2" r="2.5" fill="#000"/>
<circle cx="186.9" cy="211.7" r="2.5" fill="#000"/>
<circle cx="188.2" cy="216.7" r="2.5" fill="#000"/>
<circle cx="190.7" cy="217.4" r="2.5" fill="#000"/>
<circle cx="194.4" cy="214.2" r="2.5" fill="#000"/>
<circle cx="196.4" cy="215.9" r="2.5" fill="#000"/>
<circle cx="196.4" cy="224.2" r="2.5" fill="#000"/>
<circle cx="199.4" cy="216.7" r="2.5" fill="#000"/>
<circle cx="201.9" cy="217.9" r="2.5" fill="#000"/>
<circle cx="204.4" cy="218.4" r="2.5" fill="#000"/>
<circle cx="205.7" cy="224.2" r="2.5" fill="#000"/>
<circle cx="208.2" cy="219.2" r="2.5" fill="#000"/>
<circle cx="210.7" cy="219.9" r="2.5" fill="#000"/>
<circle cx="213.2" cy="221.7" r="2.5" fill="#000"/>
<circle cx="215.7" cy="223.4" r="2.5" fill="#000"/>
<circle cx="218.2" cy="224.9" r="2.5" fill="#000"/>
<circle cx="219.4" cy="216.7" r="2.5" fill="#000"/>
<circle cx="222.4" cy="210.9" r="2.5" fill="#000"/>
<circle cx="223.9" cy="223.4" r="2.5" fill="#000"/>
<circle cx="224.9" cy="216.7" r="2.5" fill="#000"/>
<circle cx="226.9" cy="217.4" r="2.5" fill="#000"/>
<circle cx="229.4" cy="225.4" r="2.5" fill="#000"/>
<circle cx="236.9" cy="225.9" r="2.5" fill="#000"/>
<circle cx="240.2" cy="225.4" r="2.5" fill="#000"/>
<circle cx="241.9" cy="232.4" r="2.5" fill="#000"/>
<circle cx="244.4" cy="234.2" r="2.5" fill="#000"/>
<circle cx="245.7" cy="237.4" r="2.5" fill="#000"/>
<circle cx="248.2" cy="235.4" r="2.5" fill="#000"/>
<circle cx="249.4" cy="238.4" r="2.5" fill="#000"/>
<circle cx="251.4" cy="240.4" r="2.5" fill="#000"/>
<circle cx="252.4" cy="214.9" r="2.5" fill="#000"/>
<circle cx="253.9" cy="226.7" r="2.5" fill="#000"/>
<circle cx="255.7" cy="227.4" r="2.5" fill="#000"/>
<circle cx="257.4" cy="232.4" r="2.5" fill="#000"/>
<circle cx="259.4" cy="230.9" r="2.5" fill="#000"/>
<circle cx="261.4" cy="229.2" r="2.5" fill="#000"/>
<circle cx="263.1" cy="232.9" r="2.5" fill="#000"/>
<circle cx="265.6" cy="235.4" r="2.5" fill="#000"/>
<circle cx="268.1" cy="235.9" r="2.5" fill="#000"/>
<circle cx="269.9" cy="234.2" r="2.5" fill="#000"/>
<circle cx="271.9" cy="230.4" r="2.5" fill="#000"/>
<circle cx="273.9" cy="222.9" r="2.5" fill="#000"/>
<circle cx="275.6" cy="231.7" r="2.5" fill="#000"/>
<circle cx="277.4" cy="228.4" r="2.5" fill="#000"/>
<circle cx="279.4" cy="232.9" r="2.5" fill="#000"/>
<circle cx="281.9" cy="235.4" r="2.5" fill="#000"/>
<circle cx="283.9" cy="236.7" r="2.5" fill="#000"/>
<circle cx="286.4" cy="240.4" r="2.5" fill="#000"/>
<circle cx="288.1" cy="239.2" r="2.5" fill="#000"/>
<circle cx="290.6" cy="237.9" r="2.5" fill="#000"/>
<circle cx="293.1" cy="237.4" r="2.5" fill="#000"/>
<circle cx="295.6" cy="239.2" r="2.5" fill="#000"/>
<circle cx="298.1" cy="241.7" r="2.5" fill="#000"/>
<circle cx="290.6" cy="237.9" r="2.5" fill="#000"/>
<circle cx="292.4" cy="239.2" r="2.5" fill="#000"/>
<circle cx="294.4" cy="237.4" r="2.5" fill="#000"/>
<circle cx="296.4" cy="240.4" r="2.5" fill="#000"/>
<circle cx="298.1" cy="241.7" r="2.5" fill="#000"/>
<circle cx="299.9" cy="242.4" r="2.5" fill="#000"/>
<circle cx="301.9" cy="237.9" r="2.5" fill="#000"/>
<circle cx="303.9" cy="236.7" r="2.5" fill="#000"/>
<circle cx="305.6" cy="235.9" r="2.5" fill="#000"/>
<circle cx="307.4" cy="239.2" r="2.5" fill="#000"/>
<circle cx="308.9" cy="241.7" r="2.5" fill="#000"/>
<circle cx="310.6" cy="242.9" r="2.5" fill="#000"/>
<circle cx="311.9" cy="245.9" r="2.5" fill="#000"/>
<circle cx="313.9" cy="241.7" r="2.5" fill="#000"/>
<circle cx="315.6" cy="240.4" r="2.5" fill="#000"/>
<circle cx="316.9" cy="229.2" r="2.5" fill="#000"/>
<circle cx="318.9" cy="232.9" r="2.5" fill="#000"/>
<circle cx="320.6" cy="222.4" r="2.5" fill="#000"/>
<circle cx="321.4" cy="230.4" r="2.5" fill="#000"/>
<circle cx="323.1" cy="231.7" r="2.5" fill="#000"/>
<circle cx="324.4" cy="236.7" r="2.5" fill="#000"/>
<circle cx="326.4" cy="219.2" r="2.5" fill="#000"/>
<circle cx="326.9" cy="224.2" r="2.5" fill="#000"/>
<circle cx="328.1" cy="228.4" r="2.5" fill="#000"/>
<circle cx="329.4" cy="235.4" r="2.5" fill="#000"/>
<circle cx="331.9" cy="234.2" r="2.5" fill="#000"/>
<circle cx="333.9" cy="234.9" r="2.5" fill="#000"/>
<circle cx="335.6" cy="236.7" r="2.5" fill="#000"/>
<circle cx="337.4" cy="237.9" r="2.5" fill="#000"/>
<circle cx="339.4" cy="230.4" r="2.5" fill="#000"/>
<circle cx="340.6" cy="234.2" r="2.5" fill="#000"/>
<circle cx="343.1" cy="212.9" r="2.5" fill="#000"/>
<circle cx="344.9" cy="224.2" r="2.5" fill="#000"/>
<circle cx="346.9" cy="236.7" r="2.5" fill="#000"/>
<circle cx="349.4" cy="237.9" r="2.5" fill="#000"/>
<circle cx="351.4" cy="235.4" r="2.5" fill="#000"/>
<circle cx="353.1" cy="229.2" r="2.5" fill="#000"/>
<circle cx="355.6" cy="220.4" r="2.5" fill="#000"/>
<circle cx="356.9" cy="225.4" r="2.5" fill="#000"/>
<circle cx="358.9" cy="232.9" r="2.5" fill="#000"/>
<circle cx="360.6" cy="234.2" r="2.5" fill="#000"/>
<circle cx="362.4" cy="235.4" r="2.5" fill="#000"/>
<circle cx="363.9" cy="237.9" r="2.5" fill="#000"/>
<circle cx="365.6" cy="241.7" r="2.5" fill="#000"/>
<circle cx="366.9" cy="237.4" r="2.5" fill="#000"/>
<circle cx="368.9" cy="234.2" r="2.5" fill="#000"/>
<circle cx="370.6" cy="240.4" r="2.5" fill="#000"/>
<circle cx="372.4" cy="242.9" r="2.5" fill="#000"/>
<circle cx="374.4" cy="246.7" r="2.5" fill="#000"/>
<circle cx="375.6" cy="241.7" r="2.5" fill="#000"/>
<circle cx="377.4" cy="242.9" r="2.5" fill="#000"/>
<circle cx="379.4" cy="245.4" r="2.5" fill="#000"/>
<circle cx="381.4" cy="244.9" r="2.5" fill="#000"/>
<circle cx="383.1" cy="239.2" r="2.5" fill="#000"/>
<circle cx="384.9" cy="237.9" r="2.5" fill="#000"/>
<circle cx="386.9" cy="240.4" r="2.5" fill="#000"/>
<circle cx="388.9" cy="241.7" r="2.5" fill="#000"/>
<circle cx="390.6" cy="237.9" r="2.5" fill="#000"/>
<circle cx="392.4" cy="238.4" r="2.5" fill="#000"/>
<circle cx="394.4" cy="242.9" r="2.5" fill="#000"/>
<circle cx="396.4" cy="246.7" r="2.5" fill="#000"/>
<circle cx="398.1" cy="239.2" r="2.5" fill="#000"/>
<circle cx="399.4" cy="245.4" r="2.5" fill="#000"/>
<circle cx="401.4" cy="246.7" r="2.5" fill="#000"/>
<circle cx="403.1" cy="244.2" r="2.5" fill="#000"/>
<circle cx="404.9" cy="244.9" r="2.5" fill="#000"/>
<circle cx="408.1" cy="235.4" r="2.5" fill="#000"/>
<circle cx="174.4" cy="220.4" r="2.5" fill="#000"/>
<circle cx="97.5" cy="179.0" r="2.1" fill="#fff" stroke="#1a1a1a" stroke-width="0.65"/>
<circle cx="103.0" cy="184.0" r="2.1" fill="#fff" stroke="#1a1a1a" stroke-width="0.65"/>
<circle cx="108.0" cy="185.0" r="2.1" fill="#fff" stroke="#1a1a1a" stroke-width="0.65"/>
<circle cx="116.7" cy="185.0" r="2.1" fill="#fff" stroke="#1a1a1a" stroke-width="0.65"/>
<circle cx="130.0" cy="195.0" r="2.1" fill="#fff" stroke="#1a1a1a" stroke-width="0.65"/>
<circle cx="132.5" cy="206.0" r="2.1" fill="#fff" stroke="#1a1a1a" stroke-width="0.65"/>
<circle cx="139.0" cy="207.5" r="2.1" fill="#fff" stroke="#1a1a1a" stroke-width="0.65"/>
<circle cx="142.5" cy="214.0" r="2.1" fill="#fff" stroke="#1a1a1a" stroke-width="0.65"/>
<circle cx="150.0" cy="211.0" r="2.1" fill="#fff" stroke="#1a1a1a" stroke-width="0.65"/>
<circle cx="132.5" cy="220.0" r="2.1" fill="#fff" stroke="#1a1a1a" stroke-width="0.65"/>
<circle cx="144.0" cy="221.0" r="2.1" fill="#fff" stroke="#1a1a1a" stroke-width="0.65"/>
<circle cx="156.0" cy="205.0" r="2.1" fill="#fff" stroke="#1a1a1a" stroke-width="0.65"/>
<circle cx="170.0" cy="209.0" r="2.1" fill="#fff" stroke="#1a1a1a" stroke-width="0.65"/>
<circle cx="95.0" cy="167.4" r="2.1" fill="#fff" stroke="#1a1a1a" stroke-width="0.65"/>
<circle cx="97.2" cy="176.4" r="2.1" fill="#fff" stroke="#1a1a1a" stroke-width="0.65"/>
<circle cx="99.4" cy="174.9" r="2.1" fill="#fff" stroke="#1a1a1a" stroke-width="0.65"/>
<circle cx="101.6" cy="180.4" r="2.1" fill="#fff" stroke="#1a1a1a" stroke-width="0.65"/>
<circle cx="103.8" cy="185.3" r="2.1" fill="#fff" stroke="#1a1a1a" stroke-width="0.65"/>
<circle cx="106.0" cy="181.6" r="2.1" fill="#fff" stroke="#1a1a1a" stroke-width="0.65"/>
<circle cx="108.2" cy="179.7" r="2.1" fill="#fff" stroke="#1a1a1a" stroke-width="0.65"/>
<circle cx="110.4" cy="186.3" r="2.1" fill="#fff" stroke="#1a1a1a" stroke-width="0.65"/>
<circle cx="112.6" cy="185.5" r="2.1" fill="#fff" stroke="#1a1a1a" stroke-width="0.65"/>
<circle cx="114.8" cy="182.8" r="2.1" fill="#fff" stroke="#1a1a1a" stroke-width="0.65"/>
<circle cx="117.0" cy="187.6" r="2.1" fill="#fff" stroke="#1a1a1a" stroke-width="0.65"/>
<circle cx="119.2" cy="184.9" r="2.1" fill="#fff" stroke="#1a1a1a" stroke-width="0.65"/>
<circle cx="121.4" cy="185.1" r="2.1" fill="#fff" stroke="#1a1a1a" stroke-width="0.65"/>
<circle cx="123.6" cy="188.4" r="2.1" fill="#fff" stroke="#1a1a1a" stroke-width="0.65"/>
<circle cx="125.8" cy="189.3" r="2.1" fill="#fff" stroke="#1a1a1a" stroke-width="0.65"/>
<circle cx="128.0" cy="189.7" r="2.1" fill="#fff" stroke="#1a1a1a" stroke-width="0.65"/>
<circle cx="130.2" cy="195.2" r="2.1" fill="#fff" stroke="#1a1a1a" stroke-width="0.65"/>
<circle cx="132.4" cy="201.3" r="2.1" fill="#fff" stroke="#1a1a1a" stroke-width="0.65"/>
<circle cx="133.7" cy="205.4" r="2.1" fill="#fff" stroke="#1a1a1a" stroke-width="0.65"/>
<circle cx="135.0" cy="205.0" r="2.1" fill="#fff" stroke="#1a1a1a" stroke-width="0.65"/>
<circle cx="136.3" cy="207.0" r="2.1" fill="#fff" stroke="#1a1a1a" stroke-width="0.65"/>
<circle cx="137.6" cy="203.4" r="2.1" fill="#fff" stroke="#1a1a1a" stroke-width="0.65"/>
<circle cx="138.9" cy="200.8" r="2.1" fill="#fff" stroke="#1a1a1a" stroke-width="0.65"/>
<circle cx="140.2" cy="200.7" r="2.1" fill="#fff" stroke="#1a1a1a" stroke-width="0.65"/>
<circle cx="141.5" cy="203.7" r="2.1" fill="#fff" stroke="#1a1a1a" stroke-width="0.65"/>
<circle cx="142.8" cy="208.7" r="2.1" fill="#fff" stroke="#1a1a1a" stroke-width="0.65"/>
<circle cx="144.1" cy="206.7" r="2.1" fill="#fff" stroke="#1a1a1a" stroke-width="0.65"/>
<circle cx="145.4" cy="202.6" r="2.1" fill="#fff" stroke="#1a1a1a" stroke-width="0.65"/>
<circle cx="146.7" cy="207.0" r="2.1" fill="#fff" stroke="#1a1a1a" stroke-width="0.65"/>
<circle cx="148.0" cy="201.1" r="2.1" fill="#fff" stroke="#1a1a1a" stroke-width="0.65"/>
<circle cx="149.3" cy="207.2" r="2.1" fill="#fff" stroke="#1a1a1a" stroke-width="0.65"/>
<circle cx="150.6" cy="203.1" r="2.1" fill="#fff" stroke="#1a1a1a" stroke-width="0.65"/>
<circle cx="151.9" cy="205.8" r="2.1" fill="#fff" stroke="#1a1a1a" stroke-width="0.65"/>
<circle cx="153.2" cy="205.0" r="2.1" fill="#fff" stroke="#1a1a1a" stroke-width="0.65"/>
<circle cx="154.5" cy="202.0" r="2.1" fill="#fff" stroke="#1a1a1a" stroke-width="0.65"/>
<circle cx="155.8" cy="203.2" r="2.1" fill="#fff" stroke="#1a1a1a" stroke-width="0.65"/>
<circle cx="157.1" cy="198.9" r="2.1" fill="#fff" stroke="#1a1a1a" stroke-width="0.65"/>
<circle cx="158.4" cy="202.2" r="2.1" fill="#fff" stroke="#1a1a1a" stroke-width="0.65"/>
<circle cx="159.7" cy="206.0" r="2.1" fill="#fff" stroke="#1a1a1a" stroke-width="0.65"/>
<circle cx="161.0" cy="215.0" r="2.1" fill="#fff" stroke="#1a1a1a" stroke-width="0.65"/>
<circle cx="162.3" cy="206.1" r="2.1" fill="#fff" stroke="#1a1a1a" stroke-width="0.65"/>
<circle cx="163.6" cy="204.9" r="2.1" fill="#fff" stroke="#1a1a1a" stroke-width="0.65"/>
<circle cx="164.9" cy="202.6" r="2.1" fill="#fff" stroke="#1a1a1a" stroke-width="0.65"/>
<circle cx="166.2" cy="209.1" r="2.1" fill="#fff" stroke="#1a1a1a" stroke-width="0.65"/>
<circle cx="167.5" cy="202.2" r="2.1" fill="#fff" stroke="#1a1a1a" stroke-width="0.65"/>
<circle cx="168.8" cy="205.3" r="2.1" fill="#fff" stroke="#1a1a1a" stroke-width="0.65"/>
<circle cx="170.1" cy="209.3" r="2.1" fill="#fff" stroke="#1a1a1a" stroke-width="0.65"/>
<circle cx="171.4" cy="205.7" r="2.1" fill="#fff" stroke="#1a1a1a" stroke-width="0.65"/>
<circle cx="172.7" cy="213.7" r="2.1" fill="#fff" stroke="#1a1a1a" stroke-width="0.65"/>
<circle cx="181.6" cy="212.2" r="2.2" fill="#fff" stroke="#000" stroke-width="0.8"/>
<circle cx="183.3" cy="213.4" r="2.2" fill="#fff" stroke="#000" stroke-width="0.8"/>
<circle cx="183.3" cy="218.4" r="2.2" fill="#fff" stroke="#000" stroke-width="0.8"/>
<circle cx="187.8" cy="210.9" r="2.2" fill="#fff" stroke="#000" stroke-width="0.8"/>
<circle cx="189.1" cy="215.9" r="2.2" fill="#fff" stroke="#000" stroke-width="0.8"/>
<circle cx="191.6" cy="216.7" r="2.2" fill="#fff" stroke="#000" stroke-width="0.8"/>
<circle cx="195.3" cy="213.4" r="2.2" fill="#fff" stroke="#000" stroke-width="0.8"/>
<circle cx="197.3" cy="215.2" r="2.2" fill="#fff" stroke="#000" stroke-width="0.8"/>
<circle cx="197.3" cy="223.4" r="2.2" fill="#fff" stroke="#000" stroke-width="0.8"/>
<circle cx="200.3" cy="215.9" r="2.2" fill="#fff" stroke="#000" stroke-width="0.8"/>
<circle cx="202.8" cy="217.2" r="2.2" fill="#fff" stroke="#000" stroke-width="0.8"/>
<circle cx="205.3" cy="217.7" r="2.2" fill="#fff" stroke="#000" stroke-width="0.8"/>
<circle cx="206.6" cy="223.4" r="2.2" fill="#fff" stroke="#000" stroke-width="0.8"/>
<circle cx="209.1" cy="218.4" r="2.2" fill="#fff" stroke="#000" stroke-width="0.8"/>
<circle cx="211.6" cy="219.2" r="2.2" fill="#fff" stroke="#000" stroke-width="0.8"/>
<circle cx="214.1" cy="220.9" r="2.2" fill="#fff" stroke="#000" stroke-width="0.8"/>
<circle cx="216.6" cy="222.7" r="2.2" fill="#fff" stroke="#000" stroke-width="0.8"/>
<circle cx="219.1" cy="224.2" r="2.2" fill="#fff" stroke="#000" stroke-width="0.8"/>
<circle cx="220.3" cy="215.9" r="2.2" fill="#fff" stroke="#000" stroke-width="0.8"/>
<circle cx="223.3" cy="210.2" r="2.2" fill="#fff" stroke="#000" stroke-width="0.8"/>
<circle cx="224.8" cy="222.7" r="2.2" fill="#fff" stroke="#000" stroke-width="0.8"/>
<circle cx="225.8" cy="215.9" r="2.2" fill="#fff" stroke="#000" stroke-width="0.8"/>
<circle cx="227.8" cy="216.7" r="2.2" fill="#fff" stroke="#000" stroke-width="0.8"/>
<circle cx="230.3" cy="224.7" r="2.2" fill="#fff" stroke="#000" stroke-width="0.8"/>
<circle cx="237.8" cy="225.2" r="2.2" fill="#fff" stroke="#000" stroke-width="0.8"/>
<circle cx="241.1" cy="224.7" r="2.2" fill="#fff" stroke="#000" stroke-width="0.8"/>
<circle cx="242.8" cy="231.7" r="2.2" fill="#fff" stroke="#000" stroke-width="0.8"/>
<circle cx="245.3" cy="233.4" r="2.2" fill="#fff" stroke="#000" stroke-width="0.8"/>
<circle cx="246.6" cy="236.7" r="2.2" fill="#fff" stroke="#000" stroke-width="0.8"/>
<circle cx="249.1" cy="234.7" r="2.2" fill="#fff" stroke="#000" stroke-width="0.8"/>
<circle cx="250.3" cy="237.7" r="2.2" fill="#fff" stroke="#000" stroke-width="0.8"/>
<circle cx="252.3" cy="239.7" r="2.2" fill="#fff" stroke="#000" stroke-width="0.8"/>
<circle cx="253.3" cy="214.2" r="2.2" fill="#fff" stroke="#000" stroke-width="0.8"/>
<circle cx="254.8" cy="225.9" r="2.2" fill="#fff" stroke="#000" stroke-width="0.8"/>
<circle cx="256.6" cy="226.7" r="2.2" fill="#fff" stroke="#000" stroke-width="0.8"/>
<circle cx="258.3" cy="231.7" r="2.2" fill="#fff" stroke="#000" stroke-width="0.8"/>
<circle cx="260.3" cy="230.2" r="2.2" fill="#fff" stroke="#000" stroke-width="0.8"/>
<circle cx="262.3" cy="228.4" r="2.2" fill="#fff" stroke="#000" stroke-width="0.8"/>
<circle cx="264.1" cy="232.2" r="2.2" fill="#fff" stroke="#000" stroke-width="0.8"/>
<circle cx="266.6" cy="234.7" r="2.2" fill="#fff" stroke="#000" stroke-width="0.8"/>
<circle cx="269.1" cy="235.2" r="2.2" fill="#fff" stroke="#000" stroke-width="0.8"/>
<circle cx="270.8" cy="233.4" r="2.2" fill="#fff" stroke="#000" stroke-width="0.8"/>
<circle cx="272.8" cy="229.7" r="2.2" fill="#fff" stroke="#000" stroke-width="0.8"/>
<circle cx="274.8" cy="222.2" r="2.2" fill="#fff" stroke="#000" stroke-width="0.8"/>
<circle cx="276.6" cy="230.9" r="2.2" fill="#fff" stroke="#000" stroke-width="0.8"/>
<circle cx="278.3" cy="227.7" r="2.2" fill="#fff" stroke="#000" stroke-width="0.8"/>
<circle cx="280.3" cy="232.2" r="2.2" fill="#fff" stroke="#000" stroke-width="0.8"/>
<circle cx="282.8" cy="234.7" r="2.2" fill="#fff" stroke="#000" stroke-width="0.8"/>
<circle cx="284.8" cy="235.9" r="2.2" fill="#fff" stroke="#000" stroke-width="0.8"/>
<circle cx="287.3" cy="239.7" r="2.2" fill="#fff" stroke="#000" stroke-width="0.8"/>
<circle cx="289.1" cy="238.4" r="2.2" fill="#fff" stroke="#000" stroke-width="0.8"/>
<circle cx="291.6" cy="237.2" r="2.2" fill="#fff" stroke="#000" stroke-width="0.8"/>
<circle cx="294.1" cy="236.7" r="2.2" fill="#fff" stroke="#000" stroke-width="0.8"/>
<circle cx="296.6" cy="238.4" r="2.2" fill="#fff" stroke="#000" stroke-width="0.8"/>
<circle cx="299.1" cy="240.9" r="2.2" fill="#fff" stroke="#000" stroke-width="0.8"/>
<circle cx="291.6" cy="237.2" r="2.2" fill="#fff" stroke="#000" stroke-width="0.8"/>
<circle cx="293.3" cy="238.4" r="2.2" fill="#fff" stroke="#000" stroke-width="0.8"/>
<circle cx="295.3" cy="236.7" r="2.2" fill="#fff" stroke="#000" stroke-width="0.8"/>
<circle cx="297.3" cy="239.7" r="2.2" fill="#fff" stroke="#000" stroke-width="0.8"/>
<circle cx="299.1" cy="240.9" r="2.2" fill="#fff" stroke="#000" stroke-width="0.8"/>
<circle cx="300.8" cy="241.7" r="2.2" fill="#fff" stroke="#000" stroke-width="0.8"/>
<circle cx="302.8" cy="237.2" r="2.2" fill="#fff" stroke="#000" stroke-width="0.8"/>
<circle cx="304.8" cy="235.9" r="2.2" fill="#fff" stroke="#000" stroke-width="0.8"/>
<circle cx="306.6" cy="235.2" r="2.2" fill="#fff" stroke="#000" stroke-width="0.8"/>
<circle cx="308.3" cy="238.4" r="2.2" fill="#fff" stroke="#000" stroke-width="0.8"/>
<circle cx="309.8" cy="240.9" r="2.2" fill="#fff" stroke="#000" stroke-width="0.8"/>
<circle cx="311.6" cy="242.2" r="2.2" fill="#fff" stroke="#000" stroke-width="0.8"/>
<circle cx="312.8" cy="245.2" r="2.2" fill="#fff" stroke="#000" stroke-width="0.8"/>
<circle cx="314.8" cy="240.9" r="2.2" fill="#fff" stroke="#000" stroke-width="0.8"/>
<circle cx="316.6" cy="239.7" r="2.2" fill="#fff" stroke="#000" stroke-width="0.8"/>
<circle cx="317.8" cy="228.4" r="2.2" fill="#fff" stroke="#000" stroke-width="0.8"/>
<circle cx="319.8" cy="232.2" r="2.2" fill="#fff" stroke="#000" stroke-width="0.8"/>
<circle cx="321.6" cy="221.7" r="2.2" fill="#fff" stroke="#000" stroke-width="0.8"/>
<circle cx="322.3" cy="229.7" r="2.2" fill="#fff" stroke="#000" stroke-width="0.8"/>
<circle cx="324.1" cy="230.9" r="2.2" fill="#fff" stroke="#000" stroke-width="0.8"/>
<circle cx="325.3" cy="235.9" r="2.2" fill="#fff" stroke="#000" stroke-width="0.8"/>
<circle cx="327.3" cy="218.4" r="2.2" fill="#fff" stroke="#000" stroke-width="0.8"/>
<circle cx="327.8" cy="223.4" r="2.2" fill="#fff" stroke="#000" stroke-width="0.8"/>
<circle cx="329.1" cy="227.7" r="2.2" fill="#fff" stroke="#000" stroke-width="0.8"/>
<circle cx="330.3" cy="234.7" r="2.2" fill="#fff" stroke="#000" stroke-width="0.8"/>
<circle cx="332.8" cy="233.4" r="2.2" fill="#fff" stroke="#000" stroke-width="0.8"/>
<circle cx="334.8" cy="234.2" r="2.2" fill="#fff" stroke="#000" stroke-width="0.8"/>
<circle cx="336.6" cy="235.9" r="2.2" fill="#fff" stroke="#000" stroke-width="0.8"/>
<circle cx="338.3" cy="237.2" r="2.2" fill="#fff" stroke="#000" stroke-width="0.8"/>
<circle cx="340.3" cy="229.7" r="2.2" fill="#fff" stroke="#000" stroke-width="0.8"/>
<circle cx="341.6" cy="233.4" r="2.2" fill="#fff" stroke="#000" stroke-width="0.8"/>
<circle cx="344.1" cy="212.2" r="2.2" fill="#fff" stroke="#000" stroke-width="0.8"/>
<circle cx="345.8" cy="223.4" r="2.2" fill="#fff" stroke="#000" stroke-width="0.8"/>
<circle cx="347.8" cy="235.9" r="2.2" fill="#fff" stroke="#000" stroke-width="0.8"/>
<circle cx="350.3" cy="237.2" r="2.2" fill="#fff" stroke="#000" stroke-width="0.8"/>
<circle cx="352.3" cy="234.7" r="2.2" fill="#fff" stroke="#000" stroke-width="0.8"/>
<circle cx="354.1" cy="228.4" r="2.2" fill="#fff" stroke="#000" stroke-width="0.8"/>
<circle cx="356.6" cy="219.7" r="2.2" fill="#fff" stroke="#000" stroke-width="0.8"/>
<circle cx="357.8" cy="224.7" r="2.2" fill="#fff" stroke="#000" stroke-width="0.8"/>
<circle cx="359.8" cy="232.2" r="2.2" fill="#fff" stroke="#000" stroke-width="0.8"/>
<circle cx="361.6" cy="233.4" r="2.2" fill="#fff" stroke="#000" stroke-width="0.8"/>
<circle cx="363.3" cy="234.7" r="2.2" fill="#fff" stroke="#000" stroke-width="0.8"/>
<circle cx="364.8" cy="237.2" r="2.2" fill="#fff" stroke="#000" stroke-width="0.8"/>
<circle cx="366.6" cy="240.9" r="2.2" fill="#fff" stroke="#000" stroke-width="0.8"/>
<circle cx="367.8" cy="236.7" r="2.2" fill="#fff" stroke="#000" stroke-width="0.8"/>
<circle cx="369.8" cy="233.4" r="2.2" fill="#fff" stroke="#000" stroke-width="0.8"/>
<circle cx="371.6" cy="239.7" r="2.2" fill="#fff" stroke="#000" stroke-width="0.8"/>
<circle cx="373.3" cy="242.2" r="2.2" fill="#fff" stroke="#000" stroke-width="0.8"/>
<circle cx="375.3" cy="245.9" r="2.2" fill="#fff" stroke="#000" stroke-width="0.8"/>
<circle cx="376.6" cy="240.9" r="2.2" fill="#fff" stroke="#000" stroke-width="0.8"/>
<circle cx="378.3" cy="242.2" r="2.2" fill="#fff" stroke="#000" stroke-width="0.8"/>
<circle cx="380.3" cy="244.7" r="2.2" fill="#fff" stroke="#000" stroke-width="0.8"/>
<circle cx="382.3" cy="244.2" r="2.2" fill="#fff" stroke="#000" stroke-width="0.8"/>
<circle cx="384.1" cy="238.4" r="2.2" fill="#fff" stroke="#000" stroke-width="0.8"/>
<circle cx="385.8" cy="237.2" r="2.2" fill="#fff" stroke="#000" stroke-width="0.8"/>
<circle cx="387.8" cy="239.7" r="2.2" fill="#fff" stroke="#000" stroke-width="0.8"/>
<circle cx="389.8" cy="240.9" r="2.2" fill="#fff" stroke="#000" stroke-width="0.8"/>
<circle cx="391.6" cy="237.2" r="2.2" fill="#fff" stroke="#000" stroke-width="0.8"/>
<circle cx="393.3" cy="237.7" r="2.2" fill="#fff" stroke="#000" stroke-width="0.8"/>
<circle cx="395.3" cy="242.2" r="2.2" fill="#fff" stroke="#000" stroke-width="0.8"/>
<circle cx="397.3" cy="245.9" r="2.2" fill="#fff" stroke="#000" stroke-width="0.8"/>
<circle cx="399.1" cy="238.4" r="2.2" fill="#fff" stroke="#000" stroke-width="0.8"/>
<circle cx="400.3" cy="244.7" r="2.2" fill="#fff" stroke="#000" stroke-width="0.8"/>
<circle cx="402.3" cy="245.9" r="2.2" fill="#fff" stroke="#000" stroke-width="0.8"/>
<circle cx="404.1" cy="243.4" r="2.2" fill="#fff" stroke="#000" stroke-width="0.8"/>
<circle cx="405.8" cy="244.2" r="2.2" fill="#fff" stroke="#000" stroke-width="0.8"/>
<circle cx="409.1" cy="234.7" r="2.2" fill="#fff" stroke="#000" stroke-width="0.8"/>
<circle cx="175.3" cy="219.7" r="2.2" fill="#fff" stroke="#000" stroke-width="0.8"/>
</g>
<g stroke="#000" stroke-width="2" fill="none">
<path d="M70.7 4.1V274.4M69.8 273.4H459.3"/>
<g stroke-width="1.7">
<line x1="67.2" y1="5.00" x2="70.8" y2="5.00"/>
<line x1="70.80" y1="273.4" x2="70.80" y2="276.79999999999995"/>
<line x1="67.2" y1="38.55" x2="70.8" y2="38.55"/>
<line x1="119.26" y1="273.4" x2="119.26" y2="276.79999999999995"/>
<line x1="67.2" y1="72.10" x2="70.8" y2="72.10"/>
<line x1="167.72" y1="273.4" x2="167.72" y2="276.79999999999995"/>
<line x1="67.2" y1="105.65" x2="70.8" y2="105.65"/>
<line x1="216.19" y1="273.4" x2="216.19" y2="276.79999999999995"/>
<line x1="67.2" y1="139.20" x2="70.8" y2="139.20"/>
<line x1="264.65" y1="273.4" x2="264.65" y2="276.79999999999995"/>
<line x1="67.2" y1="172.75" x2="70.8" y2="172.75"/>
<line x1="313.11" y1="273.4" x2="313.11" y2="276.79999999999995"/>
<line x1="67.2" y1="206.30" x2="70.8" y2="206.30"/>
<line x1="361.57" y1="273.4" x2="361.57" y2="276.79999999999995"/>
<line x1="67.2" y1="239.85" x2="70.8" y2="239.85"/>
<line x1="410.04" y1="273.4" x2="410.04" y2="276.79999999999995"/>
<line x1="67.2" y1="273.40" x2="70.8" y2="273.40"/>
<line x1="458.50" y1="273.4" x2="458.50" y2="276.79999999999995"/>
</g></g>
<g font-size="11.2" fill="#1a1a1a">
<text x="63.6" y="8.9" text-anchor="end">1000000</text>
<text x="63.6" y="42.4" text-anchor="end">100000</text>
<text x="63.6" y="76.0" text-anchor="end">10000</text>
<text x="63.6" y="109.5" text-anchor="end">1000</text>
<text x="63.6" y="143.1" text-anchor="end">100</text>
<text x="63.6" y="176.7" text-anchor="end">10</text>
<text x="63.6" y="210.2" text-anchor="end">1</text>
<text x="63.6" y="243.7" text-anchor="end">0.1</text>
<text x="63.6" y="277.3" text-anchor="end">0.01</text>
</g>
<g font-size="10.7" fill="#1a1a1a">
<text x="70.8" y="291.3" text-anchor="middle">2011/3/1</text>
<text x="119.3" y="291.3" text-anchor="middle">2011/8/31</text>
<text x="167.7" y="291.3" text-anchor="middle">2012/3/1</text>
<text x="216.2" y="291.3" text-anchor="middle">2012/8/31</text>
<text x="264.6" y="291.3" text-anchor="middle">2013/3/2</text>
<text x="313.1" y="291.3" text-anchor="middle">2013/9/1</text>
<text x="361.6" y="291.3" text-anchor="middle">2014/3/3</text>
<text x="410.0" y="291.3" text-anchor="middle">2014/9/2</text>
<text x="458.5" y="291.3" text-anchor="middle">2015/3/4</text>
</g>
<text x="252.2" y="310.1" font-size="12.9" font-weight="bold" fill="#111" textLength="34" lengthAdjust="spacingAndGlyphs">DATE</text>
<text transform="translate(13.2,269.5) rotate(-90)" font-size="14.6" font-weight="bold" fill="#111" textLength="261" lengthAdjust="spacingAndGlyphs"><tspan font-size="8.6" dy="-5">137</tspan><tspan dy="5">Cs concentration in sea water&#160;&#160;Bq/L</tspan></text>
<rect x="205" y="19.2" width="251.5" height="61.1" fill="#fff" stroke="#9a9a9a" stroke-width="0.9"/>
<g font-size="10.8" fill="#111">
<circle cx="214.6" cy="29.3" r="2.3" fill="#bfbfbf"/>
<path d="M214.6 47.1L217.3 49.8L214.6 52.5L211.9 49.8Z" fill="#595959"/>
<circle cx="214.6" cy="70.2" r="2.3" fill="#000"/>
<text x="221.6" y="33.3" textLength="35" lengthAdjust="spacingAndGlyphs">Site-FP</text>
<text x="221.6" y="53.6" textLength="34.8" lengthAdjust="spacingAndGlyphs">Site-F1</text>
<text x="221.6" y="73.8" textLength="34.8" lengthAdjust="spacingAndGlyphs">Site-F2</text>
<ellipse cx="339.9" cy="29.2" rx="2.5" ry="2.0" fill="#fff" stroke="#777" stroke-width="0.9"/>
<path d="M339.9 47.1L342.6 49.8L339.9 52.5L337.2 49.8Z" fill="#fff" stroke="#aaa" stroke-width="0.8"/>
<circle cx="339.9" cy="70.3" r="1.7" fill="#fff" stroke="#6a6a6a" stroke-width="0.85"/>
<text x="347" y="33.2" textLength="101.8" lengthAdjust="spacingAndGlyphs">Site-FP(Interported)</text>
<text x="347" y="53.6" textLength="107.3" lengthAdjust="spacingAndGlyphs">Site-F1(Interporated)</text>
<text x="347" y="74" textLength="107.3" lengthAdjust="spacingAndGlyphs">Site-F2(Interporated)</text>
</g>
</svg>
</body></html>
